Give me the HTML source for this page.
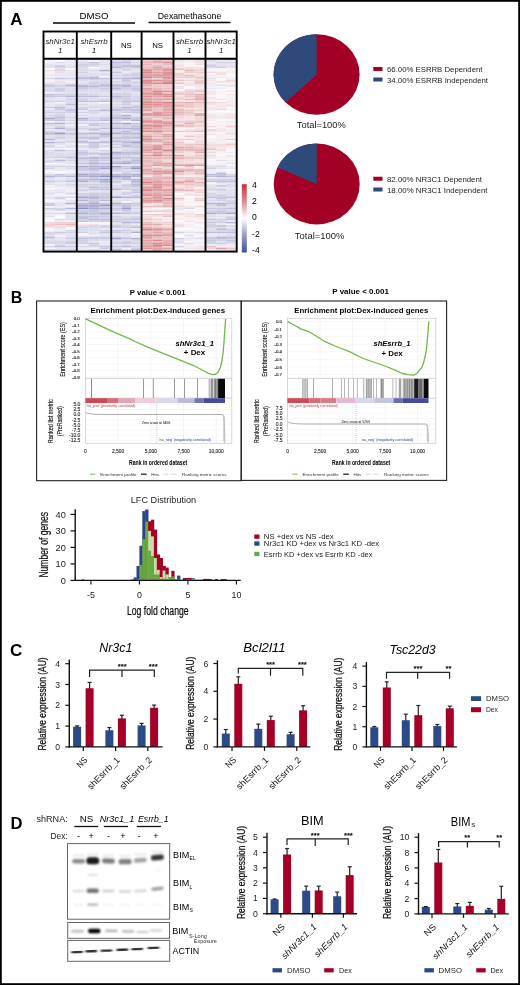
<!DOCTYPE html><html><head><meta charset="utf-8"><style>html,body{margin:0;padding:0;background:#fff;}svg{display:block;will-change:transform;}text{font-family:"Liberation Sans", sans-serif;}</style></head><body><svg width="520" height="985" viewBox="0 0 520 985"><rect x="0" y="0" width="520" height="985" fill="#fff"/><text x="10.3" y="24.8" font-size="17" font-weight="bold" fill="#000" >A</text>
<text x="94.0" y="18.7" font-size="9.4" text-anchor="middle" textLength="28.9" lengthAdjust="spacingAndGlyphs" >DMSO</text>
<line x1="53.00" y1="23.00" x2="135.00" y2="23.00" stroke="#000" stroke-width="1.4" />
<text x="189.5" y="18.6" font-size="8.9" text-anchor="middle" textLength="63.5" lengthAdjust="spacingAndGlyphs" >Dexamethasone</text>
<line x1="148.50" y1="22.50" x2="230.50" y2="22.50" stroke="#000" stroke-width="1.4" />
<defs><filter id="hb" x="0" y="0" width="1" height="1"><feGaussianBlur stdDeviation="0.45"/></filter></defs>
<g filter="url(#hb)">
<rect x="44.30" y="58.80" width="10.62" height="1.65" fill="#eae9f2" />
<rect x="44.30" y="60.40" width="10.62" height="1.65" fill="#f8f6fa" />
<rect x="44.30" y="62.00" width="10.62" height="1.65" fill="#edebf4" />
<rect x="44.30" y="63.60" width="10.62" height="1.65" fill="#e6e5f0" />
<rect x="44.30" y="65.20" width="10.62" height="1.65" fill="#ddddec" />
<rect x="44.30" y="66.80" width="10.62" height="1.65" fill="#e5e4f0" />
<rect x="44.30" y="68.40" width="10.62" height="1.65" fill="#f8f6fa" />
<rect x="44.30" y="70.00" width="10.62" height="1.65" fill="#f4e1e3" />
<rect x="44.30" y="71.60" width="10.62" height="1.65" fill="#f3f2f7" />
<rect x="44.30" y="73.20" width="10.62" height="1.65" fill="#eeedf5" />
<rect x="44.30" y="74.80" width="10.62" height="1.65" fill="#e9e8f2" />
<rect x="44.30" y="76.40" width="10.62" height="1.65" fill="#efeef5" />
<rect x="44.30" y="78.00" width="10.62" height="1.65" fill="#d8d8e9" />
<rect x="44.30" y="79.60" width="10.62" height="1.65" fill="#faf3f5" />
<rect x="44.30" y="81.20" width="10.62" height="1.65" fill="#f8ecee" />
<rect x="44.30" y="82.80" width="10.62" height="1.65" fill="#e0dfed" />
<rect x="44.30" y="84.40" width="10.62" height="1.65" fill="#c5c6df" />
<rect x="44.30" y="86.00" width="10.62" height="1.65" fill="#c8c8e1" />
<rect x="44.30" y="87.60" width="10.62" height="1.65" fill="#dddcec" />
<rect x="44.30" y="89.20" width="10.62" height="1.65" fill="#d1d1e5" />
<rect x="44.30" y="90.80" width="10.62" height="1.65" fill="#e1e1ee" />
<rect x="44.30" y="92.40" width="10.62" height="1.65" fill="#eeedf5" />
<rect x="44.30" y="94.00" width="10.62" height="1.65" fill="#bebfdb" />
<rect x="44.30" y="95.60" width="10.62" height="1.65" fill="#c2c3de" />
<rect x="44.30" y="97.20" width="10.62" height="1.65" fill="#dfdfed" />
<rect x="44.30" y="98.80" width="10.62" height="1.65" fill="#e2e1ee" />
<rect x="44.30" y="100.40" width="10.62" height="1.65" fill="#d5d5e7" />
<rect x="44.30" y="102.00" width="10.62" height="1.65" fill="#e6e6f1" />
<rect x="44.30" y="103.60" width="10.62" height="1.65" fill="#e6e5f1" />
<rect x="44.30" y="105.20" width="10.62" height="1.65" fill="#e9e8f2" />
<rect x="44.30" y="106.80" width="10.62" height="1.65" fill="#cacbe2" />
<rect x="44.30" y="108.40" width="10.62" height="1.65" fill="#ecebf4" />
<rect x="44.30" y="110.00" width="10.62" height="1.65" fill="#d9d9ea" />
<rect x="44.30" y="111.60" width="10.62" height="1.65" fill="#d0d0e5" />
<rect x="44.30" y="113.20" width="10.62" height="1.65" fill="#dedeec" />
<rect x="44.30" y="114.80" width="10.62" height="1.65" fill="#d8d8e9" />
<rect x="44.30" y="116.40" width="10.62" height="1.65" fill="#d2d2e6" />
<rect x="44.30" y="118.00" width="10.62" height="1.65" fill="#a6a8cf" />
<rect x="44.30" y="119.60" width="10.62" height="1.65" fill="#cbcbe2" />
<rect x="44.30" y="121.20" width="10.62" height="1.65" fill="#f0eff6" />
<rect x="44.30" y="122.80" width="10.62" height="1.65" fill="#bebfdb" />
<rect x="44.30" y="124.40" width="10.62" height="1.65" fill="#d9d9ea" />
<rect x="44.30" y="126.00" width="10.62" height="1.65" fill="#e7e6f1" />
<rect x="44.30" y="127.60" width="10.62" height="1.65" fill="#d0d1e5" />
<rect x="44.30" y="129.20" width="10.62" height="1.65" fill="#e9e8f2" />
<rect x="44.30" y="130.80" width="10.62" height="1.65" fill="#d1d1e5" />
<rect x="44.30" y="132.40" width="10.62" height="1.65" fill="#b9bad9" />
<rect x="44.30" y="134.00" width="10.62" height="1.65" fill="#cecfe4" />
<rect x="44.30" y="135.60" width="10.62" height="1.65" fill="#ddddec" />
<rect x="44.30" y="137.20" width="10.62" height="1.65" fill="#dbdaea" />
<rect x="44.30" y="138.80" width="10.62" height="1.65" fill="#b8bad8" />
<rect x="44.30" y="140.40" width="10.62" height="1.65" fill="#e2e2ef" />
<rect x="44.30" y="142.00" width="10.62" height="1.65" fill="#b0b1d4" />
<rect x="44.30" y="143.60" width="10.62" height="1.65" fill="#e7e6f1" />
<rect x="44.30" y="145.20" width="10.62" height="1.65" fill="#cacbe2" />
<rect x="44.30" y="146.80" width="10.62" height="1.65" fill="#e2e2ee" />
<rect x="44.30" y="148.40" width="10.62" height="1.65" fill="#f3f2f7" />
<rect x="44.30" y="150.00" width="10.62" height="1.65" fill="#d8d8e9" />
<rect x="44.30" y="151.60" width="10.62" height="1.65" fill="#dbdaea" />
<rect x="44.30" y="153.20" width="10.62" height="1.65" fill="#d3d3e7" />
<rect x="44.30" y="154.80" width="10.62" height="1.65" fill="#e2e1ee" />
<rect x="44.30" y="156.40" width="10.62" height="1.65" fill="#d3d3e6" />
<rect x="44.30" y="158.00" width="10.62" height="1.65" fill="#e9e8f2" />
<rect x="44.30" y="159.60" width="10.62" height="1.65" fill="#dcdbeb" />
<rect x="44.30" y="161.20" width="10.62" height="1.65" fill="#d0d0e5" />
<rect x="44.30" y="162.80" width="10.62" height="1.65" fill="#f9f8fb" />
<rect x="44.30" y="164.40" width="10.62" height="1.65" fill="#e2e1ee" />
<rect x="44.30" y="166.00" width="10.62" height="1.65" fill="#d7d7e9" />
<rect x="44.30" y="167.60" width="10.62" height="1.65" fill="#d0d0e5" />
<rect x="44.30" y="169.20" width="10.62" height="1.65" fill="#e9e8f2" />
<rect x="44.30" y="170.80" width="10.62" height="1.65" fill="#fcf9fb" />
<rect x="44.30" y="172.40" width="10.62" height="1.65" fill="#eeecf4" />
<rect x="44.30" y="174.00" width="10.62" height="1.65" fill="#d8d8e9" />
<rect x="44.30" y="175.60" width="10.62" height="1.65" fill="#b2b4d5" />
<rect x="44.30" y="177.20" width="10.62" height="1.65" fill="#d7d7e8" />
<rect x="44.30" y="178.80" width="10.62" height="1.65" fill="#e3e3ef" />
<rect x="44.30" y="180.40" width="10.62" height="1.65" fill="#cbcce2" />
<rect x="44.30" y="182.00" width="10.62" height="1.65" fill="#e2e2ef" />
<rect x="44.30" y="183.60" width="10.62" height="1.65" fill="#dedeec" />
<rect x="44.30" y="185.20" width="10.62" height="1.65" fill="#f3f2f7" />
<rect x="44.30" y="186.80" width="10.62" height="1.65" fill="#eeedf5" />
<rect x="44.30" y="188.40" width="10.62" height="1.65" fill="#f8f6fa" />
<rect x="44.30" y="190.00" width="10.62" height="1.65" fill="#e9e8f2" />
<rect x="44.30" y="191.60" width="10.62" height="1.65" fill="#e9e8f2" />
<rect x="44.30" y="193.20" width="10.62" height="1.65" fill="#dbdbeb" />
<rect x="44.30" y="194.80" width="10.62" height="1.65" fill="#f1eff6" />
<rect x="44.30" y="196.40" width="10.62" height="1.65" fill="#e3e3ef" />
<rect x="44.30" y="198.00" width="10.62" height="1.65" fill="#e5e4f0" />
<rect x="44.30" y="199.60" width="10.62" height="1.65" fill="#fbf8fa" />
<rect x="44.30" y="201.20" width="10.62" height="1.65" fill="#f3f1f7" />
<rect x="44.30" y="202.80" width="10.62" height="1.65" fill="#c9c9e1" />
<rect x="44.30" y="204.40" width="10.62" height="1.65" fill="#c2c3dd" />
<rect x="44.30" y="206.00" width="10.62" height="1.65" fill="#fcfafc" />
<rect x="44.30" y="207.60" width="10.62" height="1.65" fill="#cdcee4" />
<rect x="44.30" y="209.20" width="10.62" height="1.65" fill="#dbdbeb" />
<rect x="44.30" y="210.80" width="10.62" height="1.65" fill="#f4f2f8" />
<rect x="44.30" y="212.40" width="10.62" height="1.65" fill="#dbdbeb" />
<rect x="44.30" y="214.00" width="10.62" height="1.65" fill="#f8edef" />
<rect x="44.30" y="215.60" width="10.62" height="1.65" fill="#e0dfed" />
<rect x="44.30" y="217.20" width="10.62" height="1.65" fill="#f2f1f7" />
<rect x="44.30" y="218.80" width="10.62" height="1.65" fill="#fcfafc" />
<rect x="44.30" y="220.40" width="10.62" height="1.65" fill="#faf5f7" />
<rect x="44.30" y="222.00" width="10.62" height="1.65" fill="#f1d7d9" />
<rect x="44.30" y="223.60" width="10.62" height="1.65" fill="#efd0d2" />
<rect x="44.30" y="225.20" width="10.62" height="1.65" fill="#eeced0" />
<rect x="44.30" y="226.80" width="10.62" height="1.65" fill="#e8e7f2" />
<rect x="44.30" y="228.40" width="10.62" height="1.65" fill="#f5f4f8" />
<rect x="44.30" y="230.00" width="10.62" height="1.65" fill="#f7f5f9" />
<rect x="44.30" y="231.60" width="10.62" height="1.65" fill="#d7d7e9" />
<rect x="44.30" y="233.20" width="10.62" height="1.65" fill="#cfd0e5" />
<rect x="44.30" y="234.80" width="10.62" height="1.65" fill="#e9e8f2" />
<rect x="44.30" y="236.40" width="10.62" height="1.65" fill="#c0c0dc" />
<rect x="44.30" y="238.00" width="10.62" height="1.65" fill="#d8d7e9" />
<rect x="44.30" y="239.60" width="10.62" height="1.65" fill="#dfdeed" />
<rect x="44.30" y="241.20" width="10.62" height="1.65" fill="#d3d3e7" />
<rect x="44.30" y="242.80" width="10.62" height="1.65" fill="#d9d8e9" />
<rect x="44.30" y="244.40" width="10.62" height="1.65" fill="#f4f2f8" />
<rect x="44.30" y="246.00" width="10.62" height="1.65" fill="#d0d0e5" />
<rect x="44.30" y="247.60" width="10.62" height="1.65" fill="#f7f6fa" />
<rect x="44.30" y="249.20" width="10.62" height="1.65" fill="#cacbe2" />
<rect x="44.30" y="250.80" width="10.62" height="0.85" fill="#deddec" />
<rect x="54.87" y="58.80" width="10.62" height="1.65" fill="#f3f2f8" />
<rect x="54.87" y="60.40" width="10.62" height="1.65" fill="#fcf9fb" />
<rect x="54.87" y="62.00" width="10.62" height="1.65" fill="#dbdbeb" />
<rect x="54.87" y="63.60" width="10.62" height="1.65" fill="#ecebf4" />
<rect x="54.87" y="65.20" width="10.62" height="1.65" fill="#c3c3de" />
<rect x="54.87" y="66.80" width="10.62" height="1.65" fill="#d7d7e8" />
<rect x="54.87" y="68.40" width="10.62" height="1.65" fill="#dbdaea" />
<rect x="54.87" y="70.00" width="10.62" height="1.65" fill="#efd1d3" />
<rect x="54.87" y="71.60" width="10.62" height="1.65" fill="#e2e2ee" />
<rect x="54.87" y="73.20" width="10.62" height="1.65" fill="#e8e7f1" />
<rect x="54.87" y="74.80" width="10.62" height="1.65" fill="#e7e6f1" />
<rect x="54.87" y="76.40" width="10.62" height="1.65" fill="#e6e5f0" />
<rect x="54.87" y="78.00" width="10.62" height="1.65" fill="#c8c9e1" />
<rect x="54.87" y="79.60" width="10.62" height="1.65" fill="#edecf4" />
<rect x="54.87" y="81.20" width="10.62" height="1.65" fill="#f1d9db" />
<rect x="54.87" y="82.80" width="10.62" height="1.65" fill="#e5e4f0" />
<rect x="54.87" y="84.40" width="10.62" height="1.65" fill="#d1d1e6" />
<rect x="54.87" y="86.00" width="10.62" height="1.65" fill="#d6d6e8" />
<rect x="54.87" y="87.60" width="10.62" height="1.65" fill="#cfcfe4" />
<rect x="54.87" y="89.20" width="10.62" height="1.65" fill="#c4c5df" />
<rect x="54.87" y="90.80" width="10.62" height="1.65" fill="#d7d7e8" />
<rect x="54.87" y="92.40" width="10.62" height="1.65" fill="#e5e5f0" />
<rect x="54.87" y="94.00" width="10.62" height="1.65" fill="#cacbe2" />
<rect x="54.87" y="95.60" width="10.62" height="1.65" fill="#cacae2" />
<rect x="54.87" y="97.20" width="10.62" height="1.65" fill="#e8e7f2" />
<rect x="54.87" y="98.80" width="10.62" height="1.65" fill="#e6e6f1" />
<rect x="54.87" y="100.40" width="10.62" height="1.65" fill="#d1d2e6" />
<rect x="54.87" y="102.00" width="10.62" height="1.65" fill="#f4f3f8" />
<rect x="54.87" y="103.60" width="10.62" height="1.65" fill="#e1e0ee" />
<rect x="54.87" y="105.20" width="10.62" height="1.65" fill="#d8d8e9" />
<rect x="54.87" y="106.80" width="10.62" height="1.65" fill="#bcbdda" />
<rect x="54.87" y="108.40" width="10.62" height="1.65" fill="#c7c8e0" />
<rect x="54.87" y="110.00" width="10.62" height="1.65" fill="#dfdfed" />
<rect x="54.87" y="111.60" width="10.62" height="1.65" fill="#d0d0e5" />
<rect x="54.87" y="113.20" width="10.62" height="1.65" fill="#d5d5e7" />
<rect x="54.87" y="114.80" width="10.62" height="1.65" fill="#d1d1e6" />
<rect x="54.87" y="116.40" width="10.62" height="1.65" fill="#bebfdb" />
<rect x="54.87" y="118.00" width="10.62" height="1.65" fill="#cbcbe2" />
<rect x="54.87" y="119.60" width="10.62" height="1.65" fill="#c1c2dd" />
<rect x="54.87" y="121.20" width="10.62" height="1.65" fill="#e9e8f2" />
<rect x="54.87" y="122.80" width="10.62" height="1.65" fill="#adafd3" />
<rect x="54.87" y="124.40" width="10.62" height="1.65" fill="#dedeec" />
<rect x="54.87" y="126.00" width="10.62" height="1.65" fill="#d4d5e7" />
<rect x="54.87" y="127.60" width="10.62" height="1.65" fill="#aaacd1" />
<rect x="54.87" y="129.20" width="10.62" height="1.65" fill="#e0e0ed" />
<rect x="54.87" y="130.80" width="10.62" height="1.65" fill="#e2e1ee" />
<rect x="54.87" y="132.40" width="10.62" height="1.65" fill="#9ea1ca" />
<rect x="54.87" y="134.00" width="10.62" height="1.65" fill="#c7c8e0" />
<rect x="54.87" y="135.60" width="10.62" height="1.65" fill="#d9d9ea" />
<rect x="54.87" y="137.20" width="10.62" height="1.65" fill="#c6c7e0" />
<rect x="54.87" y="138.80" width="10.62" height="1.65" fill="#e5e4f0" />
<rect x="54.87" y="140.40" width="10.62" height="1.65" fill="#dedeec" />
<rect x="54.87" y="142.00" width="10.62" height="1.65" fill="#cdcde3" />
<rect x="54.87" y="143.60" width="10.62" height="1.65" fill="#e3e2ef" />
<rect x="54.87" y="145.20" width="10.62" height="1.65" fill="#edebf4" />
<rect x="54.87" y="146.80" width="10.62" height="1.65" fill="#e8e7f1" />
<rect x="54.87" y="148.40" width="10.62" height="1.65" fill="#ebe9f3" />
<rect x="54.87" y="150.00" width="10.62" height="1.65" fill="#bebfdb" />
<rect x="54.87" y="151.60" width="10.62" height="1.65" fill="#e3e2ef" />
<rect x="54.87" y="153.20" width="10.62" height="1.65" fill="#dad9ea" />
<rect x="54.87" y="154.80" width="10.62" height="1.65" fill="#dddcec" />
<rect x="54.87" y="156.40" width="10.62" height="1.65" fill="#cecee4" />
<rect x="54.87" y="158.00" width="10.62" height="1.65" fill="#edecf4" />
<rect x="54.87" y="159.60" width="10.62" height="1.65" fill="#b6b8d7" />
<rect x="54.87" y="161.20" width="10.62" height="1.65" fill="#dad9ea" />
<rect x="54.87" y="162.80" width="10.62" height="1.65" fill="#f6f4f9" />
<rect x="54.87" y="164.40" width="10.62" height="1.65" fill="#e4e3ef" />
<rect x="54.87" y="166.00" width="10.62" height="1.65" fill="#d4d4e7" />
<rect x="54.87" y="167.60" width="10.62" height="1.65" fill="#e9e8f2" />
<rect x="54.87" y="169.20" width="10.62" height="1.65" fill="#e6e5f0" />
<rect x="54.87" y="170.80" width="10.62" height="1.65" fill="#fbf9fb" />
<rect x="54.87" y="172.40" width="10.62" height="1.65" fill="#f5f4f8" />
<rect x="54.87" y="174.00" width="10.62" height="1.65" fill="#c3c4de" />
<rect x="54.87" y="175.60" width="10.62" height="1.65" fill="#c6c7e0" />
<rect x="54.87" y="177.20" width="10.62" height="1.65" fill="#ebeaf3" />
<rect x="54.87" y="178.80" width="10.62" height="1.65" fill="#e6e5f0" />
<rect x="54.87" y="180.40" width="10.62" height="1.65" fill="#d8d7e9" />
<rect x="54.87" y="182.00" width="10.62" height="1.65" fill="#ecebf4" />
<rect x="54.87" y="183.60" width="10.62" height="1.65" fill="#e4e3ef" />
<rect x="54.87" y="185.20" width="10.62" height="1.65" fill="#e1e0ee" />
<rect x="54.87" y="186.80" width="10.62" height="1.65" fill="#f0eef6" />
<rect x="54.87" y="188.40" width="10.62" height="1.65" fill="#e9e8f2" />
<rect x="54.87" y="190.00" width="10.62" height="1.65" fill="#eae9f2" />
<rect x="54.87" y="191.60" width="10.62" height="1.65" fill="#dfdfed" />
<rect x="54.87" y="193.20" width="10.62" height="1.65" fill="#f8eef0" />
<rect x="54.87" y="194.80" width="10.62" height="1.65" fill="#f5f3f8" />
<rect x="54.87" y="196.40" width="10.62" height="1.65" fill="#d8d8e9" />
<rect x="54.87" y="198.00" width="10.62" height="1.65" fill="#d1d1e5" />
<rect x="54.87" y="199.60" width="10.62" height="1.65" fill="#f3f1f7" />
<rect x="54.87" y="201.20" width="10.62" height="1.65" fill="#edecf4" />
<rect x="54.87" y="202.80" width="10.62" height="1.65" fill="#e0e0ed" />
<rect x="54.87" y="204.40" width="10.62" height="1.65" fill="#e1e0ee" />
<rect x="54.87" y="206.00" width="10.62" height="1.65" fill="#ebeaf3" />
<rect x="54.87" y="207.60" width="10.62" height="1.65" fill="#d6d6e8" />
<rect x="54.87" y="209.20" width="10.62" height="1.65" fill="#c9cae1" />
<rect x="54.87" y="210.80" width="10.62" height="1.65" fill="#fbf9fb" />
<rect x="54.87" y="212.40" width="10.62" height="1.65" fill="#dadaea" />
<rect x="54.87" y="214.00" width="10.62" height="1.65" fill="#eeedf5" />
<rect x="54.87" y="215.60" width="10.62" height="1.65" fill="#fbf9fb" />
<rect x="54.87" y="217.20" width="10.62" height="1.65" fill="#faf8fb" />
<rect x="54.87" y="218.80" width="10.62" height="1.65" fill="#dbdbeb" />
<rect x="54.87" y="220.40" width="10.62" height="1.65" fill="#e8e7f2" />
<rect x="54.87" y="222.00" width="10.62" height="1.65" fill="#efd0d2" />
<rect x="54.87" y="223.60" width="10.62" height="1.65" fill="#eac1c3" />
<rect x="54.87" y="225.20" width="10.62" height="1.65" fill="#f4e0e2" />
<rect x="54.87" y="226.80" width="10.62" height="1.65" fill="#dcdceb" />
<rect x="54.87" y="228.40" width="10.62" height="1.65" fill="#f6e7e9" />
<rect x="54.87" y="230.00" width="10.62" height="1.65" fill="#f2f1f7" />
<rect x="54.87" y="231.60" width="10.62" height="1.65" fill="#cacbe2" />
<rect x="54.87" y="233.20" width="10.62" height="1.65" fill="#dbdbeb" />
<rect x="54.87" y="234.80" width="10.62" height="1.65" fill="#faf4f6" />
<rect x="54.87" y="236.40" width="10.62" height="1.65" fill="#e4e3ef" />
<rect x="54.87" y="238.00" width="10.62" height="1.65" fill="#e3e2ef" />
<rect x="54.87" y="239.60" width="10.62" height="1.65" fill="#e4e4f0" />
<rect x="54.87" y="241.20" width="10.62" height="1.65" fill="#d0d0e5" />
<rect x="54.87" y="242.80" width="10.62" height="1.65" fill="#dcdbeb" />
<rect x="54.87" y="244.40" width="10.62" height="1.65" fill="#d1d1e5" />
<rect x="54.87" y="246.00" width="10.62" height="1.65" fill="#c5c5df" />
<rect x="54.87" y="247.60" width="10.62" height="1.65" fill="#e8e7f1" />
<rect x="54.87" y="249.20" width="10.62" height="1.65" fill="#d2d2e6" />
<rect x="54.87" y="250.80" width="10.62" height="0.85" fill="#c7c7e0" />
<rect x="65.43" y="58.80" width="10.62" height="1.65" fill="#e1e0ee" />
<rect x="65.43" y="60.40" width="10.62" height="1.65" fill="#f0eff6" />
<rect x="65.43" y="62.00" width="10.62" height="1.65" fill="#e7e6f1" />
<rect x="65.43" y="63.60" width="10.62" height="1.65" fill="#e9e8f2" />
<rect x="65.43" y="65.20" width="10.62" height="1.65" fill="#deddec" />
<rect x="65.43" y="66.80" width="10.62" height="1.65" fill="#dfdfed" />
<rect x="65.43" y="68.40" width="10.62" height="1.65" fill="#faf8fb" />
<rect x="65.43" y="70.00" width="10.62" height="1.65" fill="#f3dee0" />
<rect x="65.43" y="71.60" width="10.62" height="1.65" fill="#e7e6f1" />
<rect x="65.43" y="73.20" width="10.62" height="1.65" fill="#e1e0ee" />
<rect x="65.43" y="74.80" width="10.62" height="1.65" fill="#e9e8f2" />
<rect x="65.43" y="76.40" width="10.62" height="1.65" fill="#e5e4f0" />
<rect x="65.43" y="78.00" width="10.62" height="1.65" fill="#d2d3e6" />
<rect x="65.43" y="79.60" width="10.62" height="1.65" fill="#ebeaf3" />
<rect x="65.43" y="81.20" width="10.62" height="1.65" fill="#f8eef0" />
<rect x="65.43" y="82.80" width="10.62" height="1.65" fill="#e3e2ef" />
<rect x="65.43" y="84.40" width="10.62" height="1.65" fill="#b9bad9" />
<rect x="65.43" y="86.00" width="10.62" height="1.65" fill="#cecee4" />
<rect x="65.43" y="87.60" width="10.62" height="1.65" fill="#dedeec" />
<rect x="65.43" y="89.20" width="10.62" height="1.65" fill="#dadaea" />
<rect x="65.43" y="90.80" width="10.62" height="1.65" fill="#dbdbeb" />
<rect x="65.43" y="92.40" width="10.62" height="1.65" fill="#dedeec" />
<rect x="65.43" y="94.00" width="10.62" height="1.65" fill="#d4d4e7" />
<rect x="65.43" y="95.60" width="10.62" height="1.65" fill="#b8b9d8" />
<rect x="65.43" y="97.20" width="10.62" height="1.65" fill="#ddddec" />
<rect x="65.43" y="98.80" width="10.62" height="1.65" fill="#d2d2e6" />
<rect x="65.43" y="100.40" width="10.62" height="1.65" fill="#dbdaea" />
<rect x="65.43" y="102.00" width="10.62" height="1.65" fill="#dfdeed" />
<rect x="65.43" y="103.60" width="10.62" height="1.65" fill="#bcbedb" />
<rect x="65.43" y="105.20" width="10.62" height="1.65" fill="#dadaea" />
<rect x="65.43" y="106.80" width="10.62" height="1.65" fill="#e4e3ef" />
<rect x="65.43" y="108.40" width="10.62" height="1.65" fill="#cacbe2" />
<rect x="65.43" y="110.00" width="10.62" height="1.65" fill="#c2c3dd" />
<rect x="65.43" y="111.60" width="10.62" height="1.65" fill="#cdcde3" />
<rect x="65.43" y="113.20" width="10.62" height="1.65" fill="#e5e4f0" />
<rect x="65.43" y="114.80" width="10.62" height="1.65" fill="#e1e0ee" />
<rect x="65.43" y="116.40" width="10.62" height="1.65" fill="#d5d5e8" />
<rect x="65.43" y="118.00" width="10.62" height="1.65" fill="#dfdeed" />
<rect x="65.43" y="119.60" width="10.62" height="1.65" fill="#dadaea" />
<rect x="65.43" y="121.20" width="10.62" height="1.65" fill="#e5e4f0" />
<rect x="65.43" y="122.80" width="10.62" height="1.65" fill="#d6d6e8" />
<rect x="65.43" y="124.40" width="10.62" height="1.65" fill="#edecf4" />
<rect x="65.43" y="126.00" width="10.62" height="1.65" fill="#e7e6f1" />
<rect x="65.43" y="127.60" width="10.62" height="1.65" fill="#d3d3e6" />
<rect x="65.43" y="129.20" width="10.62" height="1.65" fill="#c9cae1" />
<rect x="65.43" y="130.80" width="10.62" height="1.65" fill="#e3e3ef" />
<rect x="65.43" y="132.40" width="10.62" height="1.65" fill="#c7c8e0" />
<rect x="65.43" y="134.00" width="10.62" height="1.65" fill="#cfcfe4" />
<rect x="65.43" y="135.60" width="10.62" height="1.65" fill="#e2e1ee" />
<rect x="65.43" y="137.20" width="10.62" height="1.65" fill="#d5d5e7" />
<rect x="65.43" y="138.80" width="10.62" height="1.65" fill="#e6e5f1" />
<rect x="65.43" y="140.40" width="10.62" height="1.65" fill="#d3d3e6" />
<rect x="65.43" y="142.00" width="10.62" height="1.65" fill="#e4e3ef" />
<rect x="65.43" y="143.60" width="10.62" height="1.65" fill="#edecf4" />
<rect x="65.43" y="145.20" width="10.62" height="1.65" fill="#dbdbeb" />
<rect x="65.43" y="146.80" width="10.62" height="1.65" fill="#e1e1ee" />
<rect x="65.43" y="148.40" width="10.62" height="1.65" fill="#f9f2f4" />
<rect x="65.43" y="150.00" width="10.62" height="1.65" fill="#d6d6e8" />
<rect x="65.43" y="151.60" width="10.62" height="1.65" fill="#e2e2ef" />
<rect x="65.43" y="153.20" width="10.62" height="1.65" fill="#d6d6e8" />
<rect x="65.43" y="154.80" width="10.62" height="1.65" fill="#e0e0ed" />
<rect x="65.43" y="156.40" width="10.62" height="1.65" fill="#c4c5df" />
<rect x="65.43" y="158.00" width="10.62" height="1.65" fill="#d9d9ea" />
<rect x="65.43" y="159.60" width="10.62" height="1.65" fill="#d4d4e7" />
<rect x="65.43" y="161.20" width="10.62" height="1.65" fill="#e1e1ee" />
<rect x="65.43" y="162.80" width="10.62" height="1.65" fill="#e3e2ef" />
<rect x="65.43" y="164.40" width="10.62" height="1.65" fill="#efeef5" />
<rect x="65.43" y="166.00" width="10.62" height="1.65" fill="#d6d6e8" />
<rect x="65.43" y="167.60" width="10.62" height="1.65" fill="#dadaea" />
<rect x="65.43" y="169.20" width="10.62" height="1.65" fill="#e9e8f2" />
<rect x="65.43" y="170.80" width="10.62" height="1.65" fill="#f5f3f8" />
<rect x="65.43" y="172.40" width="10.62" height="1.65" fill="#e8e7f2" />
<rect x="65.43" y="174.00" width="10.62" height="1.65" fill="#d8d8e9" />
<rect x="65.43" y="175.60" width="10.62" height="1.65" fill="#b9bad9" />
<rect x="65.43" y="177.20" width="10.62" height="1.65" fill="#e1e0ee" />
<rect x="65.43" y="178.80" width="10.62" height="1.65" fill="#dcdceb" />
<rect x="65.43" y="180.40" width="10.62" height="1.65" fill="#c4c5df" />
<rect x="65.43" y="182.00" width="10.62" height="1.65" fill="#e9e8f2" />
<rect x="65.43" y="183.60" width="10.62" height="1.65" fill="#d8d8e9" />
<rect x="65.43" y="185.20" width="10.62" height="1.65" fill="#ddddec" />
<rect x="65.43" y="186.80" width="10.62" height="1.65" fill="#ecebf4" />
<rect x="65.43" y="188.40" width="10.62" height="1.65" fill="#eeedf5" />
<rect x="65.43" y="190.00" width="10.62" height="1.65" fill="#f3f1f7" />
<rect x="65.43" y="191.60" width="10.62" height="1.65" fill="#e6e6f1" />
<rect x="65.43" y="193.20" width="10.62" height="1.65" fill="#d8d8e9" />
<rect x="65.43" y="194.80" width="10.62" height="1.65" fill="#fcf9fb" />
<rect x="65.43" y="196.40" width="10.62" height="1.65" fill="#d7d7e9" />
<rect x="65.43" y="198.00" width="10.62" height="1.65" fill="#fcfafc" />
<rect x="65.43" y="199.60" width="10.62" height="1.65" fill="#e2e1ee" />
<rect x="65.43" y="201.20" width="10.62" height="1.65" fill="#e5e4f0" />
<rect x="65.43" y="202.80" width="10.62" height="1.65" fill="#b2b4d5" />
<rect x="65.43" y="204.40" width="10.62" height="1.65" fill="#e5e4f0" />
<rect x="65.43" y="206.00" width="10.62" height="1.65" fill="#f7f5f9" />
<rect x="65.43" y="207.60" width="10.62" height="1.65" fill="#b5b6d7" />
<rect x="65.43" y="209.20" width="10.62" height="1.65" fill="#e1e1ee" />
<rect x="65.43" y="210.80" width="10.62" height="1.65" fill="#f6f4f9" />
<rect x="65.43" y="212.40" width="10.62" height="1.65" fill="#bebfdc" />
<rect x="65.43" y="214.00" width="10.62" height="1.65" fill="#e1e1ee" />
<rect x="65.43" y="215.60" width="10.62" height="1.65" fill="#dfdfed" />
<rect x="65.43" y="217.20" width="10.62" height="1.65" fill="#dedeec" />
<rect x="65.43" y="218.80" width="10.62" height="1.65" fill="#dbdbeb" />
<rect x="65.43" y="220.40" width="10.62" height="1.65" fill="#f0eff6" />
<rect x="65.43" y="222.00" width="10.62" height="1.65" fill="#efd1d3" />
<rect x="65.43" y="223.60" width="10.62" height="1.65" fill="#e7b9bb" />
<rect x="65.43" y="225.20" width="10.62" height="1.65" fill="#efd2d4" />
<rect x="65.43" y="226.80" width="10.62" height="1.65" fill="#f8f6fa" />
<rect x="65.43" y="228.40" width="10.62" height="1.65" fill="#faf4f6" />
<rect x="65.43" y="230.00" width="10.62" height="1.65" fill="#d7d7e9" />
<rect x="65.43" y="231.60" width="10.62" height="1.65" fill="#d4d4e7" />
<rect x="65.43" y="233.20" width="10.62" height="1.65" fill="#dfdeed" />
<rect x="65.43" y="234.80" width="10.62" height="1.65" fill="#e1e1ee" />
<rect x="65.43" y="236.40" width="10.62" height="1.65" fill="#d8d8e9" />
<rect x="65.43" y="238.00" width="10.62" height="1.65" fill="#cdcde3" />
<rect x="65.43" y="239.60" width="10.62" height="1.65" fill="#e1e0ee" />
<rect x="65.43" y="241.20" width="10.62" height="1.65" fill="#c6c6df" />
<rect x="65.43" y="242.80" width="10.62" height="1.65" fill="#c8c9e1" />
<rect x="65.43" y="244.40" width="10.62" height="1.65" fill="#eae9f3" />
<rect x="65.43" y="246.00" width="10.62" height="1.65" fill="#cccde3" />
<rect x="65.43" y="247.60" width="10.62" height="1.65" fill="#e5e4f0" />
<rect x="65.43" y="249.20" width="10.62" height="1.65" fill="#cacbe2" />
<rect x="65.43" y="250.80" width="10.62" height="0.85" fill="#c6c7e0" />
<rect x="77.60" y="58.80" width="10.98" height="1.65" fill="#e3e2ef" />
<rect x="77.60" y="60.40" width="10.98" height="1.65" fill="#e6e5f0" />
<rect x="77.60" y="62.00" width="10.98" height="1.65" fill="#d8d8e9" />
<rect x="77.60" y="63.60" width="10.98" height="1.65" fill="#cfcfe4" />
<rect x="77.60" y="65.20" width="10.98" height="1.65" fill="#cdcde3" />
<rect x="77.60" y="66.80" width="10.98" height="1.65" fill="#dbdaea" />
<rect x="77.60" y="68.40" width="10.98" height="1.65" fill="#dad9ea" />
<rect x="77.60" y="70.00" width="10.98" height="1.65" fill="#ddddec" />
<rect x="77.60" y="71.60" width="10.98" height="1.65" fill="#d0d1e5" />
<rect x="77.60" y="73.20" width="10.98" height="1.65" fill="#dcdbeb" />
<rect x="77.60" y="74.80" width="10.98" height="1.65" fill="#dcdceb" />
<rect x="77.60" y="76.40" width="10.98" height="1.65" fill="#c5c6df" />
<rect x="77.60" y="78.00" width="10.98" height="1.65" fill="#bdbedb" />
<rect x="77.60" y="79.60" width="10.98" height="1.65" fill="#dcdbeb" />
<rect x="77.60" y="81.20" width="10.98" height="1.65" fill="#e1e0ee" />
<rect x="77.60" y="82.80" width="10.98" height="1.65" fill="#e2e2ee" />
<rect x="77.60" y="84.40" width="10.98" height="1.65" fill="#c0c1dc" />
<rect x="77.60" y="86.00" width="10.98" height="1.65" fill="#b4b5d6" />
<rect x="77.60" y="87.60" width="10.98" height="1.65" fill="#c9c9e1" />
<rect x="77.60" y="89.20" width="10.98" height="1.65" fill="#cfcfe4" />
<rect x="77.60" y="90.80" width="10.98" height="1.65" fill="#e2e1ee" />
<rect x="77.60" y="92.40" width="10.98" height="1.65" fill="#d9d9ea" />
<rect x="77.60" y="94.00" width="10.98" height="1.65" fill="#d3d3e6" />
<rect x="77.60" y="95.60" width="10.98" height="1.65" fill="#bbbcda" />
<rect x="77.60" y="97.20" width="10.98" height="1.65" fill="#d5d5e7" />
<rect x="77.60" y="98.80" width="10.98" height="1.65" fill="#d1d1e5" />
<rect x="77.60" y="100.40" width="10.98" height="1.65" fill="#bebfdc" />
<rect x="77.60" y="102.00" width="10.98" height="1.65" fill="#e7e6f1" />
<rect x="77.60" y="103.60" width="10.98" height="1.65" fill="#d6d6e8" />
<rect x="77.60" y="105.20" width="10.98" height="1.65" fill="#e4e3ef" />
<rect x="77.60" y="106.80" width="10.98" height="1.65" fill="#d5d5e8" />
<rect x="77.60" y="108.40" width="10.98" height="1.65" fill="#c7c7e0" />
<rect x="77.60" y="110.00" width="10.98" height="1.65" fill="#edecf4" />
<rect x="77.60" y="111.60" width="10.98" height="1.65" fill="#d0d0e5" />
<rect x="77.60" y="113.20" width="10.98" height="1.65" fill="#e9e8f2" />
<rect x="77.60" y="114.80" width="10.98" height="1.65" fill="#dadaea" />
<rect x="77.60" y="116.40" width="10.98" height="1.65" fill="#dedeec" />
<rect x="77.60" y="118.00" width="10.98" height="1.65" fill="#a9abd0" />
<rect x="77.60" y="119.60" width="10.98" height="1.65" fill="#c5c6df" />
<rect x="77.60" y="121.20" width="10.98" height="1.65" fill="#e6e5f0" />
<rect x="77.60" y="122.80" width="10.98" height="1.65" fill="#d3d3e6" />
<rect x="77.60" y="124.40" width="10.98" height="1.65" fill="#f2f1f7" />
<rect x="77.60" y="126.00" width="10.98" height="1.65" fill="#dddcec" />
<rect x="77.60" y="127.60" width="10.98" height="1.65" fill="#d2d2e6" />
<rect x="77.60" y="129.20" width="10.98" height="1.65" fill="#ddddec" />
<rect x="77.60" y="130.80" width="10.98" height="1.65" fill="#ecebf4" />
<rect x="77.60" y="132.40" width="10.98" height="1.65" fill="#bfc0dc" />
<rect x="77.60" y="134.00" width="10.98" height="1.65" fill="#cbcce2" />
<rect x="77.60" y="135.60" width="10.98" height="1.65" fill="#d7d7e8" />
<rect x="77.60" y="137.20" width="10.98" height="1.65" fill="#b7b9d8" />
<rect x="77.60" y="138.80" width="10.98" height="1.65" fill="#e4e3ef" />
<rect x="77.60" y="140.40" width="10.98" height="1.65" fill="#c1c2dd" />
<rect x="77.60" y="142.00" width="10.98" height="1.65" fill="#c0c1dc" />
<rect x="77.60" y="143.60" width="10.98" height="1.65" fill="#f1f0f6" />
<rect x="77.60" y="145.20" width="10.98" height="1.65" fill="#d4d4e7" />
<rect x="77.60" y="146.80" width="10.98" height="1.65" fill="#d9d9ea" />
<rect x="77.60" y="148.40" width="10.98" height="1.65" fill="#ebeaf3" />
<rect x="77.60" y="150.00" width="10.98" height="1.65" fill="#d2d2e6" />
<rect x="77.60" y="151.60" width="10.98" height="1.65" fill="#c3c4de" />
<rect x="77.60" y="153.20" width="10.98" height="1.65" fill="#bfc0dc" />
<rect x="77.60" y="154.80" width="10.98" height="1.65" fill="#dbdaea" />
<rect x="77.60" y="156.40" width="10.98" height="1.65" fill="#cdcee3" />
<rect x="77.60" y="158.00" width="10.98" height="1.65" fill="#babcda" />
<rect x="77.60" y="159.60" width="10.98" height="1.65" fill="#d2d3e6" />
<rect x="77.60" y="161.20" width="10.98" height="1.65" fill="#d5d5e7" />
<rect x="77.60" y="162.80" width="10.98" height="1.65" fill="#c3c4de" />
<rect x="77.60" y="164.40" width="10.98" height="1.65" fill="#dcdceb" />
<rect x="77.60" y="166.00" width="10.98" height="1.65" fill="#a9abd1" />
<rect x="77.60" y="167.60" width="10.98" height="1.65" fill="#c9cae1" />
<rect x="77.60" y="169.20" width="10.98" height="1.65" fill="#c2c3dd" />
<rect x="77.60" y="170.80" width="10.98" height="1.65" fill="#e1e1ee" />
<rect x="77.60" y="172.40" width="10.98" height="1.65" fill="#c8c9e1" />
<rect x="77.60" y="174.00" width="10.98" height="1.65" fill="#a5a7ce" />
<rect x="77.60" y="175.60" width="10.98" height="1.65" fill="#b0b2d4" />
<rect x="77.60" y="177.20" width="10.98" height="1.65" fill="#dcdbeb" />
<rect x="77.60" y="178.80" width="10.98" height="1.65" fill="#bcbdda" />
<rect x="77.60" y="180.40" width="10.98" height="1.65" fill="#adafd3" />
<rect x="77.60" y="182.00" width="10.98" height="1.65" fill="#dbdbeb" />
<rect x="77.60" y="183.60" width="10.98" height="1.65" fill="#d2d2e6" />
<rect x="77.60" y="185.20" width="10.98" height="1.65" fill="#cacae2" />
<rect x="77.60" y="186.80" width="10.98" height="1.65" fill="#dadaea" />
<rect x="77.60" y="188.40" width="10.98" height="1.65" fill="#d7d7e9" />
<rect x="77.60" y="190.00" width="10.98" height="1.65" fill="#cfd0e5" />
<rect x="77.60" y="191.60" width="10.98" height="1.65" fill="#e6e5f0" />
<rect x="77.60" y="193.20" width="10.98" height="1.65" fill="#c8c8e1" />
<rect x="77.60" y="194.80" width="10.98" height="1.65" fill="#d2d3e6" />
<rect x="77.60" y="196.40" width="10.98" height="1.65" fill="#a3a5cd" />
<rect x="77.60" y="198.00" width="10.98" height="1.65" fill="#d0d0e5" />
<rect x="77.60" y="199.60" width="10.98" height="1.65" fill="#b3b5d6" />
<rect x="77.60" y="201.20" width="10.98" height="1.65" fill="#ddddec" />
<rect x="77.60" y="202.80" width="10.98" height="1.65" fill="#b8bad9" />
<rect x="77.60" y="204.40" width="10.98" height="1.65" fill="#a6a8cf" />
<rect x="77.60" y="206.00" width="10.98" height="1.65" fill="#b5b7d7" />
<rect x="77.60" y="207.60" width="10.98" height="1.65" fill="#8f93c2" />
<rect x="77.60" y="209.20" width="10.98" height="1.65" fill="#cdcde3" />
<rect x="77.60" y="210.80" width="10.98" height="1.65" fill="#c6c6e0" />
<rect x="77.60" y="212.40" width="10.98" height="1.65" fill="#adafd3" />
<rect x="77.60" y="214.00" width="10.98" height="1.65" fill="#cfd0e5" />
<rect x="77.60" y="215.60" width="10.98" height="1.65" fill="#c6c7e0" />
<rect x="77.60" y="217.20" width="10.98" height="1.65" fill="#b4b6d6" />
<rect x="77.60" y="218.80" width="10.98" height="1.65" fill="#cecee4" />
<rect x="77.60" y="220.40" width="10.98" height="1.65" fill="#c2c3de" />
<rect x="77.60" y="222.00" width="10.98" height="1.65" fill="#f9f8fb" />
<rect x="77.60" y="223.60" width="10.98" height="1.65" fill="#f6e7e9" />
<rect x="77.60" y="225.20" width="10.98" height="1.65" fill="#d8d8e9" />
<rect x="77.60" y="226.80" width="10.98" height="1.65" fill="#d2d2e6" />
<rect x="77.60" y="228.40" width="10.98" height="1.65" fill="#dbdaea" />
<rect x="77.60" y="230.00" width="10.98" height="1.65" fill="#dcdceb" />
<rect x="77.60" y="231.60" width="10.98" height="1.65" fill="#c9c9e1" />
<rect x="77.60" y="233.20" width="10.98" height="1.65" fill="#f6f4f9" />
<rect x="77.60" y="234.80" width="10.98" height="1.65" fill="#f2f1f7" />
<rect x="77.60" y="236.40" width="10.98" height="1.65" fill="#d3d3e7" />
<rect x="77.60" y="238.00" width="10.98" height="1.65" fill="#c2c3de" />
<rect x="77.60" y="239.60" width="10.98" height="1.65" fill="#cfcfe4" />
<rect x="77.60" y="241.20" width="10.98" height="1.65" fill="#cccce3" />
<rect x="77.60" y="242.80" width="10.98" height="1.65" fill="#d2d2e6" />
<rect x="77.60" y="244.40" width="10.98" height="1.65" fill="#ecebf4" />
<rect x="77.60" y="246.00" width="10.98" height="1.65" fill="#d4d5e7" />
<rect x="77.60" y="247.60" width="10.98" height="1.65" fill="#eeecf4" />
<rect x="77.60" y="249.20" width="10.98" height="1.65" fill="#e4e3ef" />
<rect x="77.60" y="250.80" width="10.98" height="0.85" fill="#c7c7e0" />
<rect x="88.53" y="58.80" width="10.98" height="1.65" fill="#dbdaea" />
<rect x="88.53" y="60.40" width="10.98" height="1.65" fill="#faf3f5" />
<rect x="88.53" y="62.00" width="10.98" height="1.65" fill="#c0c1dd" />
<rect x="88.53" y="63.60" width="10.98" height="1.65" fill="#d1d1e5" />
<rect x="88.53" y="65.20" width="10.98" height="1.65" fill="#d2d2e6" />
<rect x="88.53" y="66.80" width="10.98" height="1.65" fill="#fbf9fc" />
<rect x="88.53" y="68.40" width="10.98" height="1.65" fill="#e9e8f2" />
<rect x="88.53" y="70.00" width="10.98" height="1.65" fill="#dadaea" />
<rect x="88.53" y="71.60" width="10.98" height="1.65" fill="#e7e6f1" />
<rect x="88.53" y="73.20" width="10.98" height="1.65" fill="#dadaea" />
<rect x="88.53" y="74.80" width="10.98" height="1.65" fill="#e3e2ef" />
<rect x="88.53" y="76.40" width="10.98" height="1.65" fill="#bebfdc" />
<rect x="88.53" y="78.00" width="10.98" height="1.65" fill="#b4b6d6" />
<rect x="88.53" y="79.60" width="10.98" height="1.65" fill="#dfdfed" />
<rect x="88.53" y="81.20" width="10.98" height="1.65" fill="#cecfe4" />
<rect x="88.53" y="82.80" width="10.98" height="1.65" fill="#cecee4" />
<rect x="88.53" y="84.40" width="10.98" height="1.65" fill="#c9c9e1" />
<rect x="88.53" y="86.00" width="10.98" height="1.65" fill="#b7b8d8" />
<rect x="88.53" y="87.60" width="10.98" height="1.65" fill="#d3d3e7" />
<rect x="88.53" y="89.20" width="10.98" height="1.65" fill="#dad9ea" />
<rect x="88.53" y="90.80" width="10.98" height="1.65" fill="#dddcec" />
<rect x="88.53" y="92.40" width="10.98" height="1.65" fill="#dbdbeb" />
<rect x="88.53" y="94.00" width="10.98" height="1.65" fill="#dadaea" />
<rect x="88.53" y="95.60" width="10.98" height="1.65" fill="#babbda" />
<rect x="88.53" y="97.20" width="10.98" height="1.65" fill="#d9d9ea" />
<rect x="88.53" y="98.80" width="10.98" height="1.65" fill="#dfdfed" />
<rect x="88.53" y="100.40" width="10.98" height="1.65" fill="#c6c7e0" />
<rect x="88.53" y="102.00" width="10.98" height="1.65" fill="#e7e6f1" />
<rect x="88.53" y="103.60" width="10.98" height="1.65" fill="#e4e4f0" />
<rect x="88.53" y="105.20" width="10.98" height="1.65" fill="#d9d9e9" />
<rect x="88.53" y="106.80" width="10.98" height="1.65" fill="#d7d7e8" />
<rect x="88.53" y="108.40" width="10.98" height="1.65" fill="#e3e3ef" />
<rect x="88.53" y="110.00" width="10.98" height="1.65" fill="#cacae2" />
<rect x="88.53" y="111.60" width="10.98" height="1.65" fill="#d7d7e8" />
<rect x="88.53" y="113.20" width="10.98" height="1.65" fill="#dbdbeb" />
<rect x="88.53" y="114.80" width="10.98" height="1.65" fill="#eae9f3" />
<rect x="88.53" y="116.40" width="10.98" height="1.65" fill="#d5d5e7" />
<rect x="88.53" y="118.00" width="10.98" height="1.65" fill="#d6d6e8" />
<rect x="88.53" y="119.60" width="10.98" height="1.65" fill="#c6c6e0" />
<rect x="88.53" y="121.20" width="10.98" height="1.65" fill="#e3e2ef" />
<rect x="88.53" y="122.80" width="10.98" height="1.65" fill="#cbcbe2" />
<rect x="88.53" y="124.40" width="10.98" height="1.65" fill="#bfc0dc" />
<rect x="88.53" y="126.00" width="10.98" height="1.65" fill="#e9e8f2" />
<rect x="88.53" y="127.60" width="10.98" height="1.65" fill="#cdcde3" />
<rect x="88.53" y="129.20" width="10.98" height="1.65" fill="#bcbdda" />
<rect x="88.53" y="130.80" width="10.98" height="1.65" fill="#eae9f2" />
<rect x="88.53" y="132.40" width="10.98" height="1.65" fill="#b6b8d8" />
<rect x="88.53" y="134.00" width="10.98" height="1.65" fill="#d4d4e7" />
<rect x="88.53" y="135.60" width="10.98" height="1.65" fill="#d5d5e7" />
<rect x="88.53" y="137.20" width="10.98" height="1.65" fill="#b2b3d5" />
<rect x="88.53" y="138.80" width="10.98" height="1.65" fill="#d4d4e7" />
<rect x="88.53" y="140.40" width="10.98" height="1.65" fill="#e1e1ee" />
<rect x="88.53" y="142.00" width="10.98" height="1.65" fill="#b4b6d6" />
<rect x="88.53" y="143.60" width="10.98" height="1.65" fill="#cbcce2" />
<rect x="88.53" y="145.20" width="10.98" height="1.65" fill="#c4c5df" />
<rect x="88.53" y="146.80" width="10.98" height="1.65" fill="#c9cae1" />
<rect x="88.53" y="148.40" width="10.98" height="1.65" fill="#e2e1ee" />
<rect x="88.53" y="150.00" width="10.98" height="1.65" fill="#e6e5f0" />
<rect x="88.53" y="151.60" width="10.98" height="1.65" fill="#d4d4e7" />
<rect x="88.53" y="153.20" width="10.98" height="1.65" fill="#bfc0dc" />
<rect x="88.53" y="154.80" width="10.98" height="1.65" fill="#edecf4" />
<rect x="88.53" y="156.40" width="10.98" height="1.65" fill="#bcbddb" />
<rect x="88.53" y="158.00" width="10.98" height="1.65" fill="#bcbdda" />
<rect x="88.53" y="159.60" width="10.98" height="1.65" fill="#c2c2dd" />
<rect x="88.53" y="161.20" width="10.98" height="1.65" fill="#c5c6df" />
<rect x="88.53" y="162.80" width="10.98" height="1.65" fill="#b5b6d7" />
<rect x="88.53" y="164.40" width="10.98" height="1.65" fill="#cacae2" />
<rect x="88.53" y="166.00" width="10.98" height="1.65" fill="#b3b4d6" />
<rect x="88.53" y="167.60" width="10.98" height="1.65" fill="#b9bbd9" />
<rect x="88.53" y="169.20" width="10.98" height="1.65" fill="#b9bbd9" />
<rect x="88.53" y="170.80" width="10.98" height="1.65" fill="#d7d7e9" />
<rect x="88.53" y="172.40" width="10.98" height="1.65" fill="#c7c8e0" />
<rect x="88.53" y="174.00" width="10.98" height="1.65" fill="#b5b6d7" />
<rect x="88.53" y="175.60" width="10.98" height="1.65" fill="#a4a6ce" />
<rect x="88.53" y="177.20" width="10.98" height="1.65" fill="#c9cae1" />
<rect x="88.53" y="178.80" width="10.98" height="1.65" fill="#b7b8d8" />
<rect x="88.53" y="180.40" width="10.98" height="1.65" fill="#c5c6df" />
<rect x="88.53" y="182.00" width="10.98" height="1.65" fill="#e2e1ee" />
<rect x="88.53" y="183.60" width="10.98" height="1.65" fill="#cdcee3" />
<rect x="88.53" y="185.20" width="10.98" height="1.65" fill="#d1d1e6" />
<rect x="88.53" y="186.80" width="10.98" height="1.65" fill="#bcbdda" />
<rect x="88.53" y="188.40" width="10.98" height="1.65" fill="#c9cae1" />
<rect x="88.53" y="190.00" width="10.98" height="1.65" fill="#dfdfed" />
<rect x="88.53" y="191.60" width="10.98" height="1.65" fill="#ddddec" />
<rect x="88.53" y="193.20" width="10.98" height="1.65" fill="#c2c3de" />
<rect x="88.53" y="194.80" width="10.98" height="1.65" fill="#c7c7e0" />
<rect x="88.53" y="196.40" width="10.98" height="1.65" fill="#afb0d3" />
<rect x="88.53" y="198.00" width="10.98" height="1.65" fill="#bbbdda" />
<rect x="88.53" y="199.60" width="10.98" height="1.65" fill="#cccce3" />
<rect x="88.53" y="201.20" width="10.98" height="1.65" fill="#bcbedb" />
<rect x="88.53" y="202.80" width="10.98" height="1.65" fill="#abadd1" />
<rect x="88.53" y="204.40" width="10.98" height="1.65" fill="#a7a9d0" />
<rect x="88.53" y="206.00" width="10.98" height="1.65" fill="#afb0d3" />
<rect x="88.53" y="207.60" width="10.98" height="1.65" fill="#a8aad0" />
<rect x="88.53" y="209.20" width="10.98" height="1.65" fill="#c0c1dd" />
<rect x="88.53" y="210.80" width="10.98" height="1.65" fill="#c5c5df" />
<rect x="88.53" y="212.40" width="10.98" height="1.65" fill="#babcda" />
<rect x="88.53" y="214.00" width="10.98" height="1.65" fill="#d0d0e5" />
<rect x="88.53" y="215.60" width="10.98" height="1.65" fill="#bfc0dc" />
<rect x="88.53" y="217.20" width="10.98" height="1.65" fill="#cacae2" />
<rect x="88.53" y="218.80" width="10.98" height="1.65" fill="#b8b9d8" />
<rect x="88.53" y="220.40" width="10.98" height="1.65" fill="#cdcde3" />
<rect x="88.53" y="222.00" width="10.98" height="1.65" fill="#faf8fb" />
<rect x="88.53" y="223.60" width="10.98" height="1.65" fill="#f4e0e2" />
<rect x="88.53" y="225.20" width="10.98" height="1.65" fill="#d0d0e5" />
<rect x="88.53" y="226.80" width="10.98" height="1.65" fill="#d9d9ea" />
<rect x="88.53" y="228.40" width="10.98" height="1.65" fill="#ddddec" />
<rect x="88.53" y="230.00" width="10.98" height="1.65" fill="#deddec" />
<rect x="88.53" y="231.60" width="10.98" height="1.65" fill="#e3e3ef" />
<rect x="88.53" y="233.20" width="10.98" height="1.65" fill="#dcdceb" />
<rect x="88.53" y="234.80" width="10.98" height="1.65" fill="#f9f0f2" />
<rect x="88.53" y="236.40" width="10.98" height="1.65" fill="#cccce3" />
<rect x="88.53" y="238.00" width="10.98" height="1.65" fill="#c9cae1" />
<rect x="88.53" y="239.60" width="10.98" height="1.65" fill="#dadaea" />
<rect x="88.53" y="241.20" width="10.98" height="1.65" fill="#e4e3ef" />
<rect x="88.53" y="242.80" width="10.98" height="1.65" fill="#c6c6df" />
<rect x="88.53" y="244.40" width="10.98" height="1.65" fill="#d0d0e5" />
<rect x="88.53" y="246.00" width="10.98" height="1.65" fill="#d6d6e8" />
<rect x="88.53" y="247.60" width="10.98" height="1.65" fill="#f0eff6" />
<rect x="88.53" y="249.20" width="10.98" height="1.65" fill="#d3d3e6" />
<rect x="88.53" y="250.80" width="10.98" height="0.85" fill="#efeef5" />
<rect x="99.47" y="58.80" width="10.98" height="1.65" fill="#dddcec" />
<rect x="99.47" y="60.40" width="10.98" height="1.65" fill="#e5e4f0" />
<rect x="99.47" y="62.00" width="10.98" height="1.65" fill="#e4e3ef" />
<rect x="99.47" y="63.60" width="10.98" height="1.65" fill="#dcdceb" />
<rect x="99.47" y="65.20" width="10.98" height="1.65" fill="#e3e3ef" />
<rect x="99.47" y="66.80" width="10.98" height="1.65" fill="#ebeaf3" />
<rect x="99.47" y="68.40" width="10.98" height="1.65" fill="#e1e0ee" />
<rect x="99.47" y="70.00" width="10.98" height="1.65" fill="#afb0d3" />
<rect x="99.47" y="71.60" width="10.98" height="1.65" fill="#ecebf3" />
<rect x="99.47" y="73.20" width="10.98" height="1.65" fill="#d5d5e7" />
<rect x="99.47" y="74.80" width="10.98" height="1.65" fill="#e5e4f0" />
<rect x="99.47" y="76.40" width="10.98" height="1.65" fill="#f1eff6" />
<rect x="99.47" y="78.00" width="10.98" height="1.65" fill="#c0c1dd" />
<rect x="99.47" y="79.60" width="10.98" height="1.65" fill="#dcdceb" />
<rect x="99.47" y="81.20" width="10.98" height="1.65" fill="#d6d6e8" />
<rect x="99.47" y="82.80" width="10.98" height="1.65" fill="#d1d1e5" />
<rect x="99.47" y="84.40" width="10.98" height="1.65" fill="#b8b9d8" />
<rect x="99.47" y="86.00" width="10.98" height="1.65" fill="#c8c9e1" />
<rect x="99.47" y="87.60" width="10.98" height="1.65" fill="#cbcce2" />
<rect x="99.47" y="89.20" width="10.98" height="1.65" fill="#d1d1e5" />
<rect x="99.47" y="90.80" width="10.98" height="1.65" fill="#d7d7e9" />
<rect x="99.47" y="92.40" width="10.98" height="1.65" fill="#e0dfed" />
<rect x="99.47" y="94.00" width="10.98" height="1.65" fill="#e1e1ee" />
<rect x="99.47" y="95.60" width="10.98" height="1.65" fill="#cccce3" />
<rect x="99.47" y="97.20" width="10.98" height="1.65" fill="#e1e0ee" />
<rect x="99.47" y="98.80" width="10.98" height="1.65" fill="#d8d8e9" />
<rect x="99.47" y="100.40" width="10.98" height="1.65" fill="#bebfdb" />
<rect x="99.47" y="102.00" width="10.98" height="1.65" fill="#f9f7fa" />
<rect x="99.47" y="103.60" width="10.98" height="1.65" fill="#e1e1ee" />
<rect x="99.47" y="105.20" width="10.98" height="1.65" fill="#d8d8e9" />
<rect x="99.47" y="106.80" width="10.98" height="1.65" fill="#dcdbeb" />
<rect x="99.47" y="108.40" width="10.98" height="1.65" fill="#d1d1e6" />
<rect x="99.47" y="110.00" width="10.98" height="1.65" fill="#bcbdda" />
<rect x="99.47" y="111.60" width="10.98" height="1.65" fill="#e7e6f1" />
<rect x="99.47" y="113.20" width="10.98" height="1.65" fill="#e1e0ee" />
<rect x="99.47" y="114.80" width="10.98" height="1.65" fill="#e3e2ef" />
<rect x="99.47" y="116.40" width="10.98" height="1.65" fill="#d3d3e6" />
<rect x="99.47" y="118.00" width="10.98" height="1.65" fill="#c8c8e0" />
<rect x="99.47" y="119.60" width="10.98" height="1.65" fill="#babbd9" />
<rect x="99.47" y="121.20" width="10.98" height="1.65" fill="#eeedf5" />
<rect x="99.47" y="122.80" width="10.98" height="1.65" fill="#cbcce2" />
<rect x="99.47" y="124.40" width="10.98" height="1.65" fill="#d4d4e7" />
<rect x="99.47" y="126.00" width="10.98" height="1.65" fill="#ddddec" />
<rect x="99.47" y="127.60" width="10.98" height="1.65" fill="#c2c2dd" />
<rect x="99.47" y="129.20" width="10.98" height="1.65" fill="#dcdceb" />
<rect x="99.47" y="130.80" width="10.98" height="1.65" fill="#ddddec" />
<rect x="99.47" y="132.40" width="10.98" height="1.65" fill="#b8b9d8" />
<rect x="99.47" y="134.00" width="10.98" height="1.65" fill="#b0b2d4" />
<rect x="99.47" y="135.60" width="10.98" height="1.65" fill="#cacbe2" />
<rect x="99.47" y="137.20" width="10.98" height="1.65" fill="#d0d0e5" />
<rect x="99.47" y="138.80" width="10.98" height="1.65" fill="#e6e5f0" />
<rect x="99.47" y="140.40" width="10.98" height="1.65" fill="#cacae2" />
<rect x="99.47" y="142.00" width="10.98" height="1.65" fill="#bbbcda" />
<rect x="99.47" y="143.60" width="10.98" height="1.65" fill="#ebeaf3" />
<rect x="99.47" y="145.20" width="10.98" height="1.65" fill="#d2d3e6" />
<rect x="99.47" y="146.80" width="10.98" height="1.65" fill="#e2e1ee" />
<rect x="99.47" y="148.40" width="10.98" height="1.65" fill="#f1f0f6" />
<rect x="99.47" y="150.00" width="10.98" height="1.65" fill="#d2d2e6" />
<rect x="99.47" y="151.60" width="10.98" height="1.65" fill="#ddddec" />
<rect x="99.47" y="153.20" width="10.98" height="1.65" fill="#b2b3d5" />
<rect x="99.47" y="154.80" width="10.98" height="1.65" fill="#d6d6e8" />
<rect x="99.47" y="156.40" width="10.98" height="1.65" fill="#c2c3de" />
<rect x="99.47" y="158.00" width="10.98" height="1.65" fill="#c7c7e0" />
<rect x="99.47" y="159.60" width="10.98" height="1.65" fill="#cacae2" />
<rect x="99.47" y="161.20" width="10.98" height="1.65" fill="#ddddec" />
<rect x="99.47" y="162.80" width="10.98" height="1.65" fill="#babbd9" />
<rect x="99.47" y="164.40" width="10.98" height="1.65" fill="#d2d2e6" />
<rect x="99.47" y="166.00" width="10.98" height="1.65" fill="#b6b7d7" />
<rect x="99.47" y="167.60" width="10.98" height="1.65" fill="#a7a9d0" />
<rect x="99.47" y="169.20" width="10.98" height="1.65" fill="#d2d2e6" />
<rect x="99.47" y="170.80" width="10.98" height="1.65" fill="#e0e0ed" />
<rect x="99.47" y="172.40" width="10.98" height="1.65" fill="#cbcce2" />
<rect x="99.47" y="174.00" width="10.98" height="1.65" fill="#b6b7d7" />
<rect x="99.47" y="175.60" width="10.98" height="1.65" fill="#8f93c2" />
<rect x="99.47" y="177.20" width="10.98" height="1.65" fill="#d5d5e8" />
<rect x="99.47" y="178.80" width="10.98" height="1.65" fill="#a7a9cf" />
<rect x="99.47" y="180.40" width="10.98" height="1.65" fill="#adafd3" />
<rect x="99.47" y="182.00" width="10.98" height="1.65" fill="#c9cae1" />
<rect x="99.47" y="183.60" width="10.98" height="1.65" fill="#cdcde3" />
<rect x="99.47" y="185.20" width="10.98" height="1.65" fill="#d1d2e6" />
<rect x="99.47" y="186.80" width="10.98" height="1.65" fill="#c7c8e0" />
<rect x="99.47" y="188.40" width="10.98" height="1.65" fill="#c3c4de" />
<rect x="99.47" y="190.00" width="10.98" height="1.65" fill="#dddcec" />
<rect x="99.47" y="191.60" width="10.98" height="1.65" fill="#deddec" />
<rect x="99.47" y="193.20" width="10.98" height="1.65" fill="#c8c8e1" />
<rect x="99.47" y="194.80" width="10.98" height="1.65" fill="#cdcde3" />
<rect x="99.47" y="196.40" width="10.98" height="1.65" fill="#bdbedb" />
<rect x="99.47" y="198.00" width="10.98" height="1.65" fill="#d4d4e7" />
<rect x="99.47" y="199.60" width="10.98" height="1.65" fill="#babbd9" />
<rect x="99.47" y="201.20" width="10.98" height="1.65" fill="#e5e4f0" />
<rect x="99.47" y="202.80" width="10.98" height="1.65" fill="#c4c5df" />
<rect x="99.47" y="204.40" width="10.98" height="1.65" fill="#9a9dc8" />
<rect x="99.47" y="206.00" width="10.98" height="1.65" fill="#c9cae1" />
<rect x="99.47" y="207.60" width="10.98" height="1.65" fill="#adafd3" />
<rect x="99.47" y="209.20" width="10.98" height="1.65" fill="#cacae2" />
<rect x="99.47" y="210.80" width="10.98" height="1.65" fill="#d5d5e8" />
<rect x="99.47" y="212.40" width="10.98" height="1.65" fill="#aaacd1" />
<rect x="99.47" y="214.00" width="10.98" height="1.65" fill="#c5c6df" />
<rect x="99.47" y="215.60" width="10.98" height="1.65" fill="#c9cae1" />
<rect x="99.47" y="217.20" width="10.98" height="1.65" fill="#d1d2e6" />
<rect x="99.47" y="218.80" width="10.98" height="1.65" fill="#bfc0dc" />
<rect x="99.47" y="220.40" width="10.98" height="1.65" fill="#c8c9e1" />
<rect x="99.47" y="222.00" width="10.98" height="1.65" fill="#faf8fb" />
<rect x="99.47" y="223.60" width="10.98" height="1.65" fill="#f3f1f7" />
<rect x="99.47" y="225.20" width="10.98" height="1.65" fill="#cecfe4" />
<rect x="99.47" y="226.80" width="10.98" height="1.65" fill="#cfd0e4" />
<rect x="99.47" y="228.40" width="10.98" height="1.65" fill="#eae9f3" />
<rect x="99.47" y="230.00" width="10.98" height="1.65" fill="#d1d1e6" />
<rect x="99.47" y="231.60" width="10.98" height="1.65" fill="#c3c4de" />
<rect x="99.47" y="233.20" width="10.98" height="1.65" fill="#dfdfed" />
<rect x="99.47" y="234.80" width="10.98" height="1.65" fill="#e9e8f2" />
<rect x="99.47" y="236.40" width="10.98" height="1.65" fill="#cccce3" />
<rect x="99.47" y="238.00" width="10.98" height="1.65" fill="#c9cae1" />
<rect x="99.47" y="239.60" width="10.98" height="1.65" fill="#e1e0ee" />
<rect x="99.47" y="241.20" width="10.98" height="1.65" fill="#e6e5f0" />
<rect x="99.47" y="242.80" width="10.98" height="1.65" fill="#eae9f3" />
<rect x="99.47" y="244.40" width="10.98" height="1.65" fill="#e0dfed" />
<rect x="99.47" y="246.00" width="10.98" height="1.65" fill="#c8c8e0" />
<rect x="99.47" y="247.60" width="10.98" height="1.65" fill="#c9c9e1" />
<rect x="99.47" y="249.20" width="10.98" height="1.65" fill="#e2e1ee" />
<rect x="99.47" y="250.80" width="10.98" height="0.85" fill="#c6c7e0" />
<rect x="112.00" y="58.80" width="9.65" height="1.65" fill="#cecee4" />
<rect x="112.00" y="60.40" width="9.65" height="1.65" fill="#ddddec" />
<rect x="112.00" y="62.00" width="9.65" height="1.65" fill="#bbbcda" />
<rect x="112.00" y="63.60" width="9.65" height="1.65" fill="#d3d3e7" />
<rect x="112.00" y="65.20" width="9.65" height="1.65" fill="#c4c5df" />
<rect x="112.00" y="66.80" width="9.65" height="1.65" fill="#b4b6d7" />
<rect x="112.00" y="68.40" width="9.65" height="1.65" fill="#e0e0ed" />
<rect x="112.00" y="70.00" width="9.65" height="1.65" fill="#e3e3ef" />
<rect x="112.00" y="71.60" width="9.65" height="1.65" fill="#c3c4de" />
<rect x="112.00" y="73.20" width="9.65" height="1.65" fill="#dddcec" />
<rect x="112.00" y="74.80" width="9.65" height="1.65" fill="#d7d7e9" />
<rect x="112.00" y="76.40" width="9.65" height="1.65" fill="#d8d8e9" />
<rect x="112.00" y="78.00" width="9.65" height="1.65" fill="#c0c1dc" />
<rect x="112.00" y="79.60" width="9.65" height="1.65" fill="#e8e7f2" />
<rect x="112.00" y="81.20" width="9.65" height="1.65" fill="#d2d2e6" />
<rect x="112.00" y="82.80" width="9.65" height="1.65" fill="#dfdfed" />
<rect x="112.00" y="84.40" width="9.65" height="1.65" fill="#b3b5d6" />
<rect x="112.00" y="86.00" width="9.65" height="1.65" fill="#c2c3de" />
<rect x="112.00" y="87.60" width="9.65" height="1.65" fill="#b7b9d8" />
<rect x="112.00" y="89.20" width="9.65" height="1.65" fill="#c6c7e0" />
<rect x="112.00" y="90.80" width="9.65" height="1.65" fill="#e6e5f1" />
<rect x="112.00" y="92.40" width="9.65" height="1.65" fill="#d3d3e7" />
<rect x="112.00" y="94.00" width="9.65" height="1.65" fill="#d2d2e6" />
<rect x="112.00" y="95.60" width="9.65" height="1.65" fill="#b5b7d7" />
<rect x="112.00" y="97.20" width="9.65" height="1.65" fill="#c6c7e0" />
<rect x="112.00" y="98.80" width="9.65" height="1.65" fill="#d5d5e7" />
<rect x="112.00" y="100.40" width="9.65" height="1.65" fill="#d1d1e6" />
<rect x="112.00" y="102.00" width="9.65" height="1.65" fill="#e5e5f0" />
<rect x="112.00" y="103.60" width="9.65" height="1.65" fill="#dadaea" />
<rect x="112.00" y="105.20" width="9.65" height="1.65" fill="#dadaea" />
<rect x="112.00" y="106.80" width="9.65" height="1.65" fill="#d7d7e8" />
<rect x="112.00" y="108.40" width="9.65" height="1.65" fill="#bdbedb" />
<rect x="112.00" y="110.00" width="9.65" height="1.65" fill="#c0c1dc" />
<rect x="112.00" y="111.60" width="9.65" height="1.65" fill="#d7d6e8" />
<rect x="112.00" y="113.20" width="9.65" height="1.65" fill="#d5d5e7" />
<rect x="112.00" y="114.80" width="9.65" height="1.65" fill="#cbcbe2" />
<rect x="112.00" y="116.40" width="9.65" height="1.65" fill="#bebfdb" />
<rect x="112.00" y="118.00" width="9.65" height="1.65" fill="#bbbcda" />
<rect x="112.00" y="119.60" width="9.65" height="1.65" fill="#cdcde3" />
<rect x="112.00" y="121.20" width="9.65" height="1.65" fill="#deddec" />
<rect x="112.00" y="122.80" width="9.65" height="1.65" fill="#b0b1d4" />
<rect x="112.00" y="124.40" width="9.65" height="1.65" fill="#d4d4e7" />
<rect x="112.00" y="126.00" width="9.65" height="1.65" fill="#d2d3e6" />
<rect x="112.00" y="127.60" width="9.65" height="1.65" fill="#a9abd1" />
<rect x="112.00" y="129.20" width="9.65" height="1.65" fill="#d5d5e8" />
<rect x="112.00" y="130.80" width="9.65" height="1.65" fill="#d7d7e8" />
<rect x="112.00" y="132.40" width="9.65" height="1.65" fill="#abadd2" />
<rect x="112.00" y="134.00" width="9.65" height="1.65" fill="#d1d1e5" />
<rect x="112.00" y="135.60" width="9.65" height="1.65" fill="#dad9ea" />
<rect x="112.00" y="137.20" width="9.65" height="1.65" fill="#b5b7d7" />
<rect x="112.00" y="138.80" width="9.65" height="1.65" fill="#d6d6e8" />
<rect x="112.00" y="140.40" width="9.65" height="1.65" fill="#bcbddb" />
<rect x="112.00" y="142.00" width="9.65" height="1.65" fill="#d6d6e8" />
<rect x="112.00" y="143.60" width="9.65" height="1.65" fill="#cdcde3" />
<rect x="112.00" y="145.20" width="9.65" height="1.65" fill="#e0dfed" />
<rect x="112.00" y="146.80" width="9.65" height="1.65" fill="#cccce3" />
<rect x="112.00" y="148.40" width="9.65" height="1.65" fill="#e3e3ef" />
<rect x="112.00" y="150.00" width="9.65" height="1.65" fill="#e8e7f1" />
<rect x="112.00" y="151.60" width="9.65" height="1.65" fill="#a7a9cf" />
<rect x="112.00" y="153.20" width="9.65" height="1.65" fill="#b2b4d5" />
<rect x="112.00" y="154.80" width="9.65" height="1.65" fill="#d8d8e9" />
<rect x="112.00" y="156.40" width="9.65" height="1.65" fill="#c0c1dd" />
<rect x="112.00" y="158.00" width="9.65" height="1.65" fill="#bbbcda" />
<rect x="112.00" y="159.60" width="9.65" height="1.65" fill="#d7d7e9" />
<rect x="112.00" y="161.20" width="9.65" height="1.65" fill="#bfc0dc" />
<rect x="112.00" y="162.80" width="9.65" height="1.65" fill="#adafd3" />
<rect x="112.00" y="164.40" width="9.65" height="1.65" fill="#e4e3ef" />
<rect x="112.00" y="166.00" width="9.65" height="1.65" fill="#989bc7" />
<rect x="112.00" y="167.60" width="9.65" height="1.65" fill="#c9c9e1" />
<rect x="112.00" y="169.20" width="9.65" height="1.65" fill="#c7c8e0" />
<rect x="112.00" y="170.80" width="9.65" height="1.65" fill="#dfdeed" />
<rect x="112.00" y="172.40" width="9.65" height="1.65" fill="#e3e2ef" />
<rect x="112.00" y="174.00" width="9.65" height="1.65" fill="#b6b7d7" />
<rect x="112.00" y="175.60" width="9.65" height="1.65" fill="#989bc7" />
<rect x="112.00" y="177.20" width="9.65" height="1.65" fill="#babcda" />
<rect x="112.00" y="178.80" width="9.65" height="1.65" fill="#d4d4e7" />
<rect x="112.00" y="180.40" width="9.65" height="1.65" fill="#cacae2" />
<rect x="112.00" y="182.00" width="9.65" height="1.65" fill="#cfd0e5" />
<rect x="112.00" y="183.60" width="9.65" height="1.65" fill="#e5e4f0" />
<rect x="112.00" y="185.20" width="9.65" height="1.65" fill="#d7d7e9" />
<rect x="112.00" y="186.80" width="9.65" height="1.65" fill="#dadaea" />
<rect x="112.00" y="188.40" width="9.65" height="1.65" fill="#b6b7d7" />
<rect x="112.00" y="190.00" width="9.65" height="1.65" fill="#dedeec" />
<rect x="112.00" y="191.60" width="9.65" height="1.65" fill="#e2e1ee" />
<rect x="112.00" y="193.20" width="9.65" height="1.65" fill="#dfdfed" />
<rect x="112.00" y="194.80" width="9.65" height="1.65" fill="#e1e1ee" />
<rect x="112.00" y="196.40" width="9.65" height="1.65" fill="#999dc8" />
<rect x="112.00" y="198.00" width="9.65" height="1.65" fill="#e1e1ee" />
<rect x="112.00" y="199.60" width="9.65" height="1.65" fill="#e2e1ee" />
<rect x="112.00" y="201.20" width="9.65" height="1.65" fill="#f1d6d8" />
<rect x="112.00" y="202.80" width="9.65" height="1.65" fill="#abadd1" />
<rect x="112.00" y="204.40" width="9.65" height="1.65" fill="#c5c5df" />
<rect x="112.00" y="206.00" width="9.65" height="1.65" fill="#dcdbeb" />
<rect x="112.00" y="207.60" width="9.65" height="1.65" fill="#c6c7e0" />
<rect x="112.00" y="209.20" width="9.65" height="1.65" fill="#c9c9e1" />
<rect x="112.00" y="210.80" width="9.65" height="1.65" fill="#eae9f3" />
<rect x="112.00" y="212.40" width="9.65" height="1.65" fill="#b6b7d7" />
<rect x="112.00" y="214.00" width="9.65" height="1.65" fill="#e6e6f1" />
<rect x="112.00" y="215.60" width="9.65" height="1.65" fill="#d1d1e6" />
<rect x="112.00" y="217.20" width="9.65" height="1.65" fill="#d2d2e6" />
<rect x="112.00" y="218.80" width="9.65" height="1.65" fill="#cccce3" />
<rect x="112.00" y="220.40" width="9.65" height="1.65" fill="#c4c5de" />
<rect x="112.00" y="222.00" width="9.65" height="1.65" fill="#e0dfed" />
<rect x="112.00" y="223.60" width="9.65" height="1.65" fill="#e2e1ee" />
<rect x="112.00" y="225.20" width="9.65" height="1.65" fill="#c1c2dd" />
<rect x="112.00" y="226.80" width="9.65" height="1.65" fill="#cfcfe4" />
<rect x="112.00" y="228.40" width="9.65" height="1.65" fill="#e9e8f2" />
<rect x="112.00" y="230.00" width="9.65" height="1.65" fill="#c4c5df" />
<rect x="112.00" y="231.60" width="9.65" height="1.65" fill="#c5c5df" />
<rect x="112.00" y="233.20" width="9.65" height="1.65" fill="#e2e2ef" />
<rect x="112.00" y="234.80" width="9.65" height="1.65" fill="#e8e7f1" />
<rect x="112.00" y="236.40" width="9.65" height="1.65" fill="#c7c8e0" />
<rect x="112.00" y="238.00" width="9.65" height="1.65" fill="#a2a5cd" />
<rect x="112.00" y="239.60" width="9.65" height="1.65" fill="#dfdeed" />
<rect x="112.00" y="241.20" width="9.65" height="1.65" fill="#d4d4e7" />
<rect x="112.00" y="242.80" width="9.65" height="1.65" fill="#cecee4" />
<rect x="112.00" y="244.40" width="9.65" height="1.65" fill="#dedeec" />
<rect x="112.00" y="246.00" width="9.65" height="1.65" fill="#c8c8e1" />
<rect x="112.00" y="247.60" width="9.65" height="1.65" fill="#dbdbeb" />
<rect x="112.00" y="249.20" width="9.65" height="1.65" fill="#b3b4d6" />
<rect x="112.00" y="250.80" width="9.65" height="0.85" fill="#bdbedb" />
<rect x="121.60" y="58.80" width="9.65" height="1.65" fill="#c6c6e0" />
<rect x="121.60" y="60.40" width="9.65" height="1.65" fill="#cfd0e4" />
<rect x="121.60" y="62.00" width="9.65" height="1.65" fill="#bebfdc" />
<rect x="121.60" y="63.60" width="9.65" height="1.65" fill="#d6d6e8" />
<rect x="121.60" y="65.20" width="9.65" height="1.65" fill="#b3b4d6" />
<rect x="121.60" y="66.80" width="9.65" height="1.65" fill="#d7d7e8" />
<rect x="121.60" y="68.40" width="9.65" height="1.65" fill="#d1d1e5" />
<rect x="121.60" y="70.00" width="9.65" height="1.65" fill="#dad9ea" />
<rect x="121.60" y="71.60" width="9.65" height="1.65" fill="#ecebf3" />
<rect x="121.60" y="73.20" width="9.65" height="1.65" fill="#d6d6e8" />
<rect x="121.60" y="74.80" width="9.65" height="1.65" fill="#cbcbe2" />
<rect x="121.60" y="76.40" width="9.65" height="1.65" fill="#d2d3e6" />
<rect x="121.60" y="78.00" width="9.65" height="1.65" fill="#bcbdda" />
<rect x="121.60" y="79.60" width="9.65" height="1.65" fill="#c2c3de" />
<rect x="121.60" y="81.20" width="9.65" height="1.65" fill="#cdcde3" />
<rect x="121.60" y="82.80" width="9.65" height="1.65" fill="#d7d7e9" />
<rect x="121.60" y="84.40" width="9.65" height="1.65" fill="#b2b4d5" />
<rect x="121.60" y="86.00" width="9.65" height="1.65" fill="#b9bad9" />
<rect x="121.60" y="87.60" width="9.65" height="1.65" fill="#cdcde3" />
<rect x="121.60" y="89.20" width="9.65" height="1.65" fill="#d3d3e6" />
<rect x="121.60" y="90.80" width="9.65" height="1.65" fill="#dddcec" />
<rect x="121.60" y="92.40" width="9.65" height="1.65" fill="#d5d5e8" />
<rect x="121.60" y="94.00" width="9.65" height="1.65" fill="#d0d0e5" />
<rect x="121.60" y="95.60" width="9.65" height="1.65" fill="#c5c6df" />
<rect x="121.60" y="97.20" width="9.65" height="1.65" fill="#cdcee3" />
<rect x="121.60" y="98.80" width="9.65" height="1.65" fill="#cecee4" />
<rect x="121.60" y="100.40" width="9.65" height="1.65" fill="#c2c3dd" />
<rect x="121.60" y="102.00" width="9.65" height="1.65" fill="#cbcbe2" />
<rect x="121.60" y="103.60" width="9.65" height="1.65" fill="#cfcfe4" />
<rect x="121.60" y="105.20" width="9.65" height="1.65" fill="#dadaea" />
<rect x="121.60" y="106.80" width="9.65" height="1.65" fill="#b7b8d8" />
<rect x="121.60" y="108.40" width="9.65" height="1.65" fill="#c2c3de" />
<rect x="121.60" y="110.00" width="9.65" height="1.65" fill="#cfcfe4" />
<rect x="121.60" y="111.60" width="9.65" height="1.65" fill="#c8c9e1" />
<rect x="121.60" y="113.20" width="9.65" height="1.65" fill="#ecebf3" />
<rect x="121.60" y="114.80" width="9.65" height="1.65" fill="#abadd1" />
<rect x="121.60" y="116.40" width="9.65" height="1.65" fill="#c3c4de" />
<rect x="121.60" y="118.00" width="9.65" height="1.65" fill="#a5a8cf" />
<rect x="121.60" y="119.60" width="9.65" height="1.65" fill="#d2d2e6" />
<rect x="121.60" y="121.20" width="9.65" height="1.65" fill="#f8f6fa" />
<rect x="121.60" y="122.80" width="9.65" height="1.65" fill="#9da0ca" />
<rect x="121.60" y="124.40" width="9.65" height="1.65" fill="#cfd0e5" />
<rect x="121.60" y="126.00" width="9.65" height="1.65" fill="#d7d7e8" />
<rect x="121.60" y="127.60" width="9.65" height="1.65" fill="#b3b4d6" />
<rect x="121.60" y="129.20" width="9.65" height="1.65" fill="#d2d3e6" />
<rect x="121.60" y="130.80" width="9.65" height="1.65" fill="#bcbdda" />
<rect x="121.60" y="132.40" width="9.65" height="1.65" fill="#bcbdda" />
<rect x="121.60" y="134.00" width="9.65" height="1.65" fill="#cbcbe2" />
<rect x="121.60" y="135.60" width="9.65" height="1.65" fill="#c8c9e1" />
<rect x="121.60" y="137.20" width="9.65" height="1.65" fill="#b7b8d8" />
<rect x="121.60" y="138.80" width="9.65" height="1.65" fill="#d8d8e9" />
<rect x="121.60" y="140.40" width="9.65" height="1.65" fill="#c2c2dd" />
<rect x="121.60" y="142.00" width="9.65" height="1.65" fill="#b9bad9" />
<rect x="121.60" y="143.60" width="9.65" height="1.65" fill="#cccde3" />
<rect x="121.60" y="145.20" width="9.65" height="1.65" fill="#b2b4d5" />
<rect x="121.60" y="146.80" width="9.65" height="1.65" fill="#d4d4e7" />
<rect x="121.60" y="148.40" width="9.65" height="1.65" fill="#dcdceb" />
<rect x="121.60" y="150.00" width="9.65" height="1.65" fill="#d7d7e9" />
<rect x="121.60" y="151.60" width="9.65" height="1.65" fill="#bebfdb" />
<rect x="121.60" y="153.20" width="9.65" height="1.65" fill="#b8b9d8" />
<rect x="121.60" y="154.80" width="9.65" height="1.65" fill="#d9d9ea" />
<rect x="121.60" y="156.40" width="9.65" height="1.65" fill="#c4c4de" />
<rect x="121.60" y="158.00" width="9.65" height="1.65" fill="#d5d5e7" />
<rect x="121.60" y="159.60" width="9.65" height="1.65" fill="#d5d5e8" />
<rect x="121.60" y="161.20" width="9.65" height="1.65" fill="#b1b3d5" />
<rect x="121.60" y="162.80" width="9.65" height="1.65" fill="#a9abd1" />
<rect x="121.60" y="164.40" width="9.65" height="1.65" fill="#e4e4f0" />
<rect x="121.60" y="166.00" width="9.65" height="1.65" fill="#c6c7e0" />
<rect x="121.60" y="167.60" width="9.65" height="1.65" fill="#c5c6df" />
<rect x="121.60" y="169.20" width="9.65" height="1.65" fill="#d9d9ea" />
<rect x="121.60" y="170.80" width="9.65" height="1.65" fill="#d6d6e8" />
<rect x="121.60" y="172.40" width="9.65" height="1.65" fill="#cacae2" />
<rect x="121.60" y="174.00" width="9.65" height="1.65" fill="#c0c1dd" />
<rect x="121.60" y="175.60" width="9.65" height="1.65" fill="#9fa2cb" />
<rect x="121.60" y="177.20" width="9.65" height="1.65" fill="#b9bad9" />
<rect x="121.60" y="178.80" width="9.65" height="1.65" fill="#b6b8d7" />
<rect x="121.60" y="180.40" width="9.65" height="1.65" fill="#e0dfed" />
<rect x="121.60" y="182.00" width="9.65" height="1.65" fill="#f0eef6" />
<rect x="121.60" y="183.60" width="9.65" height="1.65" fill="#d3d3e6" />
<rect x="121.60" y="185.20" width="9.65" height="1.65" fill="#c7c7e0" />
<rect x="121.60" y="186.80" width="9.65" height="1.65" fill="#d5d5e8" />
<rect x="121.60" y="188.40" width="9.65" height="1.65" fill="#cbcbe2" />
<rect x="121.60" y="190.00" width="9.65" height="1.65" fill="#f1eff6" />
<rect x="121.60" y="191.60" width="9.65" height="1.65" fill="#d7d7e8" />
<rect x="121.60" y="193.20" width="9.65" height="1.65" fill="#c8c8e1" />
<rect x="121.60" y="194.80" width="9.65" height="1.65" fill="#e6e5f1" />
<rect x="121.60" y="196.40" width="9.65" height="1.65" fill="#b4b6d7" />
<rect x="121.60" y="198.00" width="9.65" height="1.65" fill="#e2e1ee" />
<rect x="121.60" y="199.60" width="9.65" height="1.65" fill="#dcdceb" />
<rect x="121.60" y="201.20" width="9.65" height="1.65" fill="#faf8fb" />
<rect x="121.60" y="202.80" width="9.65" height="1.65" fill="#bcbedb" />
<rect x="121.60" y="204.40" width="9.65" height="1.65" fill="#c0c1dc" />
<rect x="121.60" y="206.00" width="9.65" height="1.65" fill="#c3c4de" />
<rect x="121.60" y="207.60" width="9.65" height="1.65" fill="#9b9ec8" />
<rect x="121.60" y="209.20" width="9.65" height="1.65" fill="#bebfdb" />
<rect x="121.60" y="210.80" width="9.65" height="1.65" fill="#d4d4e7" />
<rect x="121.60" y="212.40" width="9.65" height="1.65" fill="#c0c1dd" />
<rect x="121.60" y="214.00" width="9.65" height="1.65" fill="#e4e3ef" />
<rect x="121.60" y="215.60" width="9.65" height="1.65" fill="#dedeec" />
<rect x="121.60" y="217.20" width="9.65" height="1.65" fill="#d1d1e5" />
<rect x="121.60" y="218.80" width="9.65" height="1.65" fill="#cbcbe2" />
<rect x="121.60" y="220.40" width="9.65" height="1.65" fill="#d0d0e5" />
<rect x="121.60" y="222.00" width="9.65" height="1.65" fill="#b6b7d7" />
<rect x="121.60" y="223.60" width="9.65" height="1.65" fill="#dcdceb" />
<rect x="121.60" y="225.20" width="9.65" height="1.65" fill="#d0d0e5" />
<rect x="121.60" y="226.80" width="9.65" height="1.65" fill="#d3d3e7" />
<rect x="121.60" y="228.40" width="9.65" height="1.65" fill="#dcdceb" />
<rect x="121.60" y="230.00" width="9.65" height="1.65" fill="#cfd0e5" />
<rect x="121.60" y="231.60" width="9.65" height="1.65" fill="#d3d3e6" />
<rect x="121.60" y="233.20" width="9.65" height="1.65" fill="#dcdceb" />
<rect x="121.60" y="234.80" width="9.65" height="1.65" fill="#eae9f3" />
<rect x="121.60" y="236.40" width="9.65" height="1.65" fill="#d4d4e7" />
<rect x="121.60" y="238.00" width="9.65" height="1.65" fill="#c3c3de" />
<rect x="121.60" y="239.60" width="9.65" height="1.65" fill="#e0dfed" />
<rect x="121.60" y="241.20" width="9.65" height="1.65" fill="#c8c8e0" />
<rect x="121.60" y="242.80" width="9.65" height="1.65" fill="#c9c9e1" />
<rect x="121.60" y="244.40" width="9.65" height="1.65" fill="#d8d8e9" />
<rect x="121.60" y="246.00" width="9.65" height="1.65" fill="#b9bad9" />
<rect x="121.60" y="247.60" width="9.65" height="1.65" fill="#f1f0f6" />
<rect x="121.60" y="249.20" width="9.65" height="1.65" fill="#d9d9e9" />
<rect x="121.60" y="250.80" width="9.65" height="0.85" fill="#c8c8e0" />
<rect x="131.20" y="58.80" width="9.65" height="1.65" fill="#d6d6e8" />
<rect x="131.20" y="60.40" width="9.65" height="1.65" fill="#e5e4f0" />
<rect x="131.20" y="62.00" width="9.65" height="1.65" fill="#d9d8e9" />
<rect x="131.20" y="63.60" width="9.65" height="1.65" fill="#dcdceb" />
<rect x="131.20" y="65.20" width="9.65" height="1.65" fill="#b3b5d6" />
<rect x="131.20" y="66.80" width="9.65" height="1.65" fill="#c5c6df" />
<rect x="131.20" y="68.40" width="9.65" height="1.65" fill="#e2e2ee" />
<rect x="131.20" y="70.00" width="9.65" height="1.65" fill="#e6e5f0" />
<rect x="131.20" y="71.60" width="9.65" height="1.65" fill="#ddddec" />
<rect x="131.20" y="73.20" width="9.65" height="1.65" fill="#c7c8e0" />
<rect x="131.20" y="74.80" width="9.65" height="1.65" fill="#d0d0e5" />
<rect x="131.20" y="76.40" width="9.65" height="1.65" fill="#c9c9e1" />
<rect x="131.20" y="78.00" width="9.65" height="1.65" fill="#aeb0d3" />
<rect x="131.20" y="79.60" width="9.65" height="1.65" fill="#eae9f3" />
<rect x="131.20" y="81.20" width="9.65" height="1.65" fill="#cdcde3" />
<rect x="131.20" y="82.80" width="9.65" height="1.65" fill="#d5d5e8" />
<rect x="131.20" y="84.40" width="9.65" height="1.65" fill="#d6d6e8" />
<rect x="131.20" y="86.00" width="9.65" height="1.65" fill="#c8c9e1" />
<rect x="131.20" y="87.60" width="9.65" height="1.65" fill="#c7c8e0" />
<rect x="131.20" y="89.20" width="9.65" height="1.65" fill="#c0c0dc" />
<rect x="131.20" y="90.80" width="9.65" height="1.65" fill="#d7d7e9" />
<rect x="131.20" y="92.40" width="9.65" height="1.65" fill="#e1e1ee" />
<rect x="131.20" y="94.00" width="9.65" height="1.65" fill="#dcdbeb" />
<rect x="131.20" y="95.60" width="9.65" height="1.65" fill="#d6d6e8" />
<rect x="131.20" y="97.20" width="9.65" height="1.65" fill="#d2d3e6" />
<rect x="131.20" y="98.80" width="9.65" height="1.65" fill="#d9d8e9" />
<rect x="131.20" y="100.40" width="9.65" height="1.65" fill="#c1c2dd" />
<rect x="131.20" y="102.00" width="9.65" height="1.65" fill="#e5e5f0" />
<rect x="131.20" y="103.60" width="9.65" height="1.65" fill="#e3e2ef" />
<rect x="131.20" y="105.20" width="9.65" height="1.65" fill="#c8c9e1" />
<rect x="131.20" y="106.80" width="9.65" height="1.65" fill="#c3c4de" />
<rect x="131.20" y="108.40" width="9.65" height="1.65" fill="#c6c7e0" />
<rect x="131.20" y="110.00" width="9.65" height="1.65" fill="#c0c1dc" />
<rect x="131.20" y="111.60" width="9.65" height="1.65" fill="#c6c7e0" />
<rect x="131.20" y="113.20" width="9.65" height="1.65" fill="#ddddec" />
<rect x="131.20" y="114.80" width="9.65" height="1.65" fill="#e7e6f1" />
<rect x="131.20" y="116.40" width="9.65" height="1.65" fill="#cecfe4" />
<rect x="131.20" y="118.00" width="9.65" height="1.65" fill="#c3c4de" />
<rect x="131.20" y="119.60" width="9.65" height="1.65" fill="#afb1d4" />
<rect x="131.20" y="121.20" width="9.65" height="1.65" fill="#f0eef6" />
<rect x="131.20" y="122.80" width="9.65" height="1.65" fill="#c1c2dd" />
<rect x="131.20" y="124.40" width="9.65" height="1.65" fill="#cdcee3" />
<rect x="131.20" y="126.00" width="9.65" height="1.65" fill="#c0c1dd" />
<rect x="131.20" y="127.60" width="9.65" height="1.65" fill="#b6b8d7" />
<rect x="131.20" y="129.20" width="9.65" height="1.65" fill="#bcbdda" />
<rect x="131.20" y="130.80" width="9.65" height="1.65" fill="#dbdbeb" />
<rect x="131.20" y="132.40" width="9.65" height="1.65" fill="#b6b8d7" />
<rect x="131.20" y="134.00" width="9.65" height="1.65" fill="#c6c7e0" />
<rect x="131.20" y="135.60" width="9.65" height="1.65" fill="#cccce3" />
<rect x="131.20" y="137.20" width="9.65" height="1.65" fill="#b3b5d6" />
<rect x="131.20" y="138.80" width="9.65" height="1.65" fill="#e1e0ee" />
<rect x="131.20" y="140.40" width="9.65" height="1.65" fill="#bfc0dc" />
<rect x="131.20" y="142.00" width="9.65" height="1.65" fill="#9c9fc9" />
<rect x="131.20" y="143.60" width="9.65" height="1.65" fill="#d1d1e5" />
<rect x="131.20" y="145.20" width="9.65" height="1.65" fill="#c7c7e0" />
<rect x="131.20" y="146.80" width="9.65" height="1.65" fill="#c7c7e0" />
<rect x="131.20" y="148.40" width="9.65" height="1.65" fill="#d6d6e8" />
<rect x="131.20" y="150.00" width="9.65" height="1.65" fill="#d1d1e5" />
<rect x="131.20" y="151.60" width="9.65" height="1.65" fill="#babbd9" />
<rect x="131.20" y="153.20" width="9.65" height="1.65" fill="#b6b8d7" />
<rect x="131.20" y="154.80" width="9.65" height="1.65" fill="#e2e2ee" />
<rect x="131.20" y="156.40" width="9.65" height="1.65" fill="#cbcbe2" />
<rect x="131.20" y="158.00" width="9.65" height="1.65" fill="#c2c3dd" />
<rect x="131.20" y="159.60" width="9.65" height="1.65" fill="#bbbdda" />
<rect x="131.20" y="161.20" width="9.65" height="1.65" fill="#bcbddb" />
<rect x="131.20" y="162.80" width="9.65" height="1.65" fill="#c3c4de" />
<rect x="131.20" y="164.40" width="9.65" height="1.65" fill="#e3e2ef" />
<rect x="131.20" y="166.00" width="9.65" height="1.65" fill="#b0b1d4" />
<rect x="131.20" y="167.60" width="9.65" height="1.65" fill="#9699c6" />
<rect x="131.20" y="169.20" width="9.65" height="1.65" fill="#cfcfe4" />
<rect x="131.20" y="170.80" width="9.65" height="1.65" fill="#d2d3e6" />
<rect x="131.20" y="172.40" width="9.65" height="1.65" fill="#dcdbeb" />
<rect x="131.20" y="174.00" width="9.65" height="1.65" fill="#acaed2" />
<rect x="131.20" y="175.60" width="9.65" height="1.65" fill="#afb0d3" />
<rect x="131.20" y="177.20" width="9.65" height="1.65" fill="#ebeaf3" />
<rect x="131.20" y="178.80" width="9.65" height="1.65" fill="#b6b7d7" />
<rect x="131.20" y="180.40" width="9.65" height="1.65" fill="#b0b2d4" />
<rect x="131.20" y="182.00" width="9.65" height="1.65" fill="#c7c8e0" />
<rect x="131.20" y="183.60" width="9.65" height="1.65" fill="#bcbdda" />
<rect x="131.20" y="185.20" width="9.65" height="1.65" fill="#b7b8d8" />
<rect x="131.20" y="186.80" width="9.65" height="1.65" fill="#d7d7e9" />
<rect x="131.20" y="188.40" width="9.65" height="1.65" fill="#cccce3" />
<rect x="131.20" y="190.00" width="9.65" height="1.65" fill="#cacbe2" />
<rect x="131.20" y="191.60" width="9.65" height="1.65" fill="#c3c4de" />
<rect x="131.20" y="193.20" width="9.65" height="1.65" fill="#deddec" />
<rect x="131.20" y="194.80" width="9.65" height="1.65" fill="#cdcde3" />
<rect x="131.20" y="196.40" width="9.65" height="1.65" fill="#b7b9d8" />
<rect x="131.20" y="198.00" width="9.65" height="1.65" fill="#e3e3ef" />
<rect x="131.20" y="199.60" width="9.65" height="1.65" fill="#ecebf3" />
<rect x="131.20" y="201.20" width="9.65" height="1.65" fill="#f3dee0" />
<rect x="131.20" y="202.80" width="9.65" height="1.65" fill="#c6c7e0" />
<rect x="131.20" y="204.40" width="9.65" height="1.65" fill="#cbcce2" />
<rect x="131.20" y="206.00" width="9.65" height="1.65" fill="#ddddec" />
<rect x="131.20" y="207.60" width="9.65" height="1.65" fill="#d3d3e6" />
<rect x="131.20" y="209.20" width="9.65" height="1.65" fill="#e1e0ee" />
<rect x="131.20" y="210.80" width="9.65" height="1.65" fill="#dad9ea" />
<rect x="131.20" y="212.40" width="9.65" height="1.65" fill="#c7c7e0" />
<rect x="131.20" y="214.00" width="9.65" height="1.65" fill="#e7e6f1" />
<rect x="131.20" y="215.60" width="9.65" height="1.65" fill="#d9d9e9" />
<rect x="131.20" y="217.20" width="9.65" height="1.65" fill="#c9c9e1" />
<rect x="131.20" y="218.80" width="9.65" height="1.65" fill="#c3c4de" />
<rect x="131.20" y="220.40" width="9.65" height="1.65" fill="#d2d3e6" />
<rect x="131.20" y="222.00" width="9.65" height="1.65" fill="#bebfdb" />
<rect x="131.20" y="223.60" width="9.65" height="1.65" fill="#ecebf4" />
<rect x="131.20" y="225.20" width="9.65" height="1.65" fill="#d0d1e5" />
<rect x="131.20" y="226.80" width="9.65" height="1.65" fill="#bbbdda" />
<rect x="131.20" y="228.40" width="9.65" height="1.65" fill="#edecf4" />
<rect x="131.20" y="230.00" width="9.65" height="1.65" fill="#dddcec" />
<rect x="131.20" y="231.60" width="9.65" height="1.65" fill="#acaed2" />
<rect x="131.20" y="233.20" width="9.65" height="1.65" fill="#f1f0f6" />
<rect x="131.20" y="234.80" width="9.65" height="1.65" fill="#ebeaf3" />
<rect x="131.20" y="236.40" width="9.65" height="1.65" fill="#e5e4f0" />
<rect x="131.20" y="238.00" width="9.65" height="1.65" fill="#afb0d3" />
<rect x="131.20" y="239.60" width="9.65" height="1.65" fill="#d7d7e8" />
<rect x="131.20" y="241.20" width="9.65" height="1.65" fill="#d5d5e8" />
<rect x="131.20" y="242.80" width="9.65" height="1.65" fill="#d0d1e5" />
<rect x="131.20" y="244.40" width="9.65" height="1.65" fill="#e3e2ef" />
<rect x="131.20" y="246.00" width="9.65" height="1.65" fill="#d3d3e6" />
<rect x="131.20" y="247.60" width="9.65" height="1.65" fill="#cdcde3" />
<rect x="131.20" y="249.20" width="9.65" height="1.65" fill="#b0b2d4" />
<rect x="131.20" y="250.80" width="9.65" height="0.85" fill="#b4b6d6" />
<rect x="142.40" y="58.80" width="10.15" height="1.65" fill="#eeced0" />
<rect x="142.40" y="60.40" width="10.15" height="1.65" fill="#e9c0c2" />
<rect x="142.40" y="62.00" width="10.15" height="1.65" fill="#e7b8ba" />
<rect x="142.40" y="63.60" width="10.15" height="1.65" fill="#e7b8ba" />
<rect x="142.40" y="65.20" width="10.15" height="1.65" fill="#eac2c4" />
<rect x="142.40" y="66.80" width="10.15" height="1.65" fill="#e9bfc1" />
<rect x="142.40" y="68.40" width="10.15" height="1.65" fill="#e0a2a4" />
<rect x="142.40" y="70.00" width="10.15" height="1.65" fill="#db9295" />
<rect x="142.40" y="71.60" width="10.15" height="1.65" fill="#d88a8d" />
<rect x="142.40" y="73.20" width="10.15" height="1.65" fill="#dd9a9c" />
<rect x="142.40" y="74.80" width="10.15" height="1.65" fill="#de9b9d" />
<rect x="142.40" y="76.40" width="10.15" height="1.65" fill="#d68387" />
<rect x="142.40" y="78.00" width="10.15" height="1.65" fill="#eac0c2" />
<rect x="142.40" y="79.60" width="10.15" height="1.65" fill="#d8878b" />
<rect x="142.40" y="81.20" width="10.15" height="1.65" fill="#d78588" />
<rect x="142.40" y="82.80" width="10.15" height="1.65" fill="#dd999b" />
<rect x="142.40" y="84.40" width="10.15" height="1.65" fill="#e2aaac" />
<rect x="142.40" y="86.00" width="10.15" height="1.65" fill="#edcbcd" />
<rect x="142.40" y="87.60" width="10.15" height="1.65" fill="#dd9b9d" />
<rect x="142.40" y="89.20" width="10.15" height="1.65" fill="#e0a2a4" />
<rect x="142.40" y="90.80" width="10.15" height="1.65" fill="#e6b4b6" />
<rect x="142.40" y="92.40" width="10.15" height="1.65" fill="#db9496" />
<rect x="142.40" y="94.00" width="10.15" height="1.65" fill="#e1a5a7" />
<rect x="142.40" y="95.60" width="10.15" height="1.65" fill="#db9496" />
<rect x="142.40" y="97.20" width="10.15" height="1.65" fill="#e1a6a8" />
<rect x="142.40" y="98.80" width="10.15" height="1.65" fill="#de9c9e" />
<rect x="142.40" y="100.40" width="10.15" height="1.65" fill="#e1a5a7" />
<rect x="142.40" y="102.00" width="10.15" height="1.65" fill="#d98d8f" />
<rect x="142.40" y="103.60" width="10.15" height="1.65" fill="#db9496" />
<rect x="142.40" y="105.20" width="10.15" height="1.65" fill="#dc9799" />
<rect x="142.40" y="106.80" width="10.15" height="1.65" fill="#df9fa1" />
<rect x="142.40" y="108.40" width="10.15" height="1.65" fill="#e3acae" />
<rect x="142.40" y="110.00" width="10.15" height="1.65" fill="#e0a3a5" />
<rect x="142.40" y="111.60" width="10.15" height="1.65" fill="#efd1d3" />
<rect x="142.40" y="113.20" width="10.15" height="1.65" fill="#d8888b" />
<rect x="142.40" y="114.80" width="10.15" height="1.65" fill="#df9fa1" />
<rect x="142.40" y="116.40" width="10.15" height="1.65" fill="#ecc9cb" />
<rect x="142.40" y="118.00" width="10.15" height="1.65" fill="#e5b2b4" />
<rect x="142.40" y="119.60" width="10.15" height="1.65" fill="#e1a5a7" />
<rect x="142.40" y="121.20" width="10.15" height="1.65" fill="#d78488" />
<rect x="142.40" y="122.80" width="10.15" height="1.65" fill="#ebc5c7" />
<rect x="142.40" y="124.40" width="10.15" height="1.65" fill="#d98b8e" />
<rect x="142.40" y="126.00" width="10.15" height="1.65" fill="#e0a3a5" />
<rect x="142.40" y="127.60" width="10.15" height="1.65" fill="#dc9799" />
<rect x="142.40" y="129.20" width="10.15" height="1.65" fill="#e2aaac" />
<rect x="142.40" y="130.80" width="10.15" height="1.65" fill="#d98b8e" />
<rect x="142.40" y="132.40" width="10.15" height="1.65" fill="#eecfd1" />
<rect x="142.40" y="134.00" width="10.15" height="1.65" fill="#eac2c4" />
<rect x="142.40" y="135.60" width="10.15" height="1.65" fill="#dd9a9c" />
<rect x="142.40" y="137.20" width="10.15" height="1.65" fill="#e2a9ab" />
<rect x="142.40" y="138.80" width="10.15" height="1.65" fill="#d98c8f" />
<rect x="142.40" y="140.40" width="10.15" height="1.65" fill="#df9fa1" />
<rect x="142.40" y="142.00" width="10.15" height="1.65" fill="#eeced0" />
<rect x="142.40" y="143.60" width="10.15" height="1.65" fill="#e8bcbe" />
<rect x="142.40" y="145.20" width="10.15" height="1.65" fill="#e4aeb0" />
<rect x="142.40" y="146.80" width="10.15" height="1.65" fill="#e3abad" />
<rect x="142.40" y="148.40" width="10.15" height="1.65" fill="#e1a6a8" />
<rect x="142.40" y="150.00" width="10.15" height="1.65" fill="#dfa0a2" />
<rect x="142.40" y="151.60" width="10.15" height="1.65" fill="#e2a8aa" />
<rect x="142.40" y="153.20" width="10.15" height="1.65" fill="#ecc9cb" />
<rect x="142.40" y="154.80" width="10.15" height="1.65" fill="#e0a4a6" />
<rect x="142.40" y="156.40" width="10.15" height="1.65" fill="#e9bdbf" />
<rect x="142.40" y="158.00" width="10.15" height="1.65" fill="#e6b5b7" />
<rect x="142.40" y="159.60" width="10.15" height="1.65" fill="#e7b9bb" />
<rect x="142.40" y="161.20" width="10.15" height="1.65" fill="#e5b1b3" />
<rect x="142.40" y="162.80" width="10.15" height="1.65" fill="#ebc5c7" />
<rect x="142.40" y="164.40" width="10.15" height="1.65" fill="#e6b5b7" />
<rect x="142.40" y="166.00" width="10.15" height="1.65" fill="#e7b8ba" />
<rect x="142.40" y="167.60" width="10.15" height="1.65" fill="#ebc4c6" />
<rect x="142.40" y="169.20" width="10.15" height="1.65" fill="#dd989a" />
<rect x="142.40" y="170.80" width="10.15" height="1.65" fill="#e5b3b5" />
<rect x="142.40" y="172.40" width="10.15" height="1.65" fill="#e2aaac" />
<rect x="142.40" y="174.00" width="10.15" height="1.65" fill="#edcacc" />
<rect x="142.40" y="175.60" width="10.15" height="1.65" fill="#f5e5e7" />
<rect x="142.40" y="177.20" width="10.15" height="1.65" fill="#e4afb1" />
<rect x="142.40" y="178.80" width="10.15" height="1.65" fill="#e3aaac" />
<rect x="142.40" y="180.40" width="10.15" height="1.65" fill="#e2aaac" />
<rect x="142.40" y="182.00" width="10.15" height="1.65" fill="#d68487" />
<rect x="142.40" y="183.60" width="10.15" height="1.65" fill="#e1a6a8" />
<rect x="142.40" y="185.20" width="10.15" height="1.65" fill="#e9bec0" />
<rect x="142.40" y="186.80" width="10.15" height="1.65" fill="#de9b9d" />
<rect x="142.40" y="188.40" width="10.15" height="1.65" fill="#db9294" />
<rect x="142.40" y="190.00" width="10.15" height="1.65" fill="#d98d8f" />
<rect x="142.40" y="191.60" width="10.15" height="1.65" fill="#e6b4b6" />
<rect x="142.40" y="193.20" width="10.15" height="1.65" fill="#db9396" />
<rect x="142.40" y="194.80" width="10.15" height="1.65" fill="#db9496" />
<rect x="142.40" y="196.40" width="10.15" height="1.65" fill="#e7b9bb" />
<rect x="142.40" y="198.00" width="10.15" height="1.65" fill="#df9ea0" />
<rect x="142.40" y="199.60" width="10.15" height="1.65" fill="#dc9799" />
<rect x="142.40" y="201.20" width="10.15" height="1.65" fill="#dc9698" />
<rect x="142.40" y="202.80" width="10.15" height="1.65" fill="#f0d3d5" />
<rect x="142.40" y="204.40" width="10.15" height="1.65" fill="#f4e0e2" />
<rect x="142.40" y="206.00" width="10.15" height="1.65" fill="#e8bbbd" />
<rect x="142.40" y="207.60" width="10.15" height="1.65" fill="#f8ecee" />
<rect x="142.40" y="209.20" width="10.15" height="1.65" fill="#f4e2e4" />
<rect x="142.40" y="210.80" width="10.15" height="1.65" fill="#ebc5c7" />
<rect x="142.40" y="212.40" width="10.15" height="1.65" fill="#fbf7f9" />
<rect x="142.40" y="214.00" width="10.15" height="1.65" fill="#eecdcf" />
<rect x="142.40" y="215.60" width="10.15" height="1.65" fill="#f3dddf" />
<rect x="142.40" y="217.20" width="10.15" height="1.65" fill="#f2dadc" />
<rect x="142.40" y="218.80" width="10.15" height="1.65" fill="#ebc4c6" />
<rect x="142.40" y="220.40" width="10.15" height="1.65" fill="#f2dbdd" />
<rect x="142.40" y="222.00" width="10.15" height="1.65" fill="#e9c0c2" />
<rect x="142.40" y="223.60" width="10.15" height="1.65" fill="#e2aaac" />
<rect x="142.40" y="225.20" width="10.15" height="1.65" fill="#ebc4c6" />
<rect x="142.40" y="226.80" width="10.15" height="1.65" fill="#e6b4b6" />
<rect x="142.40" y="228.40" width="10.15" height="1.65" fill="#d68286" />
<rect x="142.40" y="230.00" width="10.15" height="1.65" fill="#e4aeb0" />
<rect x="142.40" y="231.60" width="10.15" height="1.65" fill="#e8babc" />
<rect x="142.40" y="233.20" width="10.15" height="1.65" fill="#e3adaf" />
<rect x="142.40" y="234.80" width="10.15" height="1.65" fill="#d98c8f" />
<rect x="142.40" y="236.40" width="10.15" height="1.65" fill="#dd999b" />
<rect x="142.40" y="238.00" width="10.15" height="1.65" fill="#e6b4b6" />
<rect x="142.40" y="239.60" width="10.15" height="1.65" fill="#e0a2a4" />
<rect x="142.40" y="241.20" width="10.15" height="1.65" fill="#e3acae" />
<rect x="142.40" y="242.80" width="10.15" height="1.65" fill="#e2a7a9" />
<rect x="142.40" y="244.40" width="10.15" height="1.65" fill="#e1a7a9" />
<rect x="142.40" y="246.00" width="10.15" height="1.65" fill="#e0a2a4" />
<rect x="142.40" y="247.60" width="10.15" height="1.65" fill="#dc9698" />
<rect x="142.40" y="249.20" width="10.15" height="1.65" fill="#ecc9cb" />
<rect x="142.40" y="250.80" width="10.15" height="0.85" fill="#e8bbbd" />
<rect x="152.50" y="58.80" width="10.15" height="1.65" fill="#efd2d4" />
<rect x="152.50" y="60.40" width="10.15" height="1.65" fill="#e2a7a9" />
<rect x="152.50" y="62.00" width="10.15" height="1.65" fill="#e3acae" />
<rect x="152.50" y="63.60" width="10.15" height="1.65" fill="#efd2d4" />
<rect x="152.50" y="65.20" width="10.15" height="1.65" fill="#e5b3b5" />
<rect x="152.50" y="66.80" width="10.15" height="1.65" fill="#e1a4a6" />
<rect x="152.50" y="68.40" width="10.15" height="1.65" fill="#e1a4a6" />
<rect x="152.50" y="70.00" width="10.15" height="1.65" fill="#e8babc" />
<rect x="152.50" y="71.60" width="10.15" height="1.65" fill="#dfa0a2" />
<rect x="152.50" y="73.20" width="10.15" height="1.65" fill="#e1a7a9" />
<rect x="152.50" y="74.80" width="10.15" height="1.65" fill="#db9194" />
<rect x="152.50" y="76.40" width="10.15" height="1.65" fill="#df9fa1" />
<rect x="152.50" y="78.00" width="10.15" height="1.65" fill="#f1d6d8" />
<rect x="152.50" y="79.60" width="10.15" height="1.65" fill="#d98d90" />
<rect x="152.50" y="81.20" width="10.15" height="1.65" fill="#e4aeb0" />
<rect x="152.50" y="82.80" width="10.15" height="1.65" fill="#d8898c" />
<rect x="152.50" y="84.40" width="10.15" height="1.65" fill="#edccce" />
<rect x="152.50" y="86.00" width="10.15" height="1.65" fill="#ebc4c6" />
<rect x="152.50" y="87.60" width="10.15" height="1.65" fill="#e8babc" />
<rect x="152.50" y="89.20" width="10.15" height="1.65" fill="#e4aeb0" />
<rect x="152.50" y="90.80" width="10.15" height="1.65" fill="#d7878a" />
<rect x="152.50" y="92.40" width="10.15" height="1.65" fill="#db9294" />
<rect x="152.50" y="94.00" width="10.15" height="1.65" fill="#da8e91" />
<rect x="152.50" y="95.60" width="10.15" height="1.65" fill="#e0a4a6" />
<rect x="152.50" y="97.20" width="10.15" height="1.65" fill="#e6b4b6" />
<rect x="152.50" y="98.80" width="10.15" height="1.65" fill="#e0a2a4" />
<rect x="152.50" y="100.40" width="10.15" height="1.65" fill="#e5b3b5" />
<rect x="152.50" y="102.00" width="10.15" height="1.65" fill="#dc9698" />
<rect x="152.50" y="103.60" width="10.15" height="1.65" fill="#da9093" />
<rect x="152.50" y="105.20" width="10.15" height="1.65" fill="#dd9a9c" />
<rect x="152.50" y="106.80" width="10.15" height="1.65" fill="#e6b6b8" />
<rect x="152.50" y="108.40" width="10.15" height="1.65" fill="#e9bec0" />
<rect x="152.50" y="110.00" width="10.15" height="1.65" fill="#ecc9cb" />
<rect x="152.50" y="111.60" width="10.15" height="1.65" fill="#dd999b" />
<rect x="152.50" y="113.20" width="10.15" height="1.65" fill="#d78689" />
<rect x="152.50" y="114.80" width="10.15" height="1.65" fill="#de9c9e" />
<rect x="152.50" y="116.40" width="10.15" height="1.65" fill="#e8bbbd" />
<rect x="152.50" y="118.00" width="10.15" height="1.65" fill="#f3dddf" />
<rect x="152.50" y="119.60" width="10.15" height="1.65" fill="#e2aaac" />
<rect x="152.50" y="121.20" width="10.15" height="1.65" fill="#d68286" />
<rect x="152.50" y="122.80" width="10.15" height="1.65" fill="#e4aeb0" />
<rect x="152.50" y="124.40" width="10.15" height="1.65" fill="#db9496" />
<rect x="152.50" y="126.00" width="10.15" height="1.65" fill="#d88a8d" />
<rect x="152.50" y="127.60" width="10.15" height="1.65" fill="#e3acae" />
<rect x="152.50" y="129.20" width="10.15" height="1.65" fill="#e4afb1" />
<rect x="152.50" y="130.80" width="10.15" height="1.65" fill="#d7868a" />
<rect x="152.50" y="132.40" width="10.15" height="1.65" fill="#e8bcbe" />
<rect x="152.50" y="134.00" width="10.15" height="1.65" fill="#ecc9cb" />
<rect x="152.50" y="135.60" width="10.15" height="1.65" fill="#e5b3b5" />
<rect x="152.50" y="137.20" width="10.15" height="1.65" fill="#efd0d2" />
<rect x="152.50" y="138.80" width="10.15" height="1.65" fill="#e1a6a8" />
<rect x="152.50" y="140.40" width="10.15" height="1.65" fill="#e0a4a6" />
<rect x="152.50" y="142.00" width="10.15" height="1.65" fill="#f0d4d6" />
<rect x="152.50" y="143.60" width="10.15" height="1.65" fill="#eac3c5" />
<rect x="152.50" y="145.20" width="10.15" height="1.65" fill="#da8f92" />
<rect x="152.50" y="146.80" width="10.15" height="1.65" fill="#dd999b" />
<rect x="152.50" y="148.40" width="10.15" height="1.65" fill="#d68387" />
<rect x="152.50" y="150.00" width="10.15" height="1.65" fill="#e9c0c2" />
<rect x="152.50" y="151.60" width="10.15" height="1.65" fill="#de9c9e" />
<rect x="152.50" y="153.20" width="10.15" height="1.65" fill="#e0a2a4" />
<rect x="152.50" y="154.80" width="10.15" height="1.65" fill="#d8888b" />
<rect x="152.50" y="156.40" width="10.15" height="1.65" fill="#e9bec0" />
<rect x="152.50" y="158.00" width="10.15" height="1.65" fill="#e6b4b6" />
<rect x="152.50" y="159.60" width="10.15" height="1.65" fill="#ecc8ca" />
<rect x="152.50" y="161.20" width="10.15" height="1.65" fill="#e4b0b2" />
<rect x="152.50" y="162.80" width="10.15" height="1.65" fill="#e2a8aa" />
<rect x="152.50" y="164.40" width="10.15" height="1.65" fill="#de9b9d" />
<rect x="152.50" y="166.00" width="10.15" height="1.65" fill="#f4e1e3" />
<rect x="152.50" y="167.60" width="10.15" height="1.65" fill="#e7babc" />
<rect x="152.50" y="169.20" width="10.15" height="1.65" fill="#e5b3b5" />
<rect x="152.50" y="170.80" width="10.15" height="1.65" fill="#da8e91" />
<rect x="152.50" y="172.40" width="10.15" height="1.65" fill="#dfa0a2" />
<rect x="152.50" y="174.00" width="10.15" height="1.65" fill="#e4afb1" />
<rect x="152.50" y="175.60" width="10.15" height="1.65" fill="#eac1c3" />
<rect x="152.50" y="177.20" width="10.15" height="1.65" fill="#e4aeb0" />
<rect x="152.50" y="178.80" width="10.15" height="1.65" fill="#e5b1b3" />
<rect x="152.50" y="180.40" width="10.15" height="1.65" fill="#df9ea0" />
<rect x="152.50" y="182.00" width="10.15" height="1.65" fill="#e0a3a5" />
<rect x="152.50" y="183.60" width="10.15" height="1.65" fill="#db9294" />
<rect x="152.50" y="185.20" width="10.15" height="1.65" fill="#db9395" />
<rect x="152.50" y="186.80" width="10.15" height="1.65" fill="#da9093" />
<rect x="152.50" y="188.40" width="10.15" height="1.65" fill="#dd989a" />
<rect x="152.50" y="190.00" width="10.15" height="1.65" fill="#e0a4a6" />
<rect x="152.50" y="191.60" width="10.15" height="1.65" fill="#e5b3b5" />
<rect x="152.50" y="193.20" width="10.15" height="1.65" fill="#de9c9e" />
<rect x="152.50" y="194.80" width="10.15" height="1.65" fill="#dd9a9c" />
<rect x="152.50" y="196.40" width="10.15" height="1.65" fill="#dc9799" />
<rect x="152.50" y="198.00" width="10.15" height="1.65" fill="#e1a5a7" />
<rect x="152.50" y="199.60" width="10.15" height="1.65" fill="#d98b8e" />
<rect x="152.50" y="201.20" width="10.15" height="1.65" fill="#dc9698" />
<rect x="152.50" y="202.80" width="10.15" height="1.65" fill="#f4e2e4" />
<rect x="152.50" y="204.40" width="10.15" height="1.65" fill="#efd3d5" />
<rect x="152.50" y="206.00" width="10.15" height="1.65" fill="#e9bec0" />
<rect x="152.50" y="207.60" width="10.15" height="1.65" fill="#fcf9fb" />
<rect x="152.50" y="209.20" width="10.15" height="1.65" fill="#f5e4e6" />
<rect x="152.50" y="210.80" width="10.15" height="1.65" fill="#eecdcf" />
<rect x="152.50" y="212.40" width="10.15" height="1.65" fill="#fcfafc" />
<rect x="152.50" y="214.00" width="10.15" height="1.65" fill="#ebc3c5" />
<rect x="152.50" y="215.60" width="10.15" height="1.65" fill="#f4e1e3" />
<rect x="152.50" y="217.20" width="10.15" height="1.65" fill="#f6e9eb" />
<rect x="152.50" y="218.80" width="10.15" height="1.65" fill="#f0d5d7" />
<rect x="152.50" y="220.40" width="10.15" height="1.65" fill="#f3dfe1" />
<rect x="152.50" y="222.00" width="10.15" height="1.65" fill="#f2dadc" />
<rect x="152.50" y="223.60" width="10.15" height="1.65" fill="#e2a9ab" />
<rect x="152.50" y="225.20" width="10.15" height="1.65" fill="#efd0d2" />
<rect x="152.50" y="226.80" width="10.15" height="1.65" fill="#eac1c3" />
<rect x="152.50" y="228.40" width="10.15" height="1.65" fill="#da9193" />
<rect x="152.50" y="230.00" width="10.15" height="1.65" fill="#e5b1b3" />
<rect x="152.50" y="231.60" width="10.15" height="1.65" fill="#e1a6a8" />
<rect x="152.50" y="233.20" width="10.15" height="1.65" fill="#e5b1b3" />
<rect x="152.50" y="234.80" width="10.15" height="1.65" fill="#d88a8d" />
<rect x="152.50" y="236.40" width="10.15" height="1.65" fill="#e7b8ba" />
<rect x="152.50" y="238.00" width="10.15" height="1.65" fill="#edcbcd" />
<rect x="152.50" y="239.60" width="10.15" height="1.65" fill="#d98d90" />
<rect x="152.50" y="241.20" width="10.15" height="1.65" fill="#e7b7b9" />
<rect x="152.50" y="242.80" width="10.15" height="1.65" fill="#da8e91" />
<rect x="152.50" y="244.40" width="10.15" height="1.65" fill="#d7878a" />
<rect x="152.50" y="246.00" width="10.15" height="1.65" fill="#de9c9e" />
<rect x="152.50" y="247.60" width="10.15" height="1.65" fill="#dfa0a2" />
<rect x="152.50" y="249.20" width="10.15" height="1.65" fill="#e0a2a4" />
<rect x="152.50" y="250.80" width="10.15" height="0.85" fill="#dc9698" />
<rect x="162.60" y="58.80" width="10.15" height="1.65" fill="#ecc7c9" />
<rect x="162.60" y="60.40" width="10.15" height="1.65" fill="#e7b8ba" />
<rect x="162.60" y="62.00" width="10.15" height="1.65" fill="#dc9597" />
<rect x="162.60" y="63.60" width="10.15" height="1.65" fill="#e7b9bb" />
<rect x="162.60" y="65.20" width="10.15" height="1.65" fill="#edc9cb" />
<rect x="162.60" y="66.80" width="10.15" height="1.65" fill="#e9bec0" />
<rect x="162.60" y="68.40" width="10.15" height="1.65" fill="#db9496" />
<rect x="162.60" y="70.00" width="10.15" height="1.65" fill="#de9c9e" />
<rect x="162.60" y="71.60" width="10.15" height="1.65" fill="#db9294" />
<rect x="162.60" y="73.20" width="10.15" height="1.65" fill="#d68387" />
<rect x="162.60" y="74.80" width="10.15" height="1.65" fill="#de9b9d" />
<rect x="162.60" y="76.40" width="10.15" height="1.65" fill="#db9294" />
<rect x="162.60" y="78.00" width="10.15" height="1.65" fill="#de9ea0" />
<rect x="162.60" y="79.60" width="10.15" height="1.65" fill="#dfa0a2" />
<rect x="162.60" y="81.20" width="10.15" height="1.65" fill="#d7878a" />
<rect x="162.60" y="82.80" width="10.15" height="1.65" fill="#d47c80" />
<rect x="162.60" y="84.40" width="10.15" height="1.65" fill="#eeced0" />
<rect x="162.60" y="86.00" width="10.15" height="1.65" fill="#edcbcd" />
<rect x="162.60" y="87.60" width="10.15" height="1.65" fill="#e9bdbf" />
<rect x="162.60" y="89.20" width="10.15" height="1.65" fill="#ebc4c6" />
<rect x="162.60" y="90.80" width="10.15" height="1.65" fill="#db9295" />
<rect x="162.60" y="92.40" width="10.15" height="1.65" fill="#e9bec0" />
<rect x="162.60" y="94.00" width="10.15" height="1.65" fill="#da9092" />
<rect x="162.60" y="95.60" width="10.15" height="1.65" fill="#db9294" />
<rect x="162.60" y="97.20" width="10.15" height="1.65" fill="#e6b5b7" />
<rect x="162.60" y="98.80" width="10.15" height="1.65" fill="#df9fa1" />
<rect x="162.60" y="100.40" width="10.15" height="1.65" fill="#edcacc" />
<rect x="162.60" y="102.00" width="10.15" height="1.65" fill="#d47d81" />
<rect x="162.60" y="103.60" width="10.15" height="1.65" fill="#e0a4a6" />
<rect x="162.60" y="105.20" width="10.15" height="1.65" fill="#db9395" />
<rect x="162.60" y="106.80" width="10.15" height="1.65" fill="#e2aaac" />
<rect x="162.60" y="108.40" width="10.15" height="1.65" fill="#e0a3a5" />
<rect x="162.60" y="110.00" width="10.15" height="1.65" fill="#e3acae" />
<rect x="162.60" y="111.60" width="10.15" height="1.65" fill="#e0a3a5" />
<rect x="162.60" y="113.20" width="10.15" height="1.65" fill="#e0a2a4" />
<rect x="162.60" y="114.80" width="10.15" height="1.65" fill="#de9d9f" />
<rect x="162.60" y="116.40" width="10.15" height="1.65" fill="#e9bec0" />
<rect x="162.60" y="118.00" width="10.15" height="1.65" fill="#e5b2b4" />
<rect x="162.60" y="119.60" width="10.15" height="1.65" fill="#eecdcf" />
<rect x="162.60" y="121.20" width="10.15" height="1.65" fill="#dd9a9c" />
<rect x="162.60" y="122.80" width="10.15" height="1.65" fill="#db9395" />
<rect x="162.60" y="124.40" width="10.15" height="1.65" fill="#e0a1a3" />
<rect x="162.60" y="126.00" width="10.15" height="1.65" fill="#e6b6b8" />
<rect x="162.60" y="127.60" width="10.15" height="1.65" fill="#e8bbbd" />
<rect x="162.60" y="129.20" width="10.15" height="1.65" fill="#e7b8ba" />
<rect x="162.60" y="130.80" width="10.15" height="1.65" fill="#e4b0b2" />
<rect x="162.60" y="132.40" width="10.15" height="1.65" fill="#f0d4d6" />
<rect x="162.60" y="134.00" width="10.15" height="1.65" fill="#e0a3a5" />
<rect x="162.60" y="135.60" width="10.15" height="1.65" fill="#e1a6a8" />
<rect x="162.60" y="137.20" width="10.15" height="1.65" fill="#e8babc" />
<rect x="162.60" y="138.80" width="10.15" height="1.65" fill="#e6b4b6" />
<rect x="162.60" y="140.40" width="10.15" height="1.65" fill="#e9c0c2" />
<rect x="162.60" y="142.00" width="10.15" height="1.65" fill="#e3adaf" />
<rect x="162.60" y="143.60" width="10.15" height="1.65" fill="#de9c9e" />
<rect x="162.60" y="145.20" width="10.15" height="1.65" fill="#e5b3b5" />
<rect x="162.60" y="146.80" width="10.15" height="1.65" fill="#eac3c5" />
<rect x="162.60" y="148.40" width="10.15" height="1.65" fill="#e4afb1" />
<rect x="162.60" y="150.00" width="10.15" height="1.65" fill="#d68487" />
<rect x="162.60" y="151.60" width="10.15" height="1.65" fill="#eac1c3" />
<rect x="162.60" y="153.20" width="10.15" height="1.65" fill="#ebc6c8" />
<rect x="162.60" y="154.80" width="10.15" height="1.65" fill="#e0a3a5" />
<rect x="162.60" y="156.40" width="10.15" height="1.65" fill="#e9bdbf" />
<rect x="162.60" y="158.00" width="10.15" height="1.65" fill="#e9bdbf" />
<rect x="162.60" y="159.60" width="10.15" height="1.65" fill="#f2dadc" />
<rect x="162.60" y="161.20" width="10.15" height="1.65" fill="#efd1d3" />
<rect x="162.60" y="162.80" width="10.15" height="1.65" fill="#de9d9f" />
<rect x="162.60" y="164.40" width="10.15" height="1.65" fill="#e2a9ab" />
<rect x="162.60" y="166.00" width="10.15" height="1.65" fill="#eac1c3" />
<rect x="162.60" y="167.60" width="10.15" height="1.65" fill="#f3dee0" />
<rect x="162.60" y="169.20" width="10.15" height="1.65" fill="#e4afb1" />
<rect x="162.60" y="170.80" width="10.15" height="1.65" fill="#db9396" />
<rect x="162.60" y="172.40" width="10.15" height="1.65" fill="#db9396" />
<rect x="162.60" y="174.00" width="10.15" height="1.65" fill="#f2dadc" />
<rect x="162.60" y="175.60" width="10.15" height="1.65" fill="#edcacc" />
<rect x="162.60" y="177.20" width="10.15" height="1.65" fill="#df9fa1" />
<rect x="162.60" y="178.80" width="10.15" height="1.65" fill="#eac3c5" />
<rect x="162.60" y="180.40" width="10.15" height="1.65" fill="#e6b4b6" />
<rect x="162.60" y="182.00" width="10.15" height="1.65" fill="#e2aaac" />
<rect x="162.60" y="183.60" width="10.15" height="1.65" fill="#e1a5a7" />
<rect x="162.60" y="185.20" width="10.15" height="1.65" fill="#e1a6a8" />
<rect x="162.60" y="186.80" width="10.15" height="1.65" fill="#efd1d3" />
<rect x="162.60" y="188.40" width="10.15" height="1.65" fill="#e0a2a4" />
<rect x="162.60" y="190.00" width="10.15" height="1.65" fill="#df9fa1" />
<rect x="162.60" y="191.60" width="10.15" height="1.65" fill="#e6b6b8" />
<rect x="162.60" y="193.20" width="10.15" height="1.65" fill="#e2a7a9" />
<rect x="162.60" y="194.80" width="10.15" height="1.65" fill="#db9496" />
<rect x="162.60" y="196.40" width="10.15" height="1.65" fill="#ecc9cb" />
<rect x="162.60" y="198.00" width="10.15" height="1.65" fill="#d78588" />
<rect x="162.60" y="199.60" width="10.15" height="1.65" fill="#e4afb1" />
<rect x="162.60" y="201.20" width="10.15" height="1.65" fill="#e7b9bb" />
<rect x="162.60" y="202.80" width="10.15" height="1.65" fill="#e5b1b3" />
<rect x="162.60" y="204.40" width="10.15" height="1.65" fill="#e9bfc1" />
<rect x="162.60" y="206.00" width="10.15" height="1.65" fill="#e5b1b3" />
<rect x="162.60" y="207.60" width="10.15" height="1.65" fill="#f9f7fa" />
<rect x="162.60" y="209.20" width="10.15" height="1.65" fill="#f1d7d9" />
<rect x="162.60" y="210.80" width="10.15" height="1.65" fill="#efd0d2" />
<rect x="162.60" y="212.40" width="10.15" height="1.65" fill="#f6e7e9" />
<rect x="162.60" y="214.00" width="10.15" height="1.65" fill="#edcbcd" />
<rect x="162.60" y="215.60" width="10.15" height="1.65" fill="#ecc7c9" />
<rect x="162.60" y="217.20" width="10.15" height="1.65" fill="#f7eaec" />
<rect x="162.60" y="218.80" width="10.15" height="1.65" fill="#f6e8ea" />
<rect x="162.60" y="220.40" width="10.15" height="1.65" fill="#f7ebed" />
<rect x="162.60" y="222.00" width="10.15" height="1.65" fill="#eecfd1" />
<rect x="162.60" y="223.60" width="10.15" height="1.65" fill="#eecfd1" />
<rect x="162.60" y="225.20" width="10.15" height="1.65" fill="#f3dee0" />
<rect x="162.60" y="226.80" width="10.15" height="1.65" fill="#eeced0" />
<rect x="162.60" y="228.40" width="10.15" height="1.65" fill="#e0a3a5" />
<rect x="162.60" y="230.00" width="10.15" height="1.65" fill="#eac0c2" />
<rect x="162.60" y="231.60" width="10.15" height="1.65" fill="#e9bdbf" />
<rect x="162.60" y="233.20" width="10.15" height="1.65" fill="#e1a6a8" />
<rect x="162.60" y="234.80" width="10.15" height="1.65" fill="#de9c9e" />
<rect x="162.60" y="236.40" width="10.15" height="1.65" fill="#e9c0c2" />
<rect x="162.60" y="238.00" width="10.15" height="1.65" fill="#e8bdbf" />
<rect x="162.60" y="239.60" width="10.15" height="1.65" fill="#e5b1b3" />
<rect x="162.60" y="241.20" width="10.15" height="1.65" fill="#e1a7a9" />
<rect x="162.60" y="242.80" width="10.15" height="1.65" fill="#e1a6a8" />
<rect x="162.60" y="244.40" width="10.15" height="1.65" fill="#d98b8e" />
<rect x="162.60" y="246.00" width="10.15" height="1.65" fill="#f1d7d9" />
<rect x="162.60" y="247.60" width="10.15" height="1.65" fill="#dd989a" />
<rect x="162.60" y="249.20" width="10.15" height="1.65" fill="#ebc4c6" />
<rect x="162.60" y="250.80" width="10.15" height="0.85" fill="#e0a1a3" />
<rect x="174.30" y="58.80" width="10.18" height="1.65" fill="#d4d5e7" />
<rect x="174.30" y="60.40" width="10.18" height="1.65" fill="#e8e7f1" />
<rect x="174.30" y="62.00" width="10.18" height="1.65" fill="#f6e8ea" />
<rect x="174.30" y="63.60" width="10.18" height="1.65" fill="#f7e9eb" />
<rect x="174.30" y="65.20" width="10.18" height="1.65" fill="#f3dee0" />
<rect x="174.30" y="66.80" width="10.18" height="1.65" fill="#f6e7e9" />
<rect x="174.30" y="68.40" width="10.18" height="1.65" fill="#eac0c2" />
<rect x="174.30" y="70.00" width="10.18" height="1.65" fill="#f7ebed" />
<rect x="174.30" y="71.60" width="10.18" height="1.65" fill="#f6e7e9" />
<rect x="174.30" y="73.20" width="10.18" height="1.65" fill="#ebc6c8" />
<rect x="174.30" y="74.80" width="10.18" height="1.65" fill="#eecfd1" />
<rect x="174.30" y="76.40" width="10.18" height="1.65" fill="#efd0d2" />
<rect x="174.30" y="78.00" width="10.18" height="1.65" fill="#f7ebed" />
<rect x="174.30" y="79.60" width="10.18" height="1.65" fill="#ebc4c6" />
<rect x="174.30" y="81.20" width="10.18" height="1.65" fill="#f4e0e2" />
<rect x="174.30" y="82.80" width="10.18" height="1.65" fill="#eac1c3" />
<rect x="174.30" y="84.40" width="10.18" height="1.65" fill="#f9f2f4" />
<rect x="174.30" y="86.00" width="10.18" height="1.65" fill="#f3dee0" />
<rect x="174.30" y="87.60" width="10.18" height="1.65" fill="#f3dfe1" />
<rect x="174.30" y="89.20" width="10.18" height="1.65" fill="#faf5f7" />
<rect x="174.30" y="90.80" width="10.18" height="1.65" fill="#f4e2e4" />
<rect x="174.30" y="92.40" width="10.18" height="1.65" fill="#ebc4c6" />
<rect x="174.30" y="94.00" width="10.18" height="1.65" fill="#eecfd1" />
<rect x="174.30" y="95.60" width="10.18" height="1.65" fill="#f4e1e3" />
<rect x="174.30" y="97.20" width="10.18" height="1.65" fill="#edcbcd" />
<rect x="174.30" y="98.80" width="10.18" height="1.65" fill="#f0d3d5" />
<rect x="174.30" y="100.40" width="10.18" height="1.65" fill="#f4e2e4" />
<rect x="174.30" y="102.00" width="10.18" height="1.65" fill="#e7b7b9" />
<rect x="174.30" y="103.60" width="10.18" height="1.65" fill="#ecc8ca" />
<rect x="174.30" y="105.20" width="10.18" height="1.65" fill="#e2a7a9" />
<rect x="174.30" y="106.80" width="10.18" height="1.65" fill="#f2d9db" />
<rect x="174.30" y="108.40" width="10.18" height="1.65" fill="#e9c0c2" />
<rect x="174.30" y="110.00" width="10.18" height="1.65" fill="#e8bbbd" />
<rect x="174.30" y="111.60" width="10.18" height="1.65" fill="#e7b8ba" />
<rect x="174.30" y="113.20" width="10.18" height="1.65" fill="#e7b8ba" />
<rect x="174.30" y="114.80" width="10.18" height="1.65" fill="#eeced0" />
<rect x="174.30" y="116.40" width="10.18" height="1.65" fill="#f1d6d8" />
<rect x="174.30" y="118.00" width="10.18" height="1.65" fill="#f4e0e2" />
<rect x="174.30" y="119.60" width="10.18" height="1.65" fill="#f5e2e4" />
<rect x="174.30" y="121.20" width="10.18" height="1.65" fill="#eac2c4" />
<rect x="174.30" y="122.80" width="10.18" height="1.65" fill="#f5e5e7" />
<rect x="174.30" y="124.40" width="10.18" height="1.65" fill="#e6b4b6" />
<rect x="174.30" y="126.00" width="10.18" height="1.65" fill="#ebc5c7" />
<rect x="174.30" y="127.60" width="10.18" height="1.65" fill="#f8edef" />
<rect x="174.30" y="129.20" width="10.18" height="1.65" fill="#f8eff1" />
<rect x="174.30" y="130.80" width="10.18" height="1.65" fill="#ecc7c9" />
<rect x="174.30" y="132.40" width="10.18" height="1.65" fill="#fbf7f9" />
<rect x="174.30" y="134.00" width="10.18" height="1.65" fill="#f8edef" />
<rect x="174.30" y="135.60" width="10.18" height="1.65" fill="#f8ecee" />
<rect x="174.30" y="137.20" width="10.18" height="1.65" fill="#f3f1f7" />
<rect x="174.30" y="138.80" width="10.18" height="1.65" fill="#efd1d3" />
<rect x="174.30" y="140.40" width="10.18" height="1.65" fill="#f4e0e2" />
<rect x="174.30" y="142.00" width="10.18" height="1.65" fill="#edcacc" />
<rect x="174.30" y="143.60" width="10.18" height="1.65" fill="#eeced0" />
<rect x="174.30" y="145.20" width="10.18" height="1.65" fill="#eeced0" />
<rect x="174.30" y="146.80" width="10.18" height="1.65" fill="#e3aaac" />
<rect x="174.30" y="148.40" width="10.18" height="1.65" fill="#e6b4b6" />
<rect x="174.30" y="150.00" width="10.18" height="1.65" fill="#e9c0c2" />
<rect x="174.30" y="151.60" width="10.18" height="1.65" fill="#edccce" />
<rect x="174.30" y="153.20" width="10.18" height="1.65" fill="#f4e1e3" />
<rect x="174.30" y="154.80" width="10.18" height="1.65" fill="#e0a4a6" />
<rect x="174.30" y="156.40" width="10.18" height="1.65" fill="#e9bfc1" />
<rect x="174.30" y="158.00" width="10.18" height="1.65" fill="#e4b0b2" />
<rect x="174.30" y="159.60" width="10.18" height="1.65" fill="#f2dbdd" />
<rect x="174.30" y="161.20" width="10.18" height="1.65" fill="#efd2d4" />
<rect x="174.30" y="162.80" width="10.18" height="1.65" fill="#f1d8da" />
<rect x="174.30" y="164.40" width="10.18" height="1.65" fill="#df9fa1" />
<rect x="174.30" y="166.00" width="10.18" height="1.65" fill="#f9f0f2" />
<rect x="174.30" y="167.60" width="10.18" height="1.65" fill="#eecfd1" />
<rect x="174.30" y="169.20" width="10.18" height="1.65" fill="#e3abad" />
<rect x="174.30" y="170.80" width="10.18" height="1.65" fill="#db9395" />
<rect x="174.30" y="172.40" width="10.18" height="1.65" fill="#ecc7c9" />
<rect x="174.30" y="174.00" width="10.18" height="1.65" fill="#edcbcd" />
<rect x="174.30" y="175.60" width="10.18" height="1.65" fill="#f7ebed" />
<rect x="174.30" y="177.20" width="10.18" height="1.65" fill="#ebc5c7" />
<rect x="174.30" y="178.80" width="10.18" height="1.65" fill="#f2dcde" />
<rect x="174.30" y="180.40" width="10.18" height="1.65" fill="#e9bec0" />
<rect x="174.30" y="182.00" width="10.18" height="1.65" fill="#de9d9f" />
<rect x="174.30" y="183.60" width="10.18" height="1.65" fill="#edcacc" />
<rect x="174.30" y="185.20" width="10.18" height="1.65" fill="#f4e0e2" />
<rect x="174.30" y="186.80" width="10.18" height="1.65" fill="#f4e0e2" />
<rect x="174.30" y="188.40" width="10.18" height="1.65" fill="#e7b9bb" />
<rect x="174.30" y="190.00" width="10.18" height="1.65" fill="#eac2c4" />
<rect x="174.30" y="191.60" width="10.18" height="1.65" fill="#f6e6e8" />
<rect x="174.30" y="193.20" width="10.18" height="1.65" fill="#fcf9fb" />
<rect x="174.30" y="194.80" width="10.18" height="1.65" fill="#f7ebed" />
<rect x="174.30" y="196.40" width="10.18" height="1.65" fill="#f8eef0" />
<rect x="174.30" y="198.00" width="10.18" height="1.65" fill="#e9c0c2" />
<rect x="174.30" y="199.60" width="10.18" height="1.65" fill="#f5e4e6" />
<rect x="174.30" y="201.20" width="10.18" height="1.65" fill="#f9f0f2" />
<rect x="174.30" y="202.80" width="10.18" height="1.65" fill="#ecebf4" />
<rect x="174.30" y="204.40" width="10.18" height="1.65" fill="#eae9f3" />
<rect x="174.30" y="206.00" width="10.18" height="1.65" fill="#f1d8da" />
<rect x="174.30" y="207.60" width="10.18" height="1.65" fill="#e6e5f1" />
<rect x="174.30" y="209.20" width="10.18" height="1.65" fill="#f5e3e5" />
<rect x="174.30" y="210.80" width="10.18" height="1.65" fill="#fcf9fb" />
<rect x="174.30" y="212.40" width="10.18" height="1.65" fill="#e9e8f2" />
<rect x="174.30" y="214.00" width="10.18" height="1.65" fill="#f1d8da" />
<rect x="174.30" y="215.60" width="10.18" height="1.65" fill="#faf4f6" />
<rect x="174.30" y="217.20" width="10.18" height="1.65" fill="#f6e8ea" />
<rect x="174.30" y="218.80" width="10.18" height="1.65" fill="#f8edef" />
<rect x="174.30" y="220.40" width="10.18" height="1.65" fill="#fcfafc" />
<rect x="174.30" y="222.00" width="10.18" height="1.65" fill="#f8edef" />
<rect x="174.30" y="223.60" width="10.18" height="1.65" fill="#f4e2e4" />
<rect x="174.30" y="225.20" width="10.18" height="1.65" fill="#dadaea" />
<rect x="174.30" y="226.80" width="10.18" height="1.65" fill="#f9f1f3" />
<rect x="174.30" y="228.40" width="10.18" height="1.65" fill="#faf4f6" />
<rect x="174.30" y="230.00" width="10.18" height="1.65" fill="#faf8fb" />
<rect x="174.30" y="231.60" width="10.18" height="1.65" fill="#d1d1e5" />
<rect x="174.30" y="233.20" width="10.18" height="1.65" fill="#f2f1f7" />
<rect x="174.30" y="234.80" width="10.18" height="1.65" fill="#fcfafc" />
<rect x="174.30" y="236.40" width="10.18" height="1.65" fill="#f8f6fa" />
<rect x="174.30" y="238.00" width="10.18" height="1.65" fill="#d0d1e5" />
<rect x="174.30" y="239.60" width="10.18" height="1.65" fill="#e5e4f0" />
<rect x="174.30" y="241.20" width="10.18" height="1.65" fill="#d8d8e9" />
<rect x="174.30" y="242.80" width="10.18" height="1.65" fill="#ebeaf3" />
<rect x="174.30" y="244.40" width="10.18" height="1.65" fill="#f9f1f3" />
<rect x="174.30" y="246.00" width="10.18" height="1.65" fill="#d2d2e6" />
<rect x="174.30" y="247.60" width="10.18" height="1.65" fill="#f7f6fa" />
<rect x="174.30" y="249.20" width="10.18" height="1.65" fill="#e9e8f2" />
<rect x="174.30" y="250.80" width="10.18" height="0.85" fill="#faf8fb" />
<rect x="184.43" y="58.80" width="10.18" height="1.65" fill="#eeedf5" />
<rect x="184.43" y="60.40" width="10.18" height="1.65" fill="#ecebf4" />
<rect x="184.43" y="62.00" width="10.18" height="1.65" fill="#faf4f6" />
<rect x="184.43" y="63.60" width="10.18" height="1.65" fill="#f9f1f3" />
<rect x="184.43" y="65.20" width="10.18" height="1.65" fill="#faf4f6" />
<rect x="184.43" y="66.80" width="10.18" height="1.65" fill="#f4dfe1" />
<rect x="184.43" y="68.40" width="10.18" height="1.65" fill="#efd1d3" />
<rect x="184.43" y="70.00" width="10.18" height="1.65" fill="#e9bec0" />
<rect x="184.43" y="71.60" width="10.18" height="1.65" fill="#edcbcd" />
<rect x="184.43" y="73.20" width="10.18" height="1.65" fill="#f6e6e8" />
<rect x="184.43" y="74.80" width="10.18" height="1.65" fill="#e9bdbf" />
<rect x="184.43" y="76.40" width="10.18" height="1.65" fill="#ecc9cb" />
<rect x="184.43" y="78.00" width="10.18" height="1.65" fill="#f7ebed" />
<rect x="184.43" y="79.60" width="10.18" height="1.65" fill="#f1d6d8" />
<rect x="184.43" y="81.20" width="10.18" height="1.65" fill="#f7e9eb" />
<rect x="184.43" y="82.80" width="10.18" height="1.65" fill="#f3dee0" />
<rect x="184.43" y="84.40" width="10.18" height="1.65" fill="#f3dfe1" />
<rect x="184.43" y="86.00" width="10.18" height="1.65" fill="#fbf6f8" />
<rect x="184.43" y="87.60" width="10.18" height="1.65" fill="#f9f2f4" />
<rect x="184.43" y="89.20" width="10.18" height="1.65" fill="#f1d8da" />
<rect x="184.43" y="90.80" width="10.18" height="1.65" fill="#eecdcf" />
<rect x="184.43" y="92.40" width="10.18" height="1.65" fill="#edccce" />
<rect x="184.43" y="94.00" width="10.18" height="1.65" fill="#eac2c4" />
<rect x="184.43" y="95.60" width="10.18" height="1.65" fill="#ecc7c9" />
<rect x="184.43" y="97.20" width="10.18" height="1.65" fill="#f2dadc" />
<rect x="184.43" y="98.80" width="10.18" height="1.65" fill="#e9bdbf" />
<rect x="184.43" y="100.40" width="10.18" height="1.65" fill="#f6e8ea" />
<rect x="184.43" y="102.00" width="10.18" height="1.65" fill="#e3adaf" />
<rect x="184.43" y="103.60" width="10.18" height="1.65" fill="#ecc8ca" />
<rect x="184.43" y="105.20" width="10.18" height="1.65" fill="#e8bdbf" />
<rect x="184.43" y="106.80" width="10.18" height="1.65" fill="#eecdcf" />
<rect x="184.43" y="108.40" width="10.18" height="1.65" fill="#f2dcde" />
<rect x="184.43" y="110.00" width="10.18" height="1.65" fill="#ecc6c8" />
<rect x="184.43" y="111.60" width="10.18" height="1.65" fill="#ecc7c9" />
<rect x="184.43" y="113.20" width="10.18" height="1.65" fill="#ecc7c9" />
<rect x="184.43" y="114.80" width="10.18" height="1.65" fill="#f1d7d9" />
<rect x="184.43" y="116.40" width="10.18" height="1.65" fill="#f4e2e4" />
<rect x="184.43" y="118.00" width="10.18" height="1.65" fill="#f5e5e7" />
<rect x="184.43" y="119.60" width="10.18" height="1.65" fill="#f2dbdd" />
<rect x="184.43" y="121.20" width="10.18" height="1.65" fill="#eac1c3" />
<rect x="184.43" y="122.80" width="10.18" height="1.65" fill="#e4aeb0" />
<rect x="184.43" y="124.40" width="10.18" height="1.65" fill="#ebc5c7" />
<rect x="184.43" y="126.00" width="10.18" height="1.65" fill="#eac1c3" />
<rect x="184.43" y="127.60" width="10.18" height="1.65" fill="#faf2f4" />
<rect x="184.43" y="129.20" width="10.18" height="1.65" fill="#f3dfe1" />
<rect x="184.43" y="130.80" width="10.18" height="1.65" fill="#edcbcd" />
<rect x="184.43" y="132.40" width="10.18" height="1.65" fill="#f9eff1" />
<rect x="184.43" y="134.00" width="10.18" height="1.65" fill="#f8ecee" />
<rect x="184.43" y="135.60" width="10.18" height="1.65" fill="#ebc6c8" />
<rect x="184.43" y="137.20" width="10.18" height="1.65" fill="#f8eff1" />
<rect x="184.43" y="138.80" width="10.18" height="1.65" fill="#ecc9cb" />
<rect x="184.43" y="140.40" width="10.18" height="1.65" fill="#f8f6fa" />
<rect x="184.43" y="142.00" width="10.18" height="1.65" fill="#f8edef" />
<rect x="184.43" y="143.60" width="10.18" height="1.65" fill="#ecc9cb" />
<rect x="184.43" y="145.20" width="10.18" height="1.65" fill="#ecc8ca" />
<rect x="184.43" y="146.80" width="10.18" height="1.65" fill="#e7b8ba" />
<rect x="184.43" y="148.40" width="10.18" height="1.65" fill="#e5b2b4" />
<rect x="184.43" y="150.00" width="10.18" height="1.65" fill="#e9c0c2" />
<rect x="184.43" y="151.60" width="10.18" height="1.65" fill="#f4e1e3" />
<rect x="184.43" y="153.20" width="10.18" height="1.65" fill="#f4e2e4" />
<rect x="184.43" y="154.80" width="10.18" height="1.65" fill="#f4e0e2" />
<rect x="184.43" y="156.40" width="10.18" height="1.65" fill="#ebc5c7" />
<rect x="184.43" y="158.00" width="10.18" height="1.65" fill="#ecc7c9" />
<rect x="184.43" y="159.60" width="10.18" height="1.65" fill="#f1d9db" />
<rect x="184.43" y="161.20" width="10.18" height="1.65" fill="#f3dddf" />
<rect x="184.43" y="162.80" width="10.18" height="1.65" fill="#f0d4d6" />
<rect x="184.43" y="164.40" width="10.18" height="1.65" fill="#da9193" />
<rect x="184.43" y="166.00" width="10.18" height="1.65" fill="#ebc5c7" />
<rect x="184.43" y="167.60" width="10.18" height="1.65" fill="#f1d7d9" />
<rect x="184.43" y="169.20" width="10.18" height="1.65" fill="#e2a8aa" />
<rect x="184.43" y="170.80" width="10.18" height="1.65" fill="#ebc5c7" />
<rect x="184.43" y="172.40" width="10.18" height="1.65" fill="#f0d5d7" />
<rect x="184.43" y="174.00" width="10.18" height="1.65" fill="#f4e0e2" />
<rect x="184.43" y="175.60" width="10.18" height="1.65" fill="#f8edef" />
<rect x="184.43" y="177.20" width="10.18" height="1.65" fill="#eac2c4" />
<rect x="184.43" y="178.80" width="10.18" height="1.65" fill="#ebc6c8" />
<rect x="184.43" y="180.40" width="10.18" height="1.65" fill="#df9ea0" />
<rect x="184.43" y="182.00" width="10.18" height="1.65" fill="#ebc4c6" />
<rect x="184.43" y="183.60" width="10.18" height="1.65" fill="#e9bfc1" />
<rect x="184.43" y="185.20" width="10.18" height="1.65" fill="#efd2d4" />
<rect x="184.43" y="186.80" width="10.18" height="1.65" fill="#f3dcde" />
<rect x="184.43" y="188.40" width="10.18" height="1.65" fill="#efd3d5" />
<rect x="184.43" y="190.00" width="10.18" height="1.65" fill="#e6b5b7" />
<rect x="184.43" y="191.60" width="10.18" height="1.65" fill="#f9eff1" />
<rect x="184.43" y="193.20" width="10.18" height="1.65" fill="#f4dfe1" />
<rect x="184.43" y="194.80" width="10.18" height="1.65" fill="#f6e6e8" />
<rect x="184.43" y="196.40" width="10.18" height="1.65" fill="#fcf9fb" />
<rect x="184.43" y="198.00" width="10.18" height="1.65" fill="#f9f0f2" />
<rect x="184.43" y="199.60" width="10.18" height="1.65" fill="#fbf8fa" />
<rect x="184.43" y="201.20" width="10.18" height="1.65" fill="#f2f1f7" />
<rect x="184.43" y="202.80" width="10.18" height="1.65" fill="#f8f6fa" />
<rect x="184.43" y="204.40" width="10.18" height="1.65" fill="#faf3f5" />
<rect x="184.43" y="206.00" width="10.18" height="1.65" fill="#f5e3e5" />
<rect x="184.43" y="207.60" width="10.18" height="1.65" fill="#d8d8e9" />
<rect x="184.43" y="209.20" width="10.18" height="1.65" fill="#fbf6f8" />
<rect x="184.43" y="210.80" width="10.18" height="1.65" fill="#f8edef" />
<rect x="184.43" y="212.40" width="10.18" height="1.65" fill="#e7e6f1" />
<rect x="184.43" y="214.00" width="10.18" height="1.65" fill="#f6e8ea" />
<rect x="184.43" y="215.60" width="10.18" height="1.65" fill="#f4e0e2" />
<rect x="184.43" y="217.20" width="10.18" height="1.65" fill="#f7ebed" />
<rect x="184.43" y="218.80" width="10.18" height="1.65" fill="#f8edef" />
<rect x="184.43" y="220.40" width="10.18" height="1.65" fill="#f5e4e6" />
<rect x="184.43" y="222.00" width="10.18" height="1.65" fill="#f9f7fb" />
<rect x="184.43" y="223.60" width="10.18" height="1.65" fill="#f8ecee" />
<rect x="184.43" y="225.20" width="10.18" height="1.65" fill="#f1eff6" />
<rect x="184.43" y="226.80" width="10.18" height="1.65" fill="#f5f4f9" />
<rect x="184.43" y="228.40" width="10.18" height="1.65" fill="#fbf9fb" />
<rect x="184.43" y="230.00" width="10.18" height="1.65" fill="#efeef5" />
<rect x="184.43" y="231.60" width="10.18" height="1.65" fill="#e6e5f0" />
<rect x="184.43" y="233.20" width="10.18" height="1.65" fill="#f3f2f7" />
<rect x="184.43" y="234.80" width="10.18" height="1.65" fill="#f1d8da" />
<rect x="184.43" y="236.40" width="10.18" height="1.65" fill="#f2f0f7" />
<rect x="184.43" y="238.00" width="10.18" height="1.65" fill="#e7e6f1" />
<rect x="184.43" y="239.60" width="10.18" height="1.65" fill="#f7ebed" />
<rect x="184.43" y="241.20" width="10.18" height="1.65" fill="#fbf7f9" />
<rect x="184.43" y="242.80" width="10.18" height="1.65" fill="#dcdbeb" />
<rect x="184.43" y="244.40" width="10.18" height="1.65" fill="#f8edef" />
<rect x="184.43" y="246.00" width="10.18" height="1.65" fill="#efeef5" />
<rect x="184.43" y="247.60" width="10.18" height="1.65" fill="#f3dfe1" />
<rect x="184.43" y="249.20" width="10.18" height="1.65" fill="#f2f1f7" />
<rect x="184.43" y="250.80" width="10.18" height="0.85" fill="#f1f0f6" />
<rect x="194.57" y="58.80" width="10.18" height="1.65" fill="#d9d9ea" />
<rect x="194.57" y="60.40" width="10.18" height="1.65" fill="#e6e5f0" />
<rect x="194.57" y="62.00" width="10.18" height="1.65" fill="#f4e1e3" />
<rect x="194.57" y="63.60" width="10.18" height="1.65" fill="#f3dee0" />
<rect x="194.57" y="65.20" width="10.18" height="1.65" fill="#fcf9fb" />
<rect x="194.57" y="66.80" width="10.18" height="1.65" fill="#f6e6e8" />
<rect x="194.57" y="68.40" width="10.18" height="1.65" fill="#f0d5d7" />
<rect x="194.57" y="70.00" width="10.18" height="1.65" fill="#f1d7d9" />
<rect x="194.57" y="71.60" width="10.18" height="1.65" fill="#edcacc" />
<rect x="194.57" y="73.20" width="10.18" height="1.65" fill="#f2dcde" />
<rect x="194.57" y="74.80" width="10.18" height="1.65" fill="#f5e5e7" />
<rect x="194.57" y="76.40" width="10.18" height="1.65" fill="#ebc4c6" />
<rect x="194.57" y="78.00" width="10.18" height="1.65" fill="#f1d7d9" />
<rect x="194.57" y="79.60" width="10.18" height="1.65" fill="#eeced0" />
<rect x="194.57" y="81.20" width="10.18" height="1.65" fill="#e9c0c2" />
<rect x="194.57" y="82.80" width="10.18" height="1.65" fill="#ecc9cb" />
<rect x="194.57" y="84.40" width="10.18" height="1.65" fill="#f4e2e4" />
<rect x="194.57" y="86.00" width="10.18" height="1.65" fill="#f5e5e7" />
<rect x="194.57" y="87.60" width="10.18" height="1.65" fill="#f7eaec" />
<rect x="194.57" y="89.20" width="10.18" height="1.65" fill="#f0d3d5" />
<rect x="194.57" y="90.80" width="10.18" height="1.65" fill="#eac0c2" />
<rect x="194.57" y="92.40" width="10.18" height="1.65" fill="#f4e0e2" />
<rect x="194.57" y="94.00" width="10.18" height="1.65" fill="#e3acae" />
<rect x="194.57" y="95.60" width="10.18" height="1.65" fill="#e8bcbe" />
<rect x="194.57" y="97.20" width="10.18" height="1.65" fill="#e5b1b3" />
<rect x="194.57" y="98.80" width="10.18" height="1.65" fill="#e3acae" />
<rect x="194.57" y="100.40" width="10.18" height="1.65" fill="#efd1d3" />
<rect x="194.57" y="102.00" width="10.18" height="1.65" fill="#e9bec0" />
<rect x="194.57" y="103.60" width="10.18" height="1.65" fill="#f0d3d5" />
<rect x="194.57" y="105.20" width="10.18" height="1.65" fill="#eeced0" />
<rect x="194.57" y="106.80" width="10.18" height="1.65" fill="#f1d9db" />
<rect x="194.57" y="108.40" width="10.18" height="1.65" fill="#f2dcde" />
<rect x="194.57" y="110.00" width="10.18" height="1.65" fill="#eeced0" />
<rect x="194.57" y="111.60" width="10.18" height="1.65" fill="#f8eef0" />
<rect x="194.57" y="113.20" width="10.18" height="1.65" fill="#e0a3a5" />
<rect x="194.57" y="114.80" width="10.18" height="1.65" fill="#e2a9ab" />
<rect x="194.57" y="116.40" width="10.18" height="1.65" fill="#f1d8da" />
<rect x="194.57" y="118.00" width="10.18" height="1.65" fill="#f0d5d7" />
<rect x="194.57" y="119.60" width="10.18" height="1.65" fill="#efd3d5" />
<rect x="194.57" y="121.20" width="10.18" height="1.65" fill="#e8bcbe" />
<rect x="194.57" y="122.80" width="10.18" height="1.65" fill="#f3dfe1" />
<rect x="194.57" y="124.40" width="10.18" height="1.65" fill="#efd1d3" />
<rect x="194.57" y="126.00" width="10.18" height="1.65" fill="#f1d9db" />
<rect x="194.57" y="127.60" width="10.18" height="1.65" fill="#f5e5e7" />
<rect x="194.57" y="129.20" width="10.18" height="1.65" fill="#f0d6d8" />
<rect x="194.57" y="130.80" width="10.18" height="1.65" fill="#eac0c2" />
<rect x="194.57" y="132.40" width="10.18" height="1.65" fill="#f9f8fb" />
<rect x="194.57" y="134.00" width="10.18" height="1.65" fill="#f3dee0" />
<rect x="194.57" y="135.60" width="10.18" height="1.65" fill="#f3dcde" />
<rect x="194.57" y="137.20" width="10.18" height="1.65" fill="#f3dfe1" />
<rect x="194.57" y="138.80" width="10.18" height="1.65" fill="#f6e6e8" />
<rect x="194.57" y="140.40" width="10.18" height="1.65" fill="#f2dadc" />
<rect x="194.57" y="142.00" width="10.18" height="1.65" fill="#f4e0e2" />
<rect x="194.57" y="143.60" width="10.18" height="1.65" fill="#ebc3c5" />
<rect x="194.57" y="145.20" width="10.18" height="1.65" fill="#efd1d3" />
<rect x="194.57" y="146.80" width="10.18" height="1.65" fill="#edcbcd" />
<rect x="194.57" y="148.40" width="10.18" height="1.65" fill="#e8babc" />
<rect x="194.57" y="150.00" width="10.18" height="1.65" fill="#e6b6b8" />
<rect x="194.57" y="151.60" width="10.18" height="1.65" fill="#e3acae" />
<rect x="194.57" y="153.20" width="10.18" height="1.65" fill="#f2dbdd" />
<rect x="194.57" y="154.80" width="10.18" height="1.65" fill="#ecc8ca" />
<rect x="194.57" y="156.40" width="10.18" height="1.65" fill="#ecc9cb" />
<rect x="194.57" y="158.00" width="10.18" height="1.65" fill="#ecc9cb" />
<rect x="194.57" y="159.60" width="10.18" height="1.65" fill="#f4e2e4" />
<rect x="194.57" y="161.20" width="10.18" height="1.65" fill="#f2dcde" />
<rect x="194.57" y="162.80" width="10.18" height="1.65" fill="#eeced0" />
<rect x="194.57" y="164.40" width="10.18" height="1.65" fill="#e0a4a6" />
<rect x="194.57" y="166.00" width="10.18" height="1.65" fill="#f8eef0" />
<rect x="194.57" y="167.60" width="10.18" height="1.65" fill="#f5e4e6" />
<rect x="194.57" y="169.20" width="10.18" height="1.65" fill="#e6b5b7" />
<rect x="194.57" y="170.80" width="10.18" height="1.65" fill="#e9bfc1" />
<rect x="194.57" y="172.40" width="10.18" height="1.65" fill="#e6b5b7" />
<rect x="194.57" y="174.00" width="10.18" height="1.65" fill="#f0d5d7" />
<rect x="194.57" y="175.60" width="10.18" height="1.65" fill="#f5e3e5" />
<rect x="194.57" y="177.20" width="10.18" height="1.65" fill="#edcacc" />
<rect x="194.57" y="178.80" width="10.18" height="1.65" fill="#edcacc" />
<rect x="194.57" y="180.40" width="10.18" height="1.65" fill="#f0d5d7" />
<rect x="194.57" y="182.00" width="10.18" height="1.65" fill="#e5b3b5" />
<rect x="194.57" y="183.60" width="10.18" height="1.65" fill="#eeced0" />
<rect x="194.57" y="185.20" width="10.18" height="1.65" fill="#ebc6c8" />
<rect x="194.57" y="186.80" width="10.18" height="1.65" fill="#f9f2f4" />
<rect x="194.57" y="188.40" width="10.18" height="1.65" fill="#f4e1e3" />
<rect x="194.57" y="190.00" width="10.18" height="1.65" fill="#efd2d4" />
<rect x="194.57" y="191.60" width="10.18" height="1.65" fill="#efd2d4" />
<rect x="194.57" y="193.20" width="10.18" height="1.65" fill="#f7e9eb" />
<rect x="194.57" y="194.80" width="10.18" height="1.65" fill="#f2dbdd" />
<rect x="194.57" y="196.40" width="10.18" height="1.65" fill="#f3f1f7" />
<rect x="194.57" y="198.00" width="10.18" height="1.65" fill="#efd2d4" />
<rect x="194.57" y="199.60" width="10.18" height="1.65" fill="#ecc9cb" />
<rect x="194.57" y="201.20" width="10.18" height="1.65" fill="#f7ecee" />
<rect x="194.57" y="202.80" width="10.18" height="1.65" fill="#f7f5f9" />
<rect x="194.57" y="204.40" width="10.18" height="1.65" fill="#f5f4f8" />
<rect x="194.57" y="206.00" width="10.18" height="1.65" fill="#f1d7d9" />
<rect x="194.57" y="207.60" width="10.18" height="1.65" fill="#faf5f7" />
<rect x="194.57" y="209.20" width="10.18" height="1.65" fill="#f9f1f3" />
<rect x="194.57" y="210.80" width="10.18" height="1.65" fill="#f9f2f4" />
<rect x="194.57" y="212.40" width="10.18" height="1.65" fill="#fcfafc" />
<rect x="194.57" y="214.00" width="10.18" height="1.65" fill="#eecdcf" />
<rect x="194.57" y="215.60" width="10.18" height="1.65" fill="#f2dbdd" />
<rect x="194.57" y="217.20" width="10.18" height="1.65" fill="#f6e8ea" />
<rect x="194.57" y="218.80" width="10.18" height="1.65" fill="#f2f1f7" />
<rect x="194.57" y="220.40" width="10.18" height="1.65" fill="#faf3f5" />
<rect x="194.57" y="222.00" width="10.18" height="1.65" fill="#f5e2e4" />
<rect x="194.57" y="223.60" width="10.18" height="1.65" fill="#f9f7fb" />
<rect x="194.57" y="225.20" width="10.18" height="1.65" fill="#fcf9fb" />
<rect x="194.57" y="226.80" width="10.18" height="1.65" fill="#f9f0f2" />
<rect x="194.57" y="228.40" width="10.18" height="1.65" fill="#f9f0f2" />
<rect x="194.57" y="230.00" width="10.18" height="1.65" fill="#fbf8fa" />
<rect x="194.57" y="231.60" width="10.18" height="1.65" fill="#e3e3ef" />
<rect x="194.57" y="233.20" width="10.18" height="1.65" fill="#edecf4" />
<rect x="194.57" y="234.80" width="10.18" height="1.65" fill="#fbf7f9" />
<rect x="194.57" y="236.40" width="10.18" height="1.65" fill="#eae9f2" />
<rect x="194.57" y="238.00" width="10.18" height="1.65" fill="#e1e1ee" />
<rect x="194.57" y="239.60" width="10.18" height="1.65" fill="#f7f5f9" />
<rect x="194.57" y="241.20" width="10.18" height="1.65" fill="#edecf4" />
<rect x="194.57" y="242.80" width="10.18" height="1.65" fill="#f0eef5" />
<rect x="194.57" y="244.40" width="10.18" height="1.65" fill="#f9f0f2" />
<rect x="194.57" y="246.00" width="10.18" height="1.65" fill="#e6e5f0" />
<rect x="194.57" y="247.60" width="10.18" height="1.65" fill="#f4dfe1" />
<rect x="194.57" y="249.20" width="10.18" height="1.65" fill="#e8e7f2" />
<rect x="194.57" y="250.80" width="10.18" height="0.85" fill="#e9e8f2" />
<rect x="206.30" y="58.80" width="9.92" height="1.65" fill="#d5d5e7" />
<rect x="206.30" y="60.40" width="9.92" height="1.65" fill="#d9d9ea" />
<rect x="206.30" y="62.00" width="9.92" height="1.65" fill="#e9e8f2" />
<rect x="206.30" y="63.60" width="9.92" height="1.65" fill="#dbdbeb" />
<rect x="206.30" y="65.20" width="9.92" height="1.65" fill="#c4c5df" />
<rect x="206.30" y="66.80" width="9.92" height="1.65" fill="#dadaea" />
<rect x="206.30" y="68.40" width="9.92" height="1.65" fill="#f7f5f9" />
<rect x="206.30" y="70.00" width="9.92" height="1.65" fill="#f6f5f9" />
<rect x="206.30" y="71.60" width="9.92" height="1.65" fill="#f2d9db" />
<rect x="206.30" y="73.20" width="9.92" height="1.65" fill="#f9f7fa" />
<rect x="206.30" y="74.80" width="9.92" height="1.65" fill="#f6e6e8" />
<rect x="206.30" y="76.40" width="9.92" height="1.65" fill="#f8edef" />
<rect x="206.30" y="78.00" width="9.92" height="1.65" fill="#e4e4f0" />
<rect x="206.30" y="79.60" width="9.92" height="1.65" fill="#f6e6e8" />
<rect x="206.30" y="81.20" width="9.92" height="1.65" fill="#f8ecee" />
<rect x="206.30" y="82.80" width="9.92" height="1.65" fill="#f5e4e6" />
<rect x="206.30" y="84.40" width="9.92" height="1.65" fill="#ecebf4" />
<rect x="206.30" y="86.00" width="9.92" height="1.65" fill="#f5f3f8" />
<rect x="206.30" y="87.60" width="9.92" height="1.65" fill="#e7e6f1" />
<rect x="206.30" y="89.20" width="9.92" height="1.65" fill="#f2f1f7" />
<rect x="206.30" y="90.80" width="9.92" height="1.65" fill="#f5e3e5" />
<rect x="206.30" y="92.40" width="9.92" height="1.65" fill="#f5e4e6" />
<rect x="206.30" y="94.00" width="9.92" height="1.65" fill="#f7ebed" />
<rect x="206.30" y="95.60" width="9.92" height="1.65" fill="#f6f4f9" />
<rect x="206.30" y="97.20" width="9.92" height="1.65" fill="#f3dfe1" />
<rect x="206.30" y="98.80" width="9.92" height="1.65" fill="#f0eff6" />
<rect x="206.30" y="100.40" width="9.92" height="1.65" fill="#f4f2f8" />
<rect x="206.30" y="102.00" width="9.92" height="1.65" fill="#f0d3d5" />
<rect x="206.30" y="103.60" width="9.92" height="1.65" fill="#f4e1e3" />
<rect x="206.30" y="105.20" width="9.92" height="1.65" fill="#f9eff1" />
<rect x="206.30" y="106.80" width="9.92" height="1.65" fill="#e8e7f2" />
<rect x="206.30" y="108.40" width="9.92" height="1.65" fill="#f6e6e8" />
<rect x="206.30" y="110.00" width="9.92" height="1.65" fill="#f9f2f4" />
<rect x="206.30" y="111.60" width="9.92" height="1.65" fill="#faf8fb" />
<rect x="206.30" y="113.20" width="9.92" height="1.65" fill="#f6e7e9" />
<rect x="206.30" y="114.80" width="9.92" height="1.65" fill="#f4e0e2" />
<rect x="206.30" y="116.40" width="9.92" height="1.65" fill="#e3e3ef" />
<rect x="206.30" y="118.00" width="9.92" height="1.65" fill="#f7ecee" />
<rect x="206.30" y="119.60" width="9.92" height="1.65" fill="#f7ebed" />
<rect x="206.30" y="121.20" width="9.92" height="1.65" fill="#fcfafc" />
<rect x="206.30" y="122.80" width="9.92" height="1.65" fill="#f8eef0" />
<rect x="206.30" y="124.40" width="9.92" height="1.65" fill="#f5f3f8" />
<rect x="206.30" y="126.00" width="9.92" height="1.65" fill="#f2d9db" />
<rect x="206.30" y="127.60" width="9.92" height="1.65" fill="#fcfafc" />
<rect x="206.30" y="129.20" width="9.92" height="1.65" fill="#eecfd1" />
<rect x="206.30" y="130.80" width="9.92" height="1.65" fill="#f5e5e7" />
<rect x="206.30" y="132.40" width="9.92" height="1.65" fill="#f2f1f7" />
<rect x="206.30" y="134.00" width="9.92" height="1.65" fill="#f5e3e5" />
<rect x="206.30" y="135.60" width="9.92" height="1.65" fill="#fbf7f9" />
<rect x="206.30" y="137.20" width="9.92" height="1.65" fill="#f7f5f9" />
<rect x="206.30" y="138.80" width="9.92" height="1.65" fill="#f7ecee" />
<rect x="206.30" y="140.40" width="9.92" height="1.65" fill="#f8eff1" />
<rect x="206.30" y="142.00" width="9.92" height="1.65" fill="#ebeaf3" />
<rect x="206.30" y="143.60" width="9.92" height="1.65" fill="#f3dcde" />
<rect x="206.30" y="145.20" width="9.92" height="1.65" fill="#f3dddf" />
<rect x="206.30" y="146.80" width="9.92" height="1.65" fill="#f4e0e2" />
<rect x="206.30" y="148.40" width="9.92" height="1.65" fill="#eac2c4" />
<rect x="206.30" y="150.00" width="9.92" height="1.65" fill="#f8edef" />
<rect x="206.30" y="151.60" width="9.92" height="1.65" fill="#f2dbdd" />
<rect x="206.30" y="153.20" width="9.92" height="1.65" fill="#f3f1f7" />
<rect x="206.30" y="154.80" width="9.92" height="1.65" fill="#f3dddf" />
<rect x="206.30" y="156.40" width="9.92" height="1.65" fill="#e9e8f2" />
<rect x="206.30" y="158.00" width="9.92" height="1.65" fill="#f9f2f4" />
<rect x="206.30" y="159.60" width="9.92" height="1.65" fill="#f6f4f9" />
<rect x="206.30" y="161.20" width="9.92" height="1.65" fill="#f5f3f8" />
<rect x="206.30" y="162.80" width="9.92" height="1.65" fill="#f8f6fa" />
<rect x="206.30" y="164.40" width="9.92" height="1.65" fill="#f6e6e8" />
<rect x="206.30" y="166.00" width="9.92" height="1.65" fill="#e1e1ee" />
<rect x="206.30" y="167.60" width="9.92" height="1.65" fill="#cecfe4" />
<rect x="206.30" y="169.20" width="9.92" height="1.65" fill="#edecf4" />
<rect x="206.30" y="170.80" width="9.92" height="1.65" fill="#f4f2f8" />
<rect x="206.30" y="172.40" width="9.92" height="1.65" fill="#e5e4f0" />
<rect x="206.30" y="174.00" width="9.92" height="1.65" fill="#bebfdb" />
<rect x="206.30" y="175.60" width="9.92" height="1.65" fill="#c0c1dc" />
<rect x="206.30" y="177.20" width="9.92" height="1.65" fill="#eae9f3" />
<rect x="206.30" y="178.80" width="9.92" height="1.65" fill="#cfd0e5" />
<rect x="206.30" y="180.40" width="9.92" height="1.65" fill="#c4c5df" />
<rect x="206.30" y="182.00" width="9.92" height="1.65" fill="#f0eff6" />
<rect x="206.30" y="183.60" width="9.92" height="1.65" fill="#ebeaf3" />
<rect x="206.30" y="185.20" width="9.92" height="1.65" fill="#dedeec" />
<rect x="206.30" y="186.80" width="9.92" height="1.65" fill="#e2e1ee" />
<rect x="206.30" y="188.40" width="9.92" height="1.65" fill="#d2d3e6" />
<rect x="206.30" y="190.00" width="9.92" height="1.65" fill="#e2e1ee" />
<rect x="206.30" y="191.60" width="9.92" height="1.65" fill="#e5e5f0" />
<rect x="206.30" y="193.20" width="9.92" height="1.65" fill="#d0d1e5" />
<rect x="206.30" y="194.80" width="9.92" height="1.65" fill="#d7d7e8" />
<rect x="206.30" y="196.40" width="9.92" height="1.65" fill="#c2c3de" />
<rect x="206.30" y="198.00" width="9.92" height="1.65" fill="#e4e3ef" />
<rect x="206.30" y="199.60" width="9.92" height="1.65" fill="#d9d9ea" />
<rect x="206.30" y="201.20" width="9.92" height="1.65" fill="#e3e2ef" />
<rect x="206.30" y="202.80" width="9.92" height="1.65" fill="#b6b7d7" />
<rect x="206.30" y="204.40" width="9.92" height="1.65" fill="#d3d3e7" />
<rect x="206.30" y="206.00" width="9.92" height="1.65" fill="#e7e6f1" />
<rect x="206.30" y="207.60" width="9.92" height="1.65" fill="#c3c4de" />
<rect x="206.30" y="209.20" width="9.92" height="1.65" fill="#d9d8e9" />
<rect x="206.30" y="210.80" width="9.92" height="1.65" fill="#cfcfe4" />
<rect x="206.30" y="212.40" width="9.92" height="1.65" fill="#aeb0d3" />
<rect x="206.30" y="214.00" width="9.92" height="1.65" fill="#dcdceb" />
<rect x="206.30" y="215.60" width="9.92" height="1.65" fill="#ddddec" />
<rect x="206.30" y="217.20" width="9.92" height="1.65" fill="#e2e1ee" />
<rect x="206.30" y="218.80" width="9.92" height="1.65" fill="#c5c5df" />
<rect x="206.30" y="220.40" width="9.92" height="1.65" fill="#dddceb" />
<rect x="206.30" y="222.00" width="9.92" height="1.65" fill="#c7c8e0" />
<rect x="206.30" y="223.60" width="9.92" height="1.65" fill="#d6d6e8" />
<rect x="206.30" y="225.20" width="9.92" height="1.65" fill="#c5c6df" />
<rect x="206.30" y="226.80" width="9.92" height="1.65" fill="#d6d6e8" />
<rect x="206.30" y="228.40" width="9.92" height="1.65" fill="#e0dfed" />
<rect x="206.30" y="230.00" width="9.92" height="1.65" fill="#e0dfed" />
<rect x="206.30" y="231.60" width="9.92" height="1.65" fill="#b8bad9" />
<rect x="206.30" y="233.20" width="9.92" height="1.65" fill="#e6e6f1" />
<rect x="206.30" y="234.80" width="9.92" height="1.65" fill="#ecebf4" />
<rect x="206.30" y="236.40" width="9.92" height="1.65" fill="#cdcde3" />
<rect x="206.30" y="238.00" width="9.92" height="1.65" fill="#c6c7e0" />
<rect x="206.30" y="239.60" width="9.92" height="1.65" fill="#c8c9e1" />
<rect x="206.30" y="241.20" width="9.92" height="1.65" fill="#c6c7e0" />
<rect x="206.30" y="242.80" width="9.92" height="1.65" fill="#d5d5e7" />
<rect x="206.30" y="244.40" width="9.92" height="1.65" fill="#ebe9f3" />
<rect x="206.30" y="246.00" width="9.92" height="1.65" fill="#e9bec0" />
<rect x="206.30" y="247.60" width="9.92" height="1.65" fill="#efd0d2" />
<rect x="206.30" y="249.20" width="9.92" height="1.65" fill="#f2f1f7" />
<rect x="206.30" y="250.80" width="9.92" height="0.85" fill="#e9e8f2" />
<rect x="216.17" y="58.80" width="9.92" height="1.65" fill="#dbdbeb" />
<rect x="216.17" y="60.40" width="9.92" height="1.65" fill="#e9e8f2" />
<rect x="216.17" y="62.00" width="9.92" height="1.65" fill="#cfd0e4" />
<rect x="216.17" y="63.60" width="9.92" height="1.65" fill="#e4e3ef" />
<rect x="216.17" y="65.20" width="9.92" height="1.65" fill="#d8d8e9" />
<rect x="216.17" y="66.80" width="9.92" height="1.65" fill="#cecee4" />
<rect x="216.17" y="68.40" width="9.92" height="1.65" fill="#fbf6f8" />
<rect x="216.17" y="70.00" width="9.92" height="1.65" fill="#faf3f5" />
<rect x="216.17" y="71.60" width="9.92" height="1.65" fill="#f4e1e3" />
<rect x="216.17" y="73.20" width="9.92" height="1.65" fill="#f2d9db" />
<rect x="216.17" y="74.80" width="9.92" height="1.65" fill="#f9f2f4" />
<rect x="216.17" y="76.40" width="9.92" height="1.65" fill="#f6e8ea" />
<rect x="216.17" y="78.00" width="9.92" height="1.65" fill="#faf8fb" />
<rect x="216.17" y="79.60" width="9.92" height="1.65" fill="#faf3f5" />
<rect x="216.17" y="81.20" width="9.92" height="1.65" fill="#f2dbdd" />
<rect x="216.17" y="82.80" width="9.92" height="1.65" fill="#f8f7fa" />
<rect x="216.17" y="84.40" width="9.92" height="1.65" fill="#e3e2ef" />
<rect x="216.17" y="86.00" width="9.92" height="1.65" fill="#f7f5f9" />
<rect x="216.17" y="87.60" width="9.92" height="1.65" fill="#eeecf4" />
<rect x="216.17" y="89.20" width="9.92" height="1.65" fill="#fcf9fb" />
<rect x="216.17" y="90.80" width="9.92" height="1.65" fill="#f4f3f8" />
<rect x="216.17" y="92.40" width="9.92" height="1.65" fill="#f9f1f3" />
<rect x="216.17" y="94.00" width="9.92" height="1.65" fill="#fcfafc" />
<rect x="216.17" y="95.60" width="9.92" height="1.65" fill="#faf5f7" />
<rect x="216.17" y="97.20" width="9.92" height="1.65" fill="#f5f4f9" />
<rect x="216.17" y="98.80" width="9.92" height="1.65" fill="#f6e6e8" />
<rect x="216.17" y="100.40" width="9.92" height="1.65" fill="#faf8fb" />
<rect x="216.17" y="102.00" width="9.92" height="1.65" fill="#f2dbdd" />
<rect x="216.17" y="103.60" width="9.92" height="1.65" fill="#f7ebed" />
<rect x="216.17" y="105.20" width="9.92" height="1.65" fill="#f4e0e2" />
<rect x="216.17" y="106.80" width="9.92" height="1.65" fill="#efedf5" />
<rect x="216.17" y="108.40" width="9.92" height="1.65" fill="#e0dfed" />
<rect x="216.17" y="110.00" width="9.92" height="1.65" fill="#faf4f6" />
<rect x="216.17" y="111.60" width="9.92" height="1.65" fill="#f9f7fb" />
<rect x="216.17" y="113.20" width="9.92" height="1.65" fill="#f8edef" />
<rect x="216.17" y="114.80" width="9.92" height="1.65" fill="#f6e6e8" />
<rect x="216.17" y="116.40" width="9.92" height="1.65" fill="#eae9f3" />
<rect x="216.17" y="118.00" width="9.92" height="1.65" fill="#f3f1f7" />
<rect x="216.17" y="119.60" width="9.92" height="1.65" fill="#faf8fb" />
<rect x="216.17" y="121.20" width="9.92" height="1.65" fill="#f8edef" />
<rect x="216.17" y="122.80" width="9.92" height="1.65" fill="#faf3f5" />
<rect x="216.17" y="124.40" width="9.92" height="1.65" fill="#f8ecee" />
<rect x="216.17" y="126.00" width="9.92" height="1.65" fill="#faf3f5" />
<rect x="216.17" y="127.60" width="9.92" height="1.65" fill="#ecebf4" />
<rect x="216.17" y="129.20" width="9.92" height="1.65" fill="#f4e2e4" />
<rect x="216.17" y="130.80" width="9.92" height="1.65" fill="#f5e5e7" />
<rect x="216.17" y="132.40" width="9.92" height="1.65" fill="#f9f7fa" />
<rect x="216.17" y="134.00" width="9.92" height="1.65" fill="#f7ebed" />
<rect x="216.17" y="135.60" width="9.92" height="1.65" fill="#f1eff6" />
<rect x="216.17" y="137.20" width="9.92" height="1.65" fill="#f2f1f7" />
<rect x="216.17" y="138.80" width="9.92" height="1.65" fill="#f6e7e9" />
<rect x="216.17" y="140.40" width="9.92" height="1.65" fill="#f7e9eb" />
<rect x="216.17" y="142.00" width="9.92" height="1.65" fill="#faf5f7" />
<rect x="216.17" y="143.60" width="9.92" height="1.65" fill="#f1d8da" />
<rect x="216.17" y="145.20" width="9.92" height="1.65" fill="#f1d7d9" />
<rect x="216.17" y="146.80" width="9.92" height="1.65" fill="#f6e6e8" />
<rect x="216.17" y="148.40" width="9.92" height="1.65" fill="#f3dee0" />
<rect x="216.17" y="150.00" width="9.92" height="1.65" fill="#f3dee0" />
<rect x="216.17" y="151.60" width="9.92" height="1.65" fill="#f9f1f3" />
<rect x="216.17" y="153.20" width="9.92" height="1.65" fill="#f9f0f2" />
<rect x="216.17" y="154.80" width="9.92" height="1.65" fill="#fbf9fb" />
<rect x="216.17" y="156.40" width="9.92" height="1.65" fill="#f8eef0" />
<rect x="216.17" y="158.00" width="9.92" height="1.65" fill="#fbf7f9" />
<rect x="216.17" y="159.60" width="9.92" height="1.65" fill="#e1e1ee" />
<rect x="216.17" y="161.20" width="9.92" height="1.65" fill="#f9eff1" />
<rect x="216.17" y="162.80" width="9.92" height="1.65" fill="#faf3f5" />
<rect x="216.17" y="164.40" width="9.92" height="1.65" fill="#f4e1e3" />
<rect x="216.17" y="166.00" width="9.92" height="1.65" fill="#ddddec" />
<rect x="216.17" y="167.60" width="9.92" height="1.65" fill="#e3e3ef" />
<rect x="216.17" y="169.20" width="9.92" height="1.65" fill="#f9eff1" />
<rect x="216.17" y="170.80" width="9.92" height="1.65" fill="#f0eff6" />
<rect x="216.17" y="172.40" width="9.92" height="1.65" fill="#bfc0dc" />
<rect x="216.17" y="174.00" width="9.92" height="1.65" fill="#c1c2dd" />
<rect x="216.17" y="175.60" width="9.92" height="1.65" fill="#b1b3d5" />
<rect x="216.17" y="177.20" width="9.92" height="1.65" fill="#e0dfed" />
<rect x="216.17" y="178.80" width="9.92" height="1.65" fill="#cdcee4" />
<rect x="216.17" y="180.40" width="9.92" height="1.65" fill="#bfc0dc" />
<rect x="216.17" y="182.00" width="9.92" height="1.65" fill="#d7d7e9" />
<rect x="216.17" y="183.60" width="9.92" height="1.65" fill="#ecebf4" />
<rect x="216.17" y="185.20" width="9.92" height="1.65" fill="#c0c0dc" />
<rect x="216.17" y="186.80" width="9.92" height="1.65" fill="#ebeaf3" />
<rect x="216.17" y="188.40" width="9.92" height="1.65" fill="#cfd0e5" />
<rect x="216.17" y="190.00" width="9.92" height="1.65" fill="#d7d7e8" />
<rect x="216.17" y="191.60" width="9.92" height="1.65" fill="#e2e1ee" />
<rect x="216.17" y="193.20" width="9.92" height="1.65" fill="#dedeec" />
<rect x="216.17" y="194.80" width="9.92" height="1.65" fill="#cacbe2" />
<rect x="216.17" y="196.40" width="9.92" height="1.65" fill="#c8c8e0" />
<rect x="216.17" y="198.00" width="9.92" height="1.65" fill="#c9c9e1" />
<rect x="216.17" y="199.60" width="9.92" height="1.65" fill="#d1d1e5" />
<rect x="216.17" y="201.20" width="9.92" height="1.65" fill="#e5e4f0" />
<rect x="216.17" y="202.80" width="9.92" height="1.65" fill="#b4b6d6" />
<rect x="216.17" y="204.40" width="9.92" height="1.65" fill="#b7b9d8" />
<rect x="216.17" y="206.00" width="9.92" height="1.65" fill="#e1e0ee" />
<rect x="216.17" y="207.60" width="9.92" height="1.65" fill="#c7c7e0" />
<rect x="216.17" y="209.20" width="9.92" height="1.65" fill="#cfcfe4" />
<rect x="216.17" y="210.80" width="9.92" height="1.65" fill="#c6c6df" />
<rect x="216.17" y="212.40" width="9.92" height="1.65" fill="#bcbdda" />
<rect x="216.17" y="214.00" width="9.92" height="1.65" fill="#e8e7f2" />
<rect x="216.17" y="215.60" width="9.92" height="1.65" fill="#e1e0ee" />
<rect x="216.17" y="217.20" width="9.92" height="1.65" fill="#e6e5f0" />
<rect x="216.17" y="218.80" width="9.92" height="1.65" fill="#d2d2e6" />
<rect x="216.17" y="220.40" width="9.92" height="1.65" fill="#d3d3e6" />
<rect x="216.17" y="222.00" width="9.92" height="1.65" fill="#d2d3e6" />
<rect x="216.17" y="223.60" width="9.92" height="1.65" fill="#ecebf4" />
<rect x="216.17" y="225.20" width="9.92" height="1.65" fill="#bcbdda" />
<rect x="216.17" y="226.80" width="9.92" height="1.65" fill="#dddcec" />
<rect x="216.17" y="228.40" width="9.92" height="1.65" fill="#b9bad9" />
<rect x="216.17" y="230.00" width="9.92" height="1.65" fill="#dcdbeb" />
<rect x="216.17" y="231.60" width="9.92" height="1.65" fill="#bdbedb" />
<rect x="216.17" y="233.20" width="9.92" height="1.65" fill="#e2e1ee" />
<rect x="216.17" y="234.80" width="9.92" height="1.65" fill="#eae9f2" />
<rect x="216.17" y="236.40" width="9.92" height="1.65" fill="#bbbdda" />
<rect x="216.17" y="238.00" width="9.92" height="1.65" fill="#bebfdc" />
<rect x="216.17" y="239.60" width="9.92" height="1.65" fill="#d3d3e6" />
<rect x="216.17" y="241.20" width="9.92" height="1.65" fill="#dcdceb" />
<rect x="216.17" y="242.80" width="9.92" height="1.65" fill="#cecee4" />
<rect x="216.17" y="244.40" width="9.92" height="1.65" fill="#e7e6f1" />
<rect x="216.17" y="246.00" width="9.92" height="1.65" fill="#f6f4f9" />
<rect x="216.17" y="247.60" width="9.92" height="1.65" fill="#de9d9f" />
<rect x="216.17" y="249.20" width="9.92" height="1.65" fill="#ddddec" />
<rect x="216.17" y="250.80" width="9.92" height="0.85" fill="#e4e3ef" />
<rect x="226.03" y="58.80" width="9.92" height="1.65" fill="#c3c4de" />
<rect x="226.03" y="60.40" width="9.92" height="1.65" fill="#ebeaf3" />
<rect x="226.03" y="62.00" width="9.92" height="1.65" fill="#d3d3e6" />
<rect x="226.03" y="63.60" width="9.92" height="1.65" fill="#e9e8f2" />
<rect x="226.03" y="65.20" width="9.92" height="1.65" fill="#ddddec" />
<rect x="226.03" y="66.80" width="9.92" height="1.65" fill="#e1e0ee" />
<rect x="226.03" y="68.40" width="9.92" height="1.65" fill="#faf4f6" />
<rect x="226.03" y="70.00" width="9.92" height="1.65" fill="#efedf5" />
<rect x="226.03" y="71.60" width="9.92" height="1.65" fill="#f7ecee" />
<rect x="226.03" y="73.20" width="9.92" height="1.65" fill="#fbf6f8" />
<rect x="226.03" y="74.80" width="9.92" height="1.65" fill="#f9f7fb" />
<rect x="226.03" y="76.40" width="9.92" height="1.65" fill="#f8eff1" />
<rect x="226.03" y="78.00" width="9.92" height="1.65" fill="#f0eff6" />
<rect x="226.03" y="79.60" width="9.92" height="1.65" fill="#f0d4d6" />
<rect x="226.03" y="81.20" width="9.92" height="1.65" fill="#e3e2ef" />
<rect x="226.03" y="82.80" width="9.92" height="1.65" fill="#faf4f6" />
<rect x="226.03" y="84.40" width="9.92" height="1.65" fill="#e7e6f1" />
<rect x="226.03" y="86.00" width="9.92" height="1.65" fill="#ecebf3" />
<rect x="226.03" y="87.60" width="9.92" height="1.65" fill="#fbf7f9" />
<rect x="226.03" y="89.20" width="9.92" height="1.65" fill="#f9f2f4" />
<rect x="226.03" y="90.80" width="9.92" height="1.65" fill="#f8edef" />
<rect x="226.03" y="92.40" width="9.92" height="1.65" fill="#fbf8fa" />
<rect x="226.03" y="94.00" width="9.92" height="1.65" fill="#f5e4e6" />
<rect x="226.03" y="95.60" width="9.92" height="1.65" fill="#faf4f6" />
<rect x="226.03" y="97.20" width="9.92" height="1.65" fill="#f2f0f7" />
<rect x="226.03" y="98.80" width="9.92" height="1.65" fill="#f9f0f2" />
<rect x="226.03" y="100.40" width="9.92" height="1.65" fill="#edecf4" />
<rect x="226.03" y="102.00" width="9.92" height="1.65" fill="#f7ebed" />
<rect x="226.03" y="103.60" width="9.92" height="1.65" fill="#f6e8ea" />
<rect x="226.03" y="105.20" width="9.92" height="1.65" fill="#f4e1e3" />
<rect x="226.03" y="106.80" width="9.92" height="1.65" fill="#fbf6f8" />
<rect x="226.03" y="108.40" width="9.92" height="1.65" fill="#f3f1f7" />
<rect x="226.03" y="110.00" width="9.92" height="1.65" fill="#fbf7f9" />
<rect x="226.03" y="111.60" width="9.92" height="1.65" fill="#faf8fb" />
<rect x="226.03" y="113.20" width="9.92" height="1.65" fill="#f5e2e4" />
<rect x="226.03" y="114.80" width="9.92" height="1.65" fill="#f5e3e5" />
<rect x="226.03" y="116.40" width="9.92" height="1.65" fill="#f3dddf" />
<rect x="226.03" y="118.00" width="9.92" height="1.65" fill="#f7eaec" />
<rect x="226.03" y="119.60" width="9.92" height="1.65" fill="#f7f6fa" />
<rect x="226.03" y="121.20" width="9.92" height="1.65" fill="#f5e5e7" />
<rect x="226.03" y="122.80" width="9.92" height="1.65" fill="#f3f2f7" />
<rect x="226.03" y="124.40" width="9.92" height="1.65" fill="#f6e7e9" />
<rect x="226.03" y="126.00" width="9.92" height="1.65" fill="#eeced0" />
<rect x="226.03" y="127.60" width="9.92" height="1.65" fill="#fbf6f8" />
<rect x="226.03" y="129.20" width="9.92" height="1.65" fill="#efedf5" />
<rect x="226.03" y="130.80" width="9.92" height="1.65" fill="#f8edef" />
<rect x="226.03" y="132.40" width="9.92" height="1.65" fill="#e3e3ef" />
<rect x="226.03" y="134.00" width="9.92" height="1.65" fill="#f7eaec" />
<rect x="226.03" y="135.60" width="9.92" height="1.65" fill="#f8eef0" />
<rect x="226.03" y="137.20" width="9.92" height="1.65" fill="#faf3f5" />
<rect x="226.03" y="138.80" width="9.92" height="1.65" fill="#eecfd1" />
<rect x="226.03" y="140.40" width="9.92" height="1.65" fill="#fcf8fa" />
<rect x="226.03" y="142.00" width="9.92" height="1.65" fill="#eeedf5" />
<rect x="226.03" y="143.60" width="9.92" height="1.65" fill="#ecc7c9" />
<rect x="226.03" y="145.20" width="9.92" height="1.65" fill="#f4e0e2" />
<rect x="226.03" y="146.80" width="9.92" height="1.65" fill="#f7ebed" />
<rect x="226.03" y="148.40" width="9.92" height="1.65" fill="#fbf6f8" />
<rect x="226.03" y="150.00" width="9.92" height="1.65" fill="#faf8fb" />
<rect x="226.03" y="151.60" width="9.92" height="1.65" fill="#ecebf4" />
<rect x="226.03" y="153.20" width="9.92" height="1.65" fill="#faf8fb" />
<rect x="226.03" y="154.80" width="9.92" height="1.65" fill="#f6e6e8" />
<rect x="226.03" y="156.40" width="9.92" height="1.65" fill="#f7e9eb" />
<rect x="226.03" y="158.00" width="9.92" height="1.65" fill="#fbf7f9" />
<rect x="226.03" y="159.60" width="9.92" height="1.65" fill="#f0eef5" />
<rect x="226.03" y="161.20" width="9.92" height="1.65" fill="#f2f0f7" />
<rect x="226.03" y="162.80" width="9.92" height="1.65" fill="#f3dee0" />
<rect x="226.03" y="164.40" width="9.92" height="1.65" fill="#fcf8fa" />
<rect x="226.03" y="166.00" width="9.92" height="1.65" fill="#eceaf3" />
<rect x="226.03" y="167.60" width="9.92" height="1.65" fill="#e9e8f2" />
<rect x="226.03" y="169.20" width="9.92" height="1.65" fill="#fbf9fb" />
<rect x="226.03" y="170.80" width="9.92" height="1.65" fill="#f5f4f8" />
<rect x="226.03" y="172.40" width="9.92" height="1.65" fill="#f0eff6" />
<rect x="226.03" y="174.00" width="9.92" height="1.65" fill="#d7d7e9" />
<rect x="226.03" y="175.60" width="9.92" height="1.65" fill="#c0c1dc" />
<rect x="226.03" y="177.20" width="9.92" height="1.65" fill="#dcdceb" />
<rect x="226.03" y="178.80" width="9.92" height="1.65" fill="#d0d1e5" />
<rect x="226.03" y="180.40" width="9.92" height="1.65" fill="#bebfdb" />
<rect x="226.03" y="182.00" width="9.92" height="1.65" fill="#dfdeed" />
<rect x="226.03" y="183.60" width="9.92" height="1.65" fill="#dddceb" />
<rect x="226.03" y="185.20" width="9.92" height="1.65" fill="#d6d6e8" />
<rect x="226.03" y="186.80" width="9.92" height="1.65" fill="#e4e3ef" />
<rect x="226.03" y="188.40" width="9.92" height="1.65" fill="#e6e5f0" />
<rect x="226.03" y="190.00" width="9.92" height="1.65" fill="#dedeec" />
<rect x="226.03" y="191.60" width="9.92" height="1.65" fill="#e0dfed" />
<rect x="226.03" y="193.20" width="9.92" height="1.65" fill="#dbdbeb" />
<rect x="226.03" y="194.80" width="9.92" height="1.65" fill="#e1e0ee" />
<rect x="226.03" y="196.40" width="9.92" height="1.65" fill="#bdbfdb" />
<rect x="226.03" y="198.00" width="9.92" height="1.65" fill="#e3e2ef" />
<rect x="226.03" y="199.60" width="9.92" height="1.65" fill="#d7d7e9" />
<rect x="226.03" y="201.20" width="9.92" height="1.65" fill="#cdcee4" />
<rect x="226.03" y="202.80" width="9.92" height="1.65" fill="#c4c5df" />
<rect x="226.03" y="204.40" width="9.92" height="1.65" fill="#dadaea" />
<rect x="226.03" y="206.00" width="9.92" height="1.65" fill="#e3e2ef" />
<rect x="226.03" y="207.60" width="9.92" height="1.65" fill="#c0c1dd" />
<rect x="226.03" y="209.20" width="9.92" height="1.65" fill="#d3d3e6" />
<rect x="226.03" y="210.80" width="9.92" height="1.65" fill="#d8d8e9" />
<rect x="226.03" y="212.40" width="9.92" height="1.65" fill="#a8aad0" />
<rect x="226.03" y="214.00" width="9.92" height="1.65" fill="#ebeaf3" />
<rect x="226.03" y="215.60" width="9.92" height="1.65" fill="#dadaea" />
<rect x="226.03" y="217.20" width="9.92" height="1.65" fill="#c8c8e1" />
<rect x="226.03" y="218.80" width="9.92" height="1.65" fill="#c8c9e1" />
<rect x="226.03" y="220.40" width="9.92" height="1.65" fill="#e8e7f1" />
<rect x="226.03" y="222.00" width="9.92" height="1.65" fill="#babbd9" />
<rect x="226.03" y="223.60" width="9.92" height="1.65" fill="#f2f1f7" />
<rect x="226.03" y="225.20" width="9.92" height="1.65" fill="#d2d2e6" />
<rect x="226.03" y="226.80" width="9.92" height="1.65" fill="#e9e8f2" />
<rect x="226.03" y="228.40" width="9.92" height="1.65" fill="#d5d5e7" />
<rect x="226.03" y="230.00" width="9.92" height="1.65" fill="#d1d2e6" />
<rect x="226.03" y="231.60" width="9.92" height="1.65" fill="#bfc0dc" />
<rect x="226.03" y="233.20" width="9.92" height="1.65" fill="#dedeec" />
<rect x="226.03" y="234.80" width="9.92" height="1.65" fill="#dfdfed" />
<rect x="226.03" y="236.40" width="9.92" height="1.65" fill="#c1c2dd" />
<rect x="226.03" y="238.00" width="9.92" height="1.65" fill="#cecfe4" />
<rect x="226.03" y="239.60" width="9.92" height="1.65" fill="#c5c6df" />
<rect x="226.03" y="241.20" width="9.92" height="1.65" fill="#cecee4" />
<rect x="226.03" y="242.80" width="9.92" height="1.65" fill="#e0dfed" />
<rect x="226.03" y="244.40" width="9.92" height="1.65" fill="#ecebf3" />
<rect x="226.03" y="246.00" width="9.92" height="1.65" fill="#f8eef0" />
<rect x="226.03" y="247.60" width="9.92" height="1.65" fill="#eac2c4" />
<rect x="226.03" y="249.20" width="9.92" height="1.65" fill="#dbdbeb" />
<rect x="226.03" y="250.80" width="9.92" height="0.85" fill="#d8d8e9" />
</g>
<rect x="43.5" y="31.5" width="193.2" height="27.3" fill="#fff"/>
<rect x="43.5" y="31.5" width="193.2" height="220.1" fill="none" stroke="#000" stroke-width="1.9"/>
<line x1="43.50" y1="58.80" x2="236.70" y2="58.80" stroke="#000" stroke-width="1.9" />
<line x1="76.80" y1="31.50" x2="76.80" y2="251.60" stroke="#000" stroke-width="1.9" />
<line x1="111.20" y1="31.50" x2="111.20" y2="251.60" stroke="#000" stroke-width="1.9" />
<line x1="141.60" y1="31.50" x2="141.60" y2="251.60" stroke="#000" stroke-width="1.9" />
<line x1="173.50" y1="31.50" x2="173.50" y2="251.60" stroke="#000" stroke-width="1.9" />
<line x1="205.50" y1="31.50" x2="205.50" y2="251.60" stroke="#000" stroke-width="1.9" />
<text x="60.1" y="44.0" font-size="7.9" text-anchor="middle" font-style="italic" fill="#1a1a1a" >shNr3c1</text>
<text x="60.1" y="53.2" font-size="7.9" text-anchor="middle" font-style="italic" fill="#1a1a1a" >1</text>
<text x="94.0" y="44.0" font-size="7.9" text-anchor="middle" font-style="italic" fill="#1a1a1a" >shEsrrb</text>
<text x="94.0" y="53.2" font-size="7.9" text-anchor="middle" font-style="italic" fill="#1a1a1a" >1</text>
<text x="126.4" y="47.9" font-size="7.8" text-anchor="middle" >NS</text>
<text x="157.6" y="47.9" font-size="7.8" text-anchor="middle" >NS</text>
<text x="189.5" y="44.0" font-size="7.9" text-anchor="middle" font-style="italic" fill="#1a1a1a" >shEsrrb</text>
<text x="189.5" y="53.2" font-size="7.9" text-anchor="middle" font-style="italic" fill="#1a1a1a" >1</text>
<text x="221.1" y="44.0" font-size="7.9" text-anchor="middle" font-style="italic" fill="#1a1a1a" >shNr3c1</text>
<text x="221.1" y="53.2" font-size="7.9" text-anchor="middle" font-style="italic" fill="#1a1a1a" >1</text>
<defs><linearGradient id="cb" x1="0" y1="0" x2="0" y2="1"><stop offset="0" stop-color="#c8303c"/><stop offset="0.25" stop-color="#dc8a90"/><stop offset="0.5" stop-color="#ffffff"/><stop offset="0.75" stop-color="#9a9ccb"/><stop offset="1" stop-color="#3a4f9a"/></linearGradient></defs>
<rect x="241.80" y="184.20" width="5.00" height="68.30" fill="url(#cb)" />
<text x="252.1" y="188.0" font-size="8.6" >4</text>
<text x="252.1" y="204.4" font-size="8.6" >2</text>
<text x="252.1" y="220.4" font-size="8.6" >0</text>
<text x="252.1" y="237.3" font-size="8.6" >-2</text>
<text x="252.1" y="253.4" font-size="8.6" >-4</text>
<ellipse cx="316.6" cy="74.5" rx="43" ry="40.3" fill="#a30026"/>
<path d="M316.6,74.5 L316.6,34.2 A43,40.3 0 0 0 285.67,102.49 Z" fill="#2e4a7a"/>
<text x="321.3" y="128.2" font-size="9.4" text-anchor="middle" fill="#222" textLength="49.0" lengthAdjust="spacingAndGlyphs" >Total=100%</text>
<ellipse cx="316.7" cy="184.0" rx="43" ry="40.4" fill="#a30026"/>
<path d="M316.7,184.0 L316.7,143.6 A43,40.4 0 0 0 277.48,167.44 Z" fill="#2e4a7a"/>
<text x="319.6" y="238.8" font-size="9.4" text-anchor="middle" fill="#222" textLength="49.6" lengthAdjust="spacingAndGlyphs" >Total=100%</text>
<rect x="373.30" y="67.00" width="9.20" height="4.00" fill="#a30026" />
<text x="387.0" y="72.3" font-size="7.8" fill="#222" textLength="95.5" lengthAdjust="spacingAndGlyphs" >66.00% ESRRB Dependent</text>
<rect x="373.30" y="77.50" width="9.20" height="4.00" fill="#2e4a7a" />
<text x="387.0" y="82.8" font-size="7.8" fill="#222" textLength="101.0" lengthAdjust="spacingAndGlyphs" >34.00% ESRRB Independent</text>
<rect x="373.30" y="176.75" width="9.20" height="4.00" fill="#a30026" />
<text x="387.0" y="182.1" font-size="7.8" fill="#222" textLength="95.0" lengthAdjust="spacingAndGlyphs" >82.00% NR3C1 Dependent</text>
<rect x="373.30" y="187.50" width="9.20" height="4.00" fill="#2e4a7a" />
<text x="387.0" y="192.8" font-size="7.8" fill="#222" textLength="100.5" lengthAdjust="spacingAndGlyphs" >18.00% NR3C1 Independent</text>
<text x="10.8" y="302.5" font-size="16" font-weight="bold" fill="#000" >B</text>
<text x="157.7" y="294.5" font-size="7.8" text-anchor="middle" font-weight="bold" textLength="55.8" lengthAdjust="spacingAndGlyphs" >P value &lt; 0.001</text>
<text x="360.6" y="294.3" font-size="7.8" text-anchor="middle" font-weight="bold" textLength="56.5" lengthAdjust="spacingAndGlyphs" >P value &lt; 0.001</text>
<rect x="36.6" y="301.0" width="204.6" height="179.7" fill="none" stroke="#222" stroke-width="1.1"/>
<rect x="241.2" y="301.0" width="205.4" height="179.4" fill="none" stroke="#222" stroke-width="1.1"/>
<rect x="85.4" y="318.3" width="146.4" height="125.0" fill="#fff" stroke="#c8c8c8" stroke-width="0.7"/>
<line x1="118.10" y1="318.30" x2="118.10" y2="378.40" stroke="#ececec" stroke-width="0.6" />
<line x1="118.10" y1="403.00" x2="118.10" y2="443.30" stroke="#ececec" stroke-width="0.6" />
<line x1="150.80" y1="318.30" x2="150.80" y2="378.40" stroke="#ececec" stroke-width="0.6" />
<line x1="150.80" y1="403.00" x2="150.80" y2="443.30" stroke="#ececec" stroke-width="0.6" />
<line x1="183.50" y1="318.30" x2="183.50" y2="378.40" stroke="#ececec" stroke-width="0.6" />
<line x1="183.50" y1="403.00" x2="183.50" y2="443.30" stroke="#ececec" stroke-width="0.6" />
<line x1="216.20" y1="318.30" x2="216.20" y2="378.40" stroke="#ececec" stroke-width="0.6" />
<line x1="216.20" y1="403.00" x2="216.20" y2="443.30" stroke="#ececec" stroke-width="0.6" />
<line x1="85.40" y1="318.80" x2="231.80" y2="318.80" stroke="#efefef" stroke-width="0.5" />
<line x1="85.40" y1="325.25" x2="231.80" y2="325.25" stroke="#efefef" stroke-width="0.5" />
<line x1="85.40" y1="331.70" x2="231.80" y2="331.70" stroke="#efefef" stroke-width="0.5" />
<line x1="85.40" y1="338.15" x2="231.80" y2="338.15" stroke="#efefef" stroke-width="0.5" />
<line x1="85.40" y1="344.60" x2="231.80" y2="344.60" stroke="#efefef" stroke-width="0.5" />
<line x1="85.40" y1="351.05" x2="231.80" y2="351.05" stroke="#efefef" stroke-width="0.5" />
<line x1="85.40" y1="357.50" x2="231.80" y2="357.50" stroke="#efefef" stroke-width="0.5" />
<line x1="85.40" y1="363.95" x2="231.80" y2="363.95" stroke="#efefef" stroke-width="0.5" />
<line x1="85.40" y1="370.40" x2="231.80" y2="370.40" stroke="#efefef" stroke-width="0.5" />
<line x1="85.40" y1="376.85" x2="231.80" y2="376.85" stroke="#efefef" stroke-width="0.5" />
<line x1="85.40" y1="404.20" x2="231.80" y2="404.20" stroke="#efefef" stroke-width="0.5" />
<line x1="85.40" y1="409.37" x2="231.80" y2="409.37" stroke="#efefef" stroke-width="0.5" />
<line x1="85.40" y1="414.54" x2="231.80" y2="414.54" stroke="#efefef" stroke-width="0.5" />
<line x1="85.40" y1="419.71" x2="231.80" y2="419.71" stroke="#efefef" stroke-width="0.5" />
<line x1="85.40" y1="424.88" x2="231.80" y2="424.88" stroke="#efefef" stroke-width="0.5" />
<line x1="85.40" y1="430.05" x2="231.80" y2="430.05" stroke="#efefef" stroke-width="0.5" />
<line x1="85.40" y1="435.22" x2="231.80" y2="435.22" stroke="#efefef" stroke-width="0.5" />
<line x1="85.40" y1="440.39" x2="231.80" y2="440.39" stroke="#efefef" stroke-width="0.5" />
<line x1="85.40" y1="378.40" x2="231.80" y2="378.40" stroke="#c0c0c0" stroke-width="0.7" />
<line x1="85.40" y1="398.20" x2="231.80" y2="398.20" stroke="#c0c0c0" stroke-width="0.7" />
<text x="79.8" y="320.4" font-size="4.4" text-anchor="end" fill="#222" stroke="#222" stroke-width="0.12">0.0</text>
<text x="79.8" y="326.9" font-size="4.4" text-anchor="end" fill="#222" stroke="#222" stroke-width="0.12">-0.1</text>
<text x="79.8" y="333.3" font-size="4.4" text-anchor="end" fill="#222" stroke="#222" stroke-width="0.12">-0.2</text>
<text x="79.8" y="339.8" font-size="4.4" text-anchor="end" fill="#222" stroke="#222" stroke-width="0.12">-0.3</text>
<text x="79.8" y="346.2" font-size="4.4" text-anchor="end" fill="#222" stroke="#222" stroke-width="0.12">-0.4</text>
<text x="79.8" y="352.7" font-size="4.4" text-anchor="end" fill="#222" stroke="#222" stroke-width="0.12">-0.5</text>
<text x="79.8" y="359.1" font-size="4.4" text-anchor="end" fill="#222" stroke="#222" stroke-width="0.12">-0.6</text>
<text x="79.8" y="365.6" font-size="4.4" text-anchor="end" fill="#222" stroke="#222" stroke-width="0.12">-0.7</text>
<text x="79.8" y="372.0" font-size="4.4" text-anchor="end" fill="#222" stroke="#222" stroke-width="0.12">-0.8</text>
<text x="79.8" y="378.5" font-size="4.4" text-anchor="end" fill="#222" stroke="#222" stroke-width="0.12">-0.9</text>
<path d="M85.6,318.9 L100.0,325.7 L115.0,332.6 L130.0,338.9 L135.0,341.5 L150.0,348.1 L165.0,354.2 L180.0,360.2 L194.2,365.8 L203.0,370.5 L208.5,373.4 L212.5,374.6 L216.0,374.0 L218.5,371.6 L220.5,367.0 L222.0,360.5 L223.2,352.0 L224.1,340.5 L224.9,329.0 L225.6,319.0" fill="none" stroke="#74b746" stroke-width="1.3" stroke-linejoin="round"/>
<rect x="91.30" y="378.80" width="0.70" height="19.20" fill="#555" />
<rect x="143.30" y="378.80" width="0.60" height="19.20" fill="#555" />
<rect x="152.90" y="378.80" width="0.60" height="19.20" fill="#555" />
<rect x="174.10" y="378.80" width="0.60" height="19.20" fill="#555" />
<rect x="184.10" y="378.80" width="0.60" height="19.20" fill="#555" />
<rect x="197.00" y="378.80" width="0.60" height="19.20" fill="#555" />
<rect x="208.60" y="378.80" width="1.40" height="19.20" fill="#b8b8b8" />
<rect x="210.60" y="378.80" width="1.30" height="19.20" fill="#888" />
<rect x="212.40" y="378.80" width="0.80" height="19.20" fill="#555" />
<rect x="213.80" y="378.80" width="1.20" height="19.20" fill="#999" />
<rect x="215.30" y="378.80" width="1.20" height="19.20" fill="#444" />
<rect x="216.90" y="378.80" width="1.20" height="19.20" fill="#888" />
<rect x="218.10" y="378.80" width="6.90" height="19.20" fill="#0a0a0a" />
<rect x="85.40" y="398.20" width="21.60" height="4.80" fill="#d04652" />
<rect x="107.00" y="398.20" width="11.70" height="4.80" fill="#d56d7a" />
<rect x="118.70" y="398.20" width="16.80" height="4.80" fill="#e3a3b5" />
<rect x="135.50" y="398.20" width="21.00" height="4.80" fill="#f0cddb" />
<rect x="156.50" y="398.20" width="21.50" height="4.80" fill="#d9d8ec" />
<rect x="178.00" y="398.20" width="16.40" height="4.80" fill="#bcbbdc" />
<rect x="194.40" y="398.20" width="9.40" height="4.80" fill="#7475b5" />
<rect x="203.80" y="398.20" width="21.20" height="4.80" fill="#474a9c" />
<text x="80.4" y="406.0" font-size="5.0" text-anchor="end" fill="#222" stroke="#222" stroke-width="0.1">5.0</text>
<text x="80.4" y="411.2" font-size="5.0" text-anchor="end" fill="#222" stroke="#222" stroke-width="0.1">2.5</text>
<text x="80.4" y="416.3" font-size="5.0" text-anchor="end" fill="#222" stroke="#222" stroke-width="0.1">0.0</text>
<text x="80.4" y="421.5" font-size="5.0" text-anchor="end" fill="#222" stroke="#222" stroke-width="0.1">-2.5</text>
<text x="80.4" y="426.7" font-size="5.0" text-anchor="end" fill="#222" stroke="#222" stroke-width="0.1">-5.0</text>
<text x="80.4" y="431.9" font-size="5.0" text-anchor="end" fill="#222" stroke="#222" stroke-width="0.1">-7.5</text>
<text x="80.4" y="437.0" font-size="5.0" text-anchor="end" fill="#222" stroke="#222" stroke-width="0.1">-10.0</text>
<text x="80.4" y="442.2" font-size="5.0" text-anchor="end" fill="#222" stroke="#222" stroke-width="0.1">-12.5</text>
<path d="M85.7,412.5 C89.4,414.2 95.4,414.5 105.4,414.5 L222.0,414.5 C224.0,415.0 224.6,417.5 224.8,442.8" fill="none" stroke="#9a9a9a" stroke-width="0.8"/>
<path d="M222.0,414.5 Q224.7,414.5 224.7,417.5 L224.7,441.3 L223.3,441.3 L223.3,416.0 Z" fill="#c4c4c4"/>
<line x1="156.76" y1="403.00" x2="156.76" y2="443.30" stroke="#999" stroke-width="0.5" stroke-dasharray="1,1"/>
<text x="142.0" y="424.0" font-size="3.4" fill="#333" stroke="#333" stroke-width="0.05">Zero cross at 5456</text>
<text x="86.6" y="406.6" font-size="3.4" fill="#c0303a" textLength="49.0" lengthAdjust="spacingAndGlyphs" >'na_pos' (positively correlated)</text>
<text x="158.8" y="440.7" font-size="3.3" fill="#3040a0" textLength="52.0" lengthAdjust="spacingAndGlyphs" >'na_neg' (negatively correlated)</text>
<text x="85.4" y="452.9" font-size="4.9" text-anchor="middle" fill="#222" stroke="#222" stroke-width="0.1">0</text>
<text x="118.1" y="452.9" font-size="4.9" text-anchor="middle" fill="#222" stroke="#222" stroke-width="0.1">2,500</text>
<text x="150.8" y="452.9" font-size="4.9" text-anchor="middle" fill="#222" stroke="#222" stroke-width="0.1">5,000</text>
<text x="183.5" y="452.9" font-size="4.9" text-anchor="middle" fill="#222" stroke="#222" stroke-width="0.1">7,500</text>
<text x="216.2" y="452.9" font-size="4.9" text-anchor="middle" fill="#222" stroke="#222" stroke-width="0.1">10,000</text>
<text x="158.1" y="465.0" font-size="7.6" text-anchor="middle" font-weight="bold" textLength="58.2" lengthAdjust="spacingAndGlyphs" font-stretch="condensed">Rank in ordered dataset</text>
<text x="90.5" y="312.6" font-size="7.9" font-weight="bold" textLength="134.6" lengthAdjust="spacingAndGlyphs" >Enrichment plot:Dex-induced genes</text>
<text transform="translate(65.1,349.4) rotate(-90)" x="0" y="0" font-size="7" text-anchor="middle" fill="#1a1a1a" stroke="#1a1a1a" stroke-width="0.15" textLength="54.5" lengthAdjust="spacingAndGlyphs">Enrichment score (ES)</text>
<text transform="translate(52.6,421.2) rotate(-90)" x="0" y="0" font-size="7" text-anchor="middle" fill="#1a1a1a" stroke="#1a1a1a" stroke-width="0.15" textLength="44" lengthAdjust="spacingAndGlyphs">Ranked list metric</text>
<text transform="translate(62.2,421.2) rotate(-90)" x="0" y="0" font-size="7" text-anchor="middle" fill="#1a1a1a" stroke="#1a1a1a" stroke-width="0.15" textLength="30" lengthAdjust="spacingAndGlyphs">(PreRanked)</text>
<text x="175.4" y="345.5" font-size="7.6" font-weight="bold" font-style="italic" textLength="38.6" lengthAdjust="spacingAndGlyphs" >shNr3c1_1</text>
<line x1="90.10" y1="474.20" x2="95.30" y2="474.20" stroke="#8cc35a" stroke-width="1.2" />
<text x="100.3" y="475.7" font-size="4.3" fill="#333" textLength="36.2" lengthAdjust="spacingAndGlyphs" >Enrichment profile</text>
<line x1="141.00" y1="474.20" x2="146.60" y2="474.20" stroke="#111" stroke-width="1.2" />
<text x="151.3" y="475.7" font-size="4.3" fill="#333" textLength="7.7" lengthAdjust="spacingAndGlyphs" >Hits</text>
<line x1="163.40" y1="474.20" x2="168.40" y2="474.20" stroke="#bbb" stroke-width="0.6" />
<line x1="170.40" y1="474.20" x2="176.40" y2="474.20" stroke="#bbb" stroke-width="0.6" />
<text x="181.9" y="475.7" font-size="4.3" fill="#333" textLength="44.7" lengthAdjust="spacingAndGlyphs" >Ranking metric scores</text>
<text x="194.5" y="355.4" font-size="7.6" text-anchor="middle" font-weight="bold" textLength="21.4" lengthAdjust="spacingAndGlyphs" >+ Dex</text>
<rect x="287.6" y="318.3" width="148.2" height="125.0" fill="#fff" stroke="#c8c8c8" stroke-width="0.7"/>
<line x1="320.10" y1="318.30" x2="320.10" y2="378.40" stroke="#ececec" stroke-width="0.6" />
<line x1="320.10" y1="403.00" x2="320.10" y2="443.30" stroke="#ececec" stroke-width="0.6" />
<line x1="352.60" y1="318.30" x2="352.60" y2="378.40" stroke="#ececec" stroke-width="0.6" />
<line x1="352.60" y1="403.00" x2="352.60" y2="443.30" stroke="#ececec" stroke-width="0.6" />
<line x1="385.10" y1="318.30" x2="385.10" y2="378.40" stroke="#ececec" stroke-width="0.6" />
<line x1="385.10" y1="403.00" x2="385.10" y2="443.30" stroke="#ececec" stroke-width="0.6" />
<line x1="417.60" y1="318.30" x2="417.60" y2="378.40" stroke="#ececec" stroke-width="0.6" />
<line x1="417.60" y1="403.00" x2="417.60" y2="443.30" stroke="#ececec" stroke-width="0.6" />
<line x1="287.60" y1="321.40" x2="435.80" y2="321.40" stroke="#efefef" stroke-width="0.5" />
<line x1="287.60" y1="329.01" x2="435.80" y2="329.01" stroke="#efefef" stroke-width="0.5" />
<line x1="287.60" y1="336.62" x2="435.80" y2="336.62" stroke="#efefef" stroke-width="0.5" />
<line x1="287.60" y1="344.23" x2="435.80" y2="344.23" stroke="#efefef" stroke-width="0.5" />
<line x1="287.60" y1="351.84" x2="435.80" y2="351.84" stroke="#efefef" stroke-width="0.5" />
<line x1="287.60" y1="359.45" x2="435.80" y2="359.45" stroke="#efefef" stroke-width="0.5" />
<line x1="287.60" y1="367.06" x2="435.80" y2="367.06" stroke="#efefef" stroke-width="0.5" />
<line x1="287.60" y1="374.67" x2="435.80" y2="374.67" stroke="#efefef" stroke-width="0.5" />
<line x1="287.60" y1="407.70" x2="435.80" y2="407.70" stroke="#efefef" stroke-width="0.5" />
<line x1="287.60" y1="413.15" x2="435.80" y2="413.15" stroke="#efefef" stroke-width="0.5" />
<line x1="287.60" y1="418.60" x2="435.80" y2="418.60" stroke="#efefef" stroke-width="0.5" />
<line x1="287.60" y1="424.05" x2="435.80" y2="424.05" stroke="#efefef" stroke-width="0.5" />
<line x1="287.60" y1="429.50" x2="435.80" y2="429.50" stroke="#efefef" stroke-width="0.5" />
<line x1="287.60" y1="434.95" x2="435.80" y2="434.95" stroke="#efefef" stroke-width="0.5" />
<line x1="287.60" y1="440.40" x2="435.80" y2="440.40" stroke="#efefef" stroke-width="0.5" />
<line x1="287.60" y1="378.40" x2="435.80" y2="378.40" stroke="#c0c0c0" stroke-width="0.7" />
<line x1="287.60" y1="398.20" x2="435.80" y2="398.20" stroke="#c0c0c0" stroke-width="0.7" />
<text x="282.0" y="323.0" font-size="4.4" text-anchor="end" fill="#222" stroke="#222" stroke-width="0.12">0.0</text>
<text x="282.0" y="330.6" font-size="4.4" text-anchor="end" fill="#222" stroke="#222" stroke-width="0.12">-0.1</text>
<text x="282.0" y="338.2" font-size="4.4" text-anchor="end" fill="#222" stroke="#222" stroke-width="0.12">-0.2</text>
<text x="282.0" y="345.8" font-size="4.4" text-anchor="end" fill="#222" stroke="#222" stroke-width="0.12">-0.3</text>
<text x="282.0" y="353.4" font-size="4.4" text-anchor="end" fill="#222" stroke="#222" stroke-width="0.12">-0.4</text>
<text x="282.0" y="361.1" font-size="4.4" text-anchor="end" fill="#222" stroke="#222" stroke-width="0.12">-0.5</text>
<text x="282.0" y="368.7" font-size="4.4" text-anchor="end" fill="#222" stroke="#222" stroke-width="0.12">-0.6</text>
<text x="282.0" y="376.3" font-size="4.4" text-anchor="end" fill="#222" stroke="#222" stroke-width="0.12">-0.7</text>
<path d="M287.6,321.4 L294.0,325.0 L301.4,329.1 L308.0,331.3 L315.0,335.2 L323.5,340.8 L335.0,346.0 L350.0,351.9 L363.1,358.5 L375.0,362.5 L386.2,366.5 L395.0,370.2 L402.3,373.5 L408.0,374.6 L413.9,375.1 L417.0,373.3 L419.6,370.0 L421.8,367.5 L423.5,363.1 L425.0,357.0 L426.5,349.2 L427.5,338.0 L428.2,329.0 L428.8,321.5" fill="none" stroke="#74b746" stroke-width="1.3" stroke-linejoin="round"/>
<rect x="302.30" y="378.80" width="5.80" height="19.20" fill="#cfcfcf" />
<rect x="302.50" y="378.80" width="0.60" height="19.20" fill="#999" />
<rect x="304.80" y="378.80" width="0.60" height="19.20" fill="#999" />
<rect x="307.20" y="378.80" width="0.60" height="19.20" fill="#999" />
<rect x="313.00" y="378.80" width="0.60" height="19.20" fill="#777" />
<rect x="332.40" y="378.80" width="0.60" height="19.20" fill="#777" />
<rect x="341.10" y="378.80" width="0.60" height="19.20" fill="#888" />
<rect x="344.00" y="378.80" width="0.60" height="19.20" fill="#888" />
<rect x="348.30" y="378.80" width="0.60" height="19.20" fill="#888" />
<rect x="353.30" y="378.80" width="0.60" height="19.20" fill="#888" />
<rect x="356.90" y="378.80" width="0.60" height="19.20" fill="#888" />
<rect x="363.40" y="378.80" width="0.80" height="19.20" fill="#999" />
<rect x="365.80" y="378.80" width="6.10" height="19.20" fill="#c0c0c0" />
<rect x="366.50" y="378.80" width="0.60" height="19.20" fill="#888" />
<rect x="368.60" y="378.80" width="0.60" height="19.20" fill="#888" />
<rect x="370.80" y="378.80" width="0.60" height="19.20" fill="#888" />
<rect x="373.30" y="378.80" width="0.60" height="19.20" fill="#888" />
<rect x="376.30" y="378.80" width="0.60" height="19.20" fill="#888" />
<rect x="380.40" y="378.80" width="3.10" height="19.20" fill="#b0b0b0" />
<rect x="381.00" y="378.80" width="0.60" height="19.20" fill="#777" />
<rect x="382.80" y="378.80" width="0.60" height="19.20" fill="#777" />
<rect x="392.60" y="378.80" width="0.60" height="19.20" fill="#888" />
<rect x="395.70" y="378.80" width="0.60" height="19.20" fill="#888" />
<rect x="398.80" y="378.80" width="2.40" height="19.20" fill="#a0a0a0" />
<rect x="402.70" y="378.80" width="11.50" height="19.20" fill="#b4b4b4" />
<rect x="404.50" y="378.80" width="0.70" height="19.20" fill="#777" />
<rect x="406.80" y="378.80" width="0.70" height="19.20" fill="#777" />
<rect x="409.30" y="378.80" width="0.70" height="19.20" fill="#777" />
<rect x="411.50" y="378.80" width="0.80" height="19.20" fill="#666" />
<rect x="414.20" y="378.80" width="3.90" height="19.20" fill="#1a1a1a" />
<rect x="418.10" y="378.80" width="4.60" height="19.20" fill="#6a6a6a" />
<rect x="423.50" y="378.80" width="5.00" height="19.20" fill="#0a0a0a" />
<rect x="287.40" y="398.20" width="22.10" height="4.80" fill="#d04a55" />
<rect x="309.50" y="398.20" width="10.90" height="4.80" fill="#d86a78" />
<rect x="320.40" y="398.20" width="15.80" height="4.80" fill="#dc7a84" />
<rect x="336.20" y="398.20" width="19.50" height="4.80" fill="#e8b8d0" />
<rect x="355.70" y="398.20" width="18.70" height="4.80" fill="#d8d8ec" />
<rect x="374.40" y="398.20" width="19.10" height="4.80" fill="#c4c4e2" />
<rect x="393.50" y="398.20" width="9.20" height="4.80" fill="#6a6cb0" />
<rect x="402.70" y="398.20" width="25.80" height="4.80" fill="#474a9c" />
<text x="282.6" y="409.5" font-size="5.0" text-anchor="end" fill="#222" stroke="#222" stroke-width="0.1">7.5</text>
<text x="282.6" y="414.9" font-size="5.0" text-anchor="end" fill="#222" stroke="#222" stroke-width="0.1">5.0</text>
<text x="282.6" y="420.4" font-size="5.0" text-anchor="end" fill="#222" stroke="#222" stroke-width="0.1">2.5</text>
<text x="282.6" y="425.9" font-size="5.0" text-anchor="end" fill="#222" stroke="#222" stroke-width="0.1">0.0</text>
<text x="282.6" y="431.3" font-size="5.0" text-anchor="end" fill="#222" stroke="#222" stroke-width="0.1">-2.5</text>
<text x="282.6" y="436.8" font-size="5.0" text-anchor="end" fill="#222" stroke="#222" stroke-width="0.1">-5.0</text>
<text x="282.6" y="442.2" font-size="5.0" text-anchor="end" fill="#222" stroke="#222" stroke-width="0.1">-7.5</text>
<path d="M287.9,422.0 C291.6,423.7 297.6,424.0 307.6,424.0 L425.5,424.0 C427.5,424.5 428.1,427.0 428.3,442.8" fill="none" stroke="#9a9a9a" stroke-width="0.8"/>
<path d="M425.5,424.0 Q428.2,424.0 428.2,427.0 L428.2,441.3 L426.8,441.3 L426.8,425.5 Z" fill="#c4c4c4"/>
<line x1="356.02" y1="403.00" x2="356.02" y2="443.30" stroke="#999" stroke-width="0.5" stroke-dasharray="1,1"/>
<text x="341.5" y="423.4" font-size="3.4" fill="#333" stroke="#333" stroke-width="0.05">Zero cross at 5263</text>
<text x="288.8" y="406.6" font-size="3.4" fill="#c0303a" textLength="49.0" lengthAdjust="spacingAndGlyphs" >'na_pos' (positively correlated)</text>
<text x="361.2" y="440.7" font-size="3.3" fill="#3040a0" textLength="52.0" lengthAdjust="spacingAndGlyphs" >'na_neg' (negatively correlated)</text>
<text x="287.6" y="452.9" font-size="4.9" text-anchor="middle" fill="#222" stroke="#222" stroke-width="0.1">0</text>
<text x="320.1" y="452.9" font-size="4.9" text-anchor="middle" fill="#222" stroke="#222" stroke-width="0.1">2,500</text>
<text x="352.6" y="452.9" font-size="4.9" text-anchor="middle" fill="#222" stroke="#222" stroke-width="0.1">5,000</text>
<text x="385.1" y="452.9" font-size="4.9" text-anchor="middle" fill="#222" stroke="#222" stroke-width="0.1">7,500</text>
<text x="417.6" y="452.9" font-size="4.9" text-anchor="middle" fill="#222" stroke="#222" stroke-width="0.1">10,000</text>
<text x="361.2" y="465.0" font-size="7.6" text-anchor="middle" font-weight="bold" textLength="58.2" lengthAdjust="spacingAndGlyphs" font-stretch="condensed">Rank in ordered dataset</text>
<text x="294.3" y="312.6" font-size="7.9" font-weight="bold" textLength="134.0" lengthAdjust="spacingAndGlyphs" >Enrichment plot:Dex-induced genes</text>
<text transform="translate(267.1,349.4) rotate(-90)" x="0" y="0" font-size="7" text-anchor="middle" fill="#1a1a1a" stroke="#1a1a1a" stroke-width="0.15" textLength="54.5" lengthAdjust="spacingAndGlyphs">Enrichment score (ES)</text>
<text transform="translate(258.6,421.2) rotate(-90)" x="0" y="0" font-size="7" text-anchor="middle" fill="#1a1a1a" stroke="#1a1a1a" stroke-width="0.15" textLength="44" lengthAdjust="spacingAndGlyphs">Ranked list metric</text>
<text transform="translate(268.0,421.2) rotate(-90)" x="0" y="0" font-size="7" text-anchor="middle" fill="#1a1a1a" stroke="#1a1a1a" stroke-width="0.15" textLength="30" lengthAdjust="spacingAndGlyphs">(PreRanked)</text>
<text x="373.5" y="345.5" font-size="7.6" font-weight="bold" font-style="italic" textLength="36.9" lengthAdjust="spacingAndGlyphs" >shEsrrb_1</text>
<line x1="292.30" y1="474.20" x2="297.50" y2="474.20" stroke="#8cc35a" stroke-width="1.2" />
<text x="302.5" y="475.7" font-size="4.3" fill="#333" textLength="36.2" lengthAdjust="spacingAndGlyphs" >Enrichment profile</text>
<line x1="343.20" y1="474.20" x2="348.80" y2="474.20" stroke="#111" stroke-width="1.2" />
<text x="353.5" y="475.7" font-size="4.3" fill="#333" textLength="7.7" lengthAdjust="spacingAndGlyphs" >Hits</text>
<line x1="365.60" y1="474.20" x2="370.60" y2="474.20" stroke="#bbb" stroke-width="0.6" />
<line x1="372.60" y1="474.20" x2="378.60" y2="474.20" stroke="#bbb" stroke-width="0.6" />
<text x="384.1" y="475.7" font-size="4.3" fill="#333" textLength="44.7" lengthAdjust="spacingAndGlyphs" >Ranking metric scores</text>
<text x="392.1" y="355.7" font-size="7.6" text-anchor="middle" font-weight="bold" textLength="21.3" lengthAdjust="spacingAndGlyphs" >+ Dex</text>
<text x="163.5" y="502.9" font-size="9.1" text-anchor="middle" fill="#222" textLength="65.4" lengthAdjust="spacingAndGlyphs" >LFC Distribution</text>
<rect x="81.40" y="579.41" width="3.25" height="0.99" fill="#2a4486" />
<rect x="130.70" y="579.57" width="3.25" height="0.82" fill="#2a4486" />
<rect x="133.60" y="577.43" width="3.25" height="2.97" fill="#2a4486" />
<rect x="133.60" y="579.74" width="3.25" height="0.66" fill="#6aa842" />
<rect x="136.50" y="566.04" width="3.25" height="14.35" fill="#2a4486" />
<rect x="136.50" y="579.08" width="3.25" height="1.32" fill="#6aa842" />
<rect x="139.40" y="545.75" width="3.25" height="34.65" fill="#2a4486" />
<rect x="139.40" y="564.73" width="3.25" height="15.67" fill="#6aa842" />
<rect x="142.30" y="511.10" width="3.25" height="69.30" fill="#2a4486" />
<rect x="142.30" y="539.15" width="3.25" height="41.25" fill="#6aa842" />
<rect x="145.20" y="509.45" width="3.25" height="70.95" fill="#2a4486" />
<rect x="145.20" y="521.66" width="3.25" height="58.74" fill="#6aa842" />
<rect x="148.10" y="521.33" width="3.25" height="59.07" fill="#a60025" />
<rect x="148.10" y="530.90" width="3.25" height="49.50" fill="#c8dea8" />
<rect x="148.10" y="550.70" width="3.25" height="29.70" fill="#6aa842" />
<rect x="151.00" y="519.68" width="3.25" height="60.72" fill="#a60025" />
<rect x="151.00" y="536.35" width="3.25" height="44.05" fill="#c8dea8" />
<rect x="151.00" y="555.98" width="3.25" height="24.42" fill="#6aa842" />
<rect x="153.90" y="529.58" width="3.25" height="50.82" fill="#a60025" />
<rect x="153.90" y="557.96" width="3.25" height="22.44" fill="#c8dea8" />
<rect x="153.90" y="574.46" width="3.25" height="5.94" fill="#6aa842" />
<rect x="156.80" y="554.50" width="3.25" height="25.90" fill="#a60025" />
<rect x="156.80" y="569.84" width="3.25" height="10.56" fill="#c8dea8" />
<rect x="156.80" y="574.46" width="3.25" height="5.94" fill="#6aa842" />
<rect x="159.70" y="557.96" width="3.25" height="22.44" fill="#a60025" />
<rect x="159.70" y="577.10" width="3.25" height="3.30" fill="#c8dea8" />
<rect x="159.70" y="578.75" width="3.25" height="1.65" fill="#6aa842" />
<rect x="162.60" y="565.88" width="3.25" height="14.52" fill="#a60025" />
<rect x="162.60" y="570.50" width="3.25" height="9.90" fill="#c8dea8" />
<rect x="162.60" y="578.75" width="3.25" height="1.65" fill="#6aa842" />
<rect x="165.50" y="567.53" width="3.25" height="12.87" fill="#a60025" />
<rect x="165.50" y="574.46" width="3.25" height="5.94" fill="#c8dea8" />
<rect x="165.50" y="578.75" width="3.25" height="1.65" fill="#6aa842" />
<rect x="168.40" y="578.42" width="3.25" height="1.98" fill="#c8dea8" />
<rect x="168.40" y="577.10" width="3.25" height="3.30" fill="#6aa842" />
<rect x="171.30" y="570.83" width="3.25" height="9.57" fill="#a60025" />
<rect x="171.30" y="576.44" width="3.25" height="3.96" fill="#6aa842" />
<rect x="174.20" y="579.08" width="3.25" height="1.32" fill="#6aa842" />
<rect x="177.10" y="575.62" width="3.25" height="4.78" fill="#2a4486" />
<rect x="177.10" y="579.41" width="3.25" height="0.99" fill="#6aa842" />
<rect x="180.00" y="579.74" width="3.25" height="0.66" fill="#6aa842" />
<rect x="182.90" y="578.91" width="3.25" height="1.48" fill="#a60025" />
<rect x="182.90" y="577.92" width="3.25" height="2.47" fill="#2a4486" />
<rect x="185.80" y="577.92" width="3.25" height="2.47" fill="#a60025" />
<rect x="185.80" y="579.08" width="3.25" height="1.32" fill="#2a4486" />
<rect x="185.80" y="579.57" width="3.25" height="0.82" fill="#6aa842" />
<rect x="188.70" y="577.92" width="3.25" height="2.47" fill="#a60025" />
<rect x="188.70" y="579.25" width="3.25" height="1.15" fill="#6aa842" />
<rect x="191.60" y="578.91" width="3.25" height="1.48" fill="#a60025" />
<rect x="191.60" y="578.25" width="3.25" height="2.15" fill="#2a4486" />
<rect x="191.60" y="579.25" width="3.25" height="1.15" fill="#c8dea8" />
<rect x="194.50" y="579.41" width="3.25" height="0.99" fill="#c8dea8" />
<rect x="197.40" y="579.74" width="3.25" height="0.66" fill="#6aa842" />
<rect x="200.30" y="579.57" width="3.25" height="0.82" fill="#6aa842" />
<rect x="203.20" y="578.91" width="3.25" height="1.48" fill="#a60025" />
<rect x="206.10" y="578.91" width="3.25" height="1.48" fill="#a60025" />
<rect x="209.00" y="579.08" width="3.25" height="1.32" fill="#a60025" />
<rect x="214.80" y="579.08" width="3.25" height="1.32" fill="#a60025" />
<rect x="220.60" y="579.08" width="3.25" height="1.32" fill="#a60025" />
<rect x="223.50" y="579.08" width="3.25" height="1.32" fill="#a60025" />
<line x1="75.20" y1="509.20" x2="75.20" y2="581.10" stroke="#111" stroke-width="1.4" />
<line x1="74.50" y1="580.40" x2="240.70" y2="580.40" stroke="#111" stroke-width="1.4" />
<line x1="70.50" y1="580.40" x2="75.20" y2="580.40" stroke="#111" stroke-width="1.2" />
<text x="65.8" y="583.6" font-size="9.2" text-anchor="end" fill="#222" >0</text>
<line x1="70.50" y1="563.90" x2="75.20" y2="563.90" stroke="#111" stroke-width="1.2" />
<text x="65.8" y="567.1" font-size="9.2" text-anchor="end" fill="#222" >10</text>
<line x1="70.50" y1="547.40" x2="75.20" y2="547.40" stroke="#111" stroke-width="1.2" />
<text x="65.8" y="550.6" font-size="9.2" text-anchor="end" fill="#222" >20</text>
<line x1="70.50" y1="530.90" x2="75.20" y2="530.90" stroke="#111" stroke-width="1.2" />
<text x="65.8" y="534.1" font-size="9.2" text-anchor="end" fill="#222" >30</text>
<line x1="70.50" y1="514.40" x2="75.20" y2="514.40" stroke="#111" stroke-width="1.2" />
<text x="65.8" y="517.6" font-size="9.2" text-anchor="end" fill="#222" >40</text>
<line x1="90.90" y1="580.40" x2="90.90" y2="584.50" stroke="#111" stroke-width="1.1" />
<text x="90.9" y="598.4" font-size="8.9" text-anchor="middle" fill="#222" >-5</text>
<line x1="139.40" y1="580.40" x2="139.40" y2="584.50" stroke="#111" stroke-width="1.1" />
<text x="139.4" y="598.4" font-size="8.9" text-anchor="middle" fill="#222" >0</text>
<line x1="187.90" y1="580.40" x2="187.90" y2="584.50" stroke="#111" stroke-width="1.1" />
<text x="187.9" y="598.4" font-size="8.9" text-anchor="middle" fill="#222" >5</text>
<line x1="236.40" y1="580.40" x2="236.40" y2="584.50" stroke="#111" stroke-width="1.1" />
<text x="236.4" y="598.4" font-size="8.9" text-anchor="middle" fill="#222" >10</text>
<text x="157.8" y="614.6" font-size="12" text-anchor="middle" textLength="61.7" lengthAdjust="spacingAndGlyphs" stroke="#111" stroke-width="0.2">Log fold change</text>
<text transform="translate(47.8,544.8) rotate(-90)" x="0" y="0" font-size="12" text-anchor="middle" fill="#111" stroke="#111" stroke-width="0.2" textLength="65.5" lengthAdjust="spacingAndGlyphs">Number of genes</text>
<rect x="254.30" y="534.50" width="5.20" height="4.30" fill="#a60025" />
<text x="263.8" y="539.4" font-size="7.7" fill="#222" textLength="69.8" lengthAdjust="spacingAndGlyphs" >NS +dex vs NS -dex</text>
<rect x="254.30" y="541.40" width="5.20" height="4.30" fill="#2a4486" />
<text x="263.8" y="546.3" font-size="7.7" fill="#222" textLength="115.4" lengthAdjust="spacingAndGlyphs" >Nr3c1 KD +dex vs Nr3c1 KD -dex</text>
<rect x="254.30" y="551.80" width="5.20" height="4.30" fill="#6aa842" />
<text x="263.8" y="556.7" font-size="7.7" fill="#222" textLength="108.8" lengthAdjust="spacingAndGlyphs" >Esrrb KD +dex vs Esrrb KD -dex</text>
<text x="10.0" y="656.0" font-size="17" font-weight="bold" fill="#000" >C</text>
<rect x="73.10" y="726.72" width="8.00" height="20.18" fill="#2c4a85" />
<line x1="77.10" y1="727.22" x2="77.10" y2="725.89" stroke="#222" stroke-width="1.2" />
<line x1="75.10" y1="725.89" x2="79.10" y2="725.89" stroke="#222" stroke-width="1.2" />
<rect x="85.60" y="688.24" width="8.00" height="58.66" fill="#a50027" />
<line x1="89.60" y1="688.74" x2="89.60" y2="682.42" stroke="#222" stroke-width="1.2" />
<line x1="87.60" y1="682.42" x2="91.60" y2="682.42" stroke="#222" stroke-width="1.2" />
<rect x="105.40" y="730.26" width="8.00" height="16.64" fill="#2c4a85" />
<line x1="109.40" y1="730.76" x2="109.40" y2="727.56" stroke="#222" stroke-width="1.2" />
<line x1="107.40" y1="727.56" x2="111.40" y2="727.56" stroke="#222" stroke-width="1.2" />
<rect x="117.90" y="718.40" width="8.00" height="28.50" fill="#a50027" />
<line x1="121.90" y1="718.90" x2="121.90" y2="715.28" stroke="#222" stroke-width="1.2" />
<line x1="119.90" y1="715.28" x2="123.90" y2="715.28" stroke="#222" stroke-width="1.2" />
<rect x="137.60" y="725.48" width="8.00" height="21.42" fill="#2c4a85" />
<line x1="141.60" y1="725.98" x2="141.60" y2="723.40" stroke="#222" stroke-width="1.2" />
<line x1="139.60" y1="723.40" x2="143.60" y2="723.40" stroke="#222" stroke-width="1.2" />
<rect x="150.10" y="707.80" width="8.00" height="39.10" fill="#a50027" />
<line x1="154.10" y1="708.30" x2="154.10" y2="705.09" stroke="#222" stroke-width="1.2" />
<line x1="152.10" y1="705.09" x2="156.10" y2="705.09" stroke="#222" stroke-width="1.2" />
<line x1="69.30" y1="659.50" x2="69.30" y2="747.60" stroke="#111" stroke-width="1.4" />
<line x1="68.60" y1="746.90" x2="162.60" y2="746.90" stroke="#111" stroke-width="1.4" />
<line x1="65.30" y1="746.90" x2="69.30" y2="746.90" stroke="#111" stroke-width="1.2" />
<text x="60.1" y="749.9" font-size="8.6" text-anchor="end" fill="#222" >0</text>
<line x1="65.30" y1="726.10" x2="69.30" y2="726.10" stroke="#111" stroke-width="1.2" />
<text x="60.1" y="729.1" font-size="8.6" text-anchor="end" fill="#222" >1</text>
<line x1="65.30" y1="705.30" x2="69.30" y2="705.30" stroke="#111" stroke-width="1.2" />
<text x="60.1" y="708.3" font-size="8.6" text-anchor="end" fill="#222" >2</text>
<line x1="65.30" y1="684.50" x2="69.30" y2="684.50" stroke="#111" stroke-width="1.2" />
<text x="60.1" y="687.5" font-size="8.6" text-anchor="end" fill="#222" >3</text>
<line x1="65.30" y1="663.70" x2="69.30" y2="663.70" stroke="#111" stroke-width="1.2" />
<text x="60.1" y="666.7" font-size="8.6" text-anchor="end" fill="#222" >4</text>
<line x1="83.30" y1="746.90" x2="83.30" y2="750.90" stroke="#111" stroke-width="1.2" />
<line x1="115.60" y1="746.90" x2="115.60" y2="750.90" stroke="#111" stroke-width="1.2" />
<line x1="147.80" y1="746.90" x2="147.80" y2="750.90" stroke="#111" stroke-width="1.2" />
<path d="M89.6,676.9 V670.1 H154.3 V676.9 M122.0,670.1 V676.9" fill="none" stroke="#222" stroke-width="1.2"/>
<text x="122.2" y="668.9" font-size="7.6" text-anchor="middle" stroke="#111" stroke-width="0.25">***</text>
<text x="153.3" y="668.9" font-size="7.6" text-anchor="middle" stroke="#111" stroke-width="0.25">***</text>
<text x="115.8" y="651.5" font-size="12" text-anchor="middle" font-style="italic" textLength="33.1" lengthAdjust="spacingAndGlyphs" >Nr3c1</text>
<text transform="translate(46.3,704.0) rotate(-90)" x="0" y="0" font-size="11" text-anchor="middle" fill="#111" stroke="#111" stroke-width="0.25" textLength="93" lengthAdjust="spacingAndGlyphs">Relative expression (AU)</text>
<text transform="translate(88.0,760.6) rotate(-45)" x="0" y="0" font-size="9" text-anchor="end" fill="#111" textLength="11" lengthAdjust="spacingAndGlyphs">NS</text>
<text transform="translate(120.3,760.6) rotate(-45)" x="0" y="0" font-size="9" text-anchor="end" fill="#111" textLength="41.5" lengthAdjust="spacingAndGlyphs">shEsrrb_1</text>
<text transform="translate(152.5,760.6) rotate(-45)" x="0" y="0" font-size="9" text-anchor="end" fill="#111" textLength="41.5" lengthAdjust="spacingAndGlyphs">shEsrrb_2</text>
<rect x="221.80" y="733.56" width="8.00" height="13.34" fill="#2c4a85" />
<line x1="225.80" y1="734.06" x2="225.80" y2="729.52" stroke="#222" stroke-width="1.2" />
<line x1="223.80" y1="729.52" x2="227.80" y2="729.52" stroke="#222" stroke-width="1.2" />
<rect x="234.30" y="683.79" width="8.00" height="63.11" fill="#a50027" />
<line x1="238.30" y1="684.29" x2="238.30" y2="676.84" stroke="#222" stroke-width="1.2" />
<line x1="236.30" y1="676.84" x2="240.30" y2="676.84" stroke="#222" stroke-width="1.2" />
<rect x="254.30" y="728.83" width="8.00" height="18.07" fill="#2c4a85" />
<line x1="258.30" y1="729.33" x2="258.30" y2="724.10" stroke="#222" stroke-width="1.2" />
<line x1="256.30" y1="724.10" x2="260.30" y2="724.10" stroke="#222" stroke-width="1.2" />
<rect x="266.80" y="720.07" width="8.00" height="26.83" fill="#a50027" />
<line x1="270.80" y1="720.57" x2="270.80" y2="716.18" stroke="#222" stroke-width="1.2" />
<line x1="268.80" y1="716.18" x2="272.80" y2="716.18" stroke="#222" stroke-width="1.2" />
<rect x="286.60" y="734.25" width="8.00" height="12.65" fill="#2c4a85" />
<line x1="290.60" y1="734.75" x2="290.60" y2="732.30" stroke="#222" stroke-width="1.2" />
<line x1="288.60" y1="732.30" x2="292.60" y2="732.30" stroke="#222" stroke-width="1.2" />
<rect x="299.10" y="710.34" width="8.00" height="36.56" fill="#a50027" />
<line x1="303.10" y1="710.84" x2="303.10" y2="705.76" stroke="#222" stroke-width="1.2" />
<line x1="301.10" y1="705.76" x2="305.10" y2="705.76" stroke="#222" stroke-width="1.2" />
<line x1="217.40" y1="660.30" x2="217.40" y2="747.60" stroke="#111" stroke-width="1.4" />
<line x1="216.70" y1="746.90" x2="310.30" y2="746.90" stroke="#111" stroke-width="1.4" />
<line x1="213.40" y1="746.90" x2="217.40" y2="746.90" stroke="#111" stroke-width="1.2" />
<text x="208.2" y="749.9" font-size="8.6" text-anchor="end" fill="#222" >0</text>
<line x1="213.40" y1="719.10" x2="217.40" y2="719.10" stroke="#111" stroke-width="1.2" />
<text x="208.2" y="722.1" font-size="8.6" text-anchor="end" fill="#222" >2</text>
<line x1="213.40" y1="691.30" x2="217.40" y2="691.30" stroke="#111" stroke-width="1.2" />
<text x="208.2" y="694.3" font-size="8.6" text-anchor="end" fill="#222" >4</text>
<line x1="213.40" y1="663.50" x2="217.40" y2="663.50" stroke="#111" stroke-width="1.2" />
<text x="208.2" y="666.5" font-size="8.6" text-anchor="end" fill="#222" >6</text>
<line x1="232.00" y1="746.90" x2="232.00" y2="750.90" stroke="#111" stroke-width="1.2" />
<line x1="264.50" y1="746.90" x2="264.50" y2="750.90" stroke="#111" stroke-width="1.2" />
<line x1="296.80" y1="746.90" x2="296.80" y2="750.90" stroke="#111" stroke-width="1.2" />
<path d="M238.3,673.5 V668.4 H302.8 V675.8 M270.5,668.4 V675.8" fill="none" stroke="#222" stroke-width="1.2"/>
<text x="270.6" y="667.2" font-size="7.6" text-anchor="middle" stroke="#111" stroke-width="0.25">***</text>
<text x="302.4" y="667.2" font-size="7.6" text-anchor="middle" stroke="#111" stroke-width="0.25">***</text>
<text x="264.4" y="651.8" font-size="12" text-anchor="middle" font-style="italic" textLength="42.3" lengthAdjust="spacingAndGlyphs" >Bcl2l11</text>
<text transform="translate(194.2,703.2) rotate(-90)" x="0" y="0" font-size="11" text-anchor="middle" fill="#111" stroke="#111" stroke-width="0.25" textLength="93" lengthAdjust="spacingAndGlyphs">Relative expression (AU)</text>
<text transform="translate(236.7,760.6) rotate(-45)" x="0" y="0" font-size="9" text-anchor="end" fill="#111" textLength="11" lengthAdjust="spacingAndGlyphs">NS</text>
<text transform="translate(269.2,760.6) rotate(-45)" x="0" y="0" font-size="9" text-anchor="end" fill="#111" textLength="41.5" lengthAdjust="spacingAndGlyphs">shEsrrb_1</text>
<text transform="translate(301.5,760.6) rotate(-45)" x="0" y="0" font-size="9" text-anchor="end" fill="#111" textLength="41.5" lengthAdjust="spacingAndGlyphs">shEsrrb_2</text>
<rect x="370.30" y="727.31" width="8.00" height="19.59" fill="#2c4a85" />
<line x1="374.30" y1="727.81" x2="374.30" y2="726.50" stroke="#222" stroke-width="1.2" />
<line x1="372.30" y1="726.50" x2="376.30" y2="726.50" stroke="#222" stroke-width="1.2" />
<rect x="382.80" y="687.51" width="8.00" height="59.39" fill="#a50027" />
<line x1="386.80" y1="688.01" x2="386.80" y2="681.86" stroke="#222" stroke-width="1.2" />
<line x1="384.80" y1="681.86" x2="388.80" y2="681.86" stroke="#222" stroke-width="1.2" />
<rect x="401.80" y="720.24" width="8.00" height="26.66" fill="#2c4a85" />
<line x1="405.80" y1="720.74" x2="405.80" y2="714.18" stroke="#222" stroke-width="1.2" />
<line x1="403.80" y1="714.18" x2="407.80" y2="714.18" stroke="#222" stroke-width="1.2" />
<rect x="414.30" y="715.19" width="8.00" height="31.71" fill="#a50027" />
<line x1="418.30" y1="715.69" x2="418.30" y2="705.49" stroke="#222" stroke-width="1.2" />
<line x1="416.30" y1="705.49" x2="420.30" y2="705.49" stroke="#222" stroke-width="1.2" />
<rect x="433.30" y="726.09" width="8.00" height="20.81" fill="#2c4a85" />
<line x1="437.30" y1="726.59" x2="437.30" y2="724.48" stroke="#222" stroke-width="1.2" />
<line x1="435.30" y1="724.48" x2="439.30" y2="724.48" stroke="#222" stroke-width="1.2" />
<rect x="445.80" y="708.32" width="8.00" height="38.58" fill="#a50027" />
<line x1="449.80" y1="708.82" x2="449.80" y2="706.10" stroke="#222" stroke-width="1.2" />
<line x1="447.80" y1="706.10" x2="451.80" y2="706.10" stroke="#222" stroke-width="1.2" />
<line x1="366.40" y1="661.90" x2="366.40" y2="747.60" stroke="#111" stroke-width="1.4" />
<line x1="365.70" y1="746.90" x2="456.90" y2="746.90" stroke="#111" stroke-width="1.4" />
<line x1="362.40" y1="746.90" x2="366.40" y2="746.90" stroke="#111" stroke-width="1.2" />
<text x="357.2" y="749.9" font-size="8.6" text-anchor="end" fill="#222" >0</text>
<line x1="362.40" y1="726.70" x2="366.40" y2="726.70" stroke="#111" stroke-width="1.2" />
<text x="357.2" y="729.7" font-size="8.6" text-anchor="end" fill="#222" >1</text>
<line x1="362.40" y1="706.50" x2="366.40" y2="706.50" stroke="#111" stroke-width="1.2" />
<text x="357.2" y="709.5" font-size="8.6" text-anchor="end" fill="#222" >2</text>
<line x1="362.40" y1="686.30" x2="366.40" y2="686.30" stroke="#111" stroke-width="1.2" />
<text x="357.2" y="689.3" font-size="8.6" text-anchor="end" fill="#222" >3</text>
<line x1="362.40" y1="666.10" x2="366.40" y2="666.10" stroke="#111" stroke-width="1.2" />
<text x="357.2" y="669.1" font-size="8.6" text-anchor="end" fill="#222" >4</text>
<line x1="380.50" y1="746.90" x2="380.50" y2="750.90" stroke="#111" stroke-width="1.2" />
<line x1="412.00" y1="746.90" x2="412.00" y2="750.90" stroke="#111" stroke-width="1.2" />
<line x1="443.50" y1="746.90" x2="443.50" y2="750.90" stroke="#111" stroke-width="1.2" />
<path d="M386.5,678.8 V672.3 H449.6 V678.8 M417.7,672.3 V678.8" fill="none" stroke="#222" stroke-width="1.2"/>
<text x="418.0" y="671.0" font-size="7.6" text-anchor="middle" stroke="#111" stroke-width="0.25">***</text>
<text x="448.5" y="671.0" font-size="7.6" text-anchor="middle" stroke="#111" stroke-width="0.25">**</text>
<text x="412.6" y="653.5" font-size="12" text-anchor="middle" font-style="italic" textLength="46.2" lengthAdjust="spacingAndGlyphs" >Tsc22d3</text>
<text transform="translate(342.4,704.2) rotate(-90)" x="0" y="0" font-size="11" text-anchor="middle" fill="#111" stroke="#111" stroke-width="0.25" textLength="93" lengthAdjust="spacingAndGlyphs">Relative expression (AU)</text>
<text transform="translate(385.2,760.6) rotate(-45)" x="0" y="0" font-size="9" text-anchor="end" fill="#111" textLength="11" lengthAdjust="spacingAndGlyphs">NS</text>
<text transform="translate(416.7,760.6) rotate(-45)" x="0" y="0" font-size="9" text-anchor="end" fill="#111" textLength="41.5" lengthAdjust="spacingAndGlyphs">shEsrrb_1</text>
<text transform="translate(448.2,760.6) rotate(-45)" x="0" y="0" font-size="9" text-anchor="end" fill="#111" textLength="41.5" lengthAdjust="spacingAndGlyphs">shEsrrb_2</text>
<rect x="471.00" y="696.20" width="10.10" height="4.80" fill="#2c4a85" />
<text x="486.0" y="701.0" font-size="7.9" fill="#222" textLength="23.0" lengthAdjust="spacingAndGlyphs" >DMSO</text>
<rect x="471.00" y="707.20" width="10.10" height="5.00" fill="#a50027" />
<text x="486.0" y="712.3" font-size="7.9" fill="#222" textLength="12.0" lengthAdjust="spacingAndGlyphs" >Dex</text>
<text x="10.6" y="828.8" font-size="16.6" font-weight="bold" fill="#000" >D</text>
<text x="36.5" y="822.2" font-size="9" fill="#222" textLength="31.2" lengthAdjust="spacingAndGlyphs" >shRNA:</text>
<text x="50.4" y="839.4" font-size="9" fill="#222" textLength="17.3" lengthAdjust="spacingAndGlyphs" >Dex:</text>
<text x="86.5" y="822.3" font-size="9.2" text-anchor="middle" textLength="13.6" lengthAdjust="spacingAndGlyphs" >NS</text>
<text x="117.0" y="822.3" font-size="9.2" text-anchor="middle" font-style="italic" textLength="34.6" lengthAdjust="spacingAndGlyphs" >Nr3c1_1</text>
<text x="153.3" y="822.3" font-size="9.2" text-anchor="middle" font-style="italic" textLength="30.5" lengthAdjust="spacingAndGlyphs" >Esrrb_1</text>
<line x1="74.30" y1="826.50" x2="98.10" y2="826.50" stroke="#111" stroke-width="1.3" />
<line x1="103.80" y1="826.50" x2="128.10" y2="826.50" stroke="#111" stroke-width="1.3" />
<line x1="136.80" y1="826.50" x2="160.90" y2="826.50" stroke="#111" stroke-width="1.3" />
<text x="78.5" y="839.4" font-size="9" text-anchor="middle" >-</text>
<text x="91.2" y="839.4" font-size="9" text-anchor="middle" >+</text>
<text x="108.5" y="839.4" font-size="9" text-anchor="middle" >-</text>
<text x="122.8" y="839.4" font-size="9" text-anchor="middle" >+</text>
<text x="138.9" y="839.4" font-size="9" text-anchor="middle" >-</text>
<text x="155.8" y="839.4" font-size="9" text-anchor="middle" >+</text>
<defs><filter id="bl" x="-20%" y="-100%" width="140%" height="300%"><feGaussianBlur stdDeviation="1.3 1.0"/></filter><filter id="bl2" x="-20%" y="-100%" width="140%" height="300%"><feGaussianBlur stdDeviation="1.3 0.75"/></filter></defs>
<rect x="67.5" y="843.6" width="102.2" height="75.6" fill="#fff" stroke="#666" stroke-width="1"/>
<rect x="67.7" y="922.5" width="101.8" height="15.8" fill="#fff" stroke="#666" stroke-width="1"/>
<rect x="67.7" y="940.4" width="102.0" height="20.9" fill="#fff" stroke="#666" stroke-width="1"/>
<g>
<rect x="72.6" y="854.2" width="12.0" height="2.5" rx="1.2" fill="#000" fill-opacity="0.08" filter="url(#bl)"/>
<rect x="86.8" y="853.2" width="12.0" height="2.5" rx="1.2" fill="#000" fill-opacity="0.08" filter="url(#bl)"/>
<rect x="102.4" y="854.2" width="12.0" height="2.5" rx="1.2" fill="#000" fill-opacity="0.08" filter="url(#bl)"/>
<rect x="119.1" y="854.8" width="12.0" height="2.5" rx="1.2" fill="#000" fill-opacity="0.08" filter="url(#bl)"/>
<rect x="134.3" y="853.2" width="12.0" height="2.5" rx="1.2" fill="#000" fill-opacity="0.08" filter="url(#bl)"/>
<rect x="151.4" y="850.2" width="12.0" height="2.5" rx="1.2" fill="#000" fill-opacity="0.08" filter="url(#bl)"/>
<rect x="72.1" y="858.9" width="13.0" height="4.6" rx="2.3" fill="#000" fill-opacity="0.45" filter="url(#bl)"/>
<rect x="86.3" y="857.2" width="13.0" height="7.0" rx="3.5" fill="#000" fill-opacity="0.9" filter="url(#bl)"/>
<rect x="101.9" y="858.6" width="13.0" height="4.8" rx="2.4" fill="#000" fill-opacity="0.52" filter="url(#bl)" transform="rotate(3 108.4 861.0)"/>
<rect x="118.6" y="859.1" width="13.0" height="5.2" rx="2.6" fill="#000" fill-opacity="0.5" filter="url(#bl)"/>
<rect x="133.8" y="858.0" width="13.0" height="4.4" rx="2.2" fill="#000" fill-opacity="0.36" filter="url(#bl)" transform="rotate(-4 140.3 860.2)"/>
<rect x="150.9" y="854.8" width="13.0" height="5.4" rx="2.7" fill="#000" fill-opacity="0.8" filter="url(#bl)" transform="rotate(-5 157.4 857.5)"/>
<rect x="87.8" y="874.1" width="10.0" height="2.2" rx="1.1" fill="#000" fill-opacity="0.12" filter="url(#bl)"/>
<rect x="153.4" y="869.8" width="8.0" height="1.5" rx="0.8" fill="#000" fill-opacity="0.06" filter="url(#bl)"/>
<rect x="72.3" y="890.1" width="12.5" height="2.2" rx="1.1" fill="#000" fill-opacity="0.14" filter="url(#bl)"/>
<rect x="86.5" y="888.6" width="12.5" height="4.4" rx="2.2" fill="#000" fill-opacity="0.55" filter="url(#bl)"/>
<rect x="102.2" y="889.7" width="12.5" height="2.6" rx="1.3" fill="#000" fill-opacity="0.2" filter="url(#bl)"/>
<rect x="118.8" y="890.3" width="12.5" height="2.4" rx="1.2" fill="#000" fill-opacity="0.17" filter="url(#bl)"/>
<rect x="134.1" y="889.8" width="12.5" height="2.4" rx="1.2" fill="#000" fill-opacity="0.17" filter="url(#bl)" transform="rotate(-3 140.3 891.0)"/>
<rect x="151.2" y="887.0" width="12.5" height="3.4" rx="1.7" fill="#000" fill-opacity="0.38" filter="url(#bl)" transform="rotate(-6 157.4 888.7)"/>
<rect x="73.1" y="903.7" width="11.0" height="2.2" rx="1.1" fill="#000" fill-opacity="0.06" filter="url(#bl)"/>
<rect x="87.3" y="903.6" width="11.0" height="2.2" rx="1.1" fill="#000" fill-opacity="0.3" filter="url(#bl)"/>
<rect x="102.9" y="903.8" width="11.0" height="2.2" rx="1.1" fill="#000" fill-opacity="0.05" filter="url(#bl)"/>
<rect x="119.6" y="903.9" width="11.0" height="2.2" rx="1.1" fill="#000" fill-opacity="0.05" filter="url(#bl)"/>
<rect x="134.8" y="903.9" width="11.0" height="2.2" rx="1.1" fill="#000" fill-opacity="0.03" filter="url(#bl)"/>
<rect x="151.9" y="903.9" width="11.0" height="2.2" rx="1.1" fill="#000" fill-opacity="0.03" filter="url(#bl)"/>
<rect x="71.2" y="930.1" width="12.5" height="2.4" rx="1.2" fill="#000" fill-opacity="0.28" filter="url(#bl)"/>
<rect x="88.0" y="928.7" width="12.5" height="4.6" rx="2.3" fill="#000" fill-opacity="1.0" filter="url(#bl)"/>
<rect x="105.2" y="929.7" width="12.5" height="2.4" rx="1.2" fill="#000" fill-opacity="0.33" filter="url(#bl)"/>
<rect x="121.8" y="930.2" width="12.5" height="2.2" rx="1.1" fill="#000" fill-opacity="0.3" filter="url(#bl)"/>
<rect x="136.4" y="931.0" width="12.5" height="2.0" rx="1.0" fill="#000" fill-opacity="0.22" filter="url(#bl)"/>
<rect x="149.8" y="929.4" width="12.5" height="2.0" rx="1.0" fill="#000" fill-opacity="0.22" filter="url(#bl)"/>
<rect x="71.1" y="950.9" width="12.0" height="2.3" rx="1.1" fill="#000" fill-opacity="0.8" filter="url(#bl2)" transform="rotate(-2 77.1 952.0)"/>
<rect x="85.2" y="950.1" width="12.0" height="2.3" rx="1.1" fill="#000" fill-opacity="0.8" filter="url(#bl2)" transform="rotate(-2 91.2 951.2)"/>
<rect x="100.4" y="949.4" width="12.0" height="2.3" rx="1.1" fill="#000" fill-opacity="0.8" filter="url(#bl2)" transform="rotate(-2 106.4 950.5)"/>
<rect x="116.3" y="948.6" width="12.0" height="2.3" rx="1.1" fill="#000" fill-opacity="0.8" filter="url(#bl2)" transform="rotate(-2 122.3 949.8)"/>
<rect x="131.2" y="947.9" width="12.0" height="2.3" rx="1.1" fill="#000" fill-opacity="0.8" filter="url(#bl2)" transform="rotate(-2 137.2 949.0)"/>
<rect x="147.4" y="946.8" width="12.0" height="2.3" rx="1.1" fill="#000" fill-opacity="0.8" filter="url(#bl2)" transform="rotate(-2 153.4 947.9)"/>
</g>
<text x="173.1" y="857.5" font-size="9" textLength="16.1" lengthAdjust="spacingAndGlyphs" >BIM</text>
<text x="189.6" y="859.7" font-size="5.0" >EL</text>
<text x="173.1" y="886.3" font-size="9" textLength="16.1" lengthAdjust="spacingAndGlyphs" >BIM</text>
<text x="189.6" y="888.5" font-size="5.0" >L</text>
<text x="173.1" y="909.5" font-size="9" textLength="16.1" lengthAdjust="spacingAndGlyphs" >BIM</text>
<text x="189.6" y="911.7" font-size="5.0" >S</text>
<text x="172.2" y="933.5" font-size="9" textLength="16.1" lengthAdjust="spacingAndGlyphs" >BIM</text>
<text x="189.0" y="937.8" font-size="5.4" fill="#333" textLength="17.8" lengthAdjust="spacingAndGlyphs" >S-Long</text>
<text x="193.8" y="943.4" font-size="5.4" fill="#333" textLength="23.0" lengthAdjust="spacingAndGlyphs" >Exposure</text>
<text x="172.5" y="953.5" font-size="8.7" textLength="26.6" lengthAdjust="spacingAndGlyphs" >ACTIN</text>
<rect x="270.60" y="899.32" width="8.00" height="14.38" fill="#2c4a85" />
<line x1="274.60" y1="899.82" x2="274.60" y2="899.01" stroke="#222" stroke-width="1.2" />
<line x1="272.60" y1="899.01" x2="276.60" y2="899.01" stroke="#222" stroke-width="1.2" />
<rect x="283.10" y="854.49" width="8.00" height="59.21" fill="#a50027" />
<line x1="287.10" y1="854.99" x2="287.10" y2="848.52" stroke="#222" stroke-width="1.2" />
<line x1="285.10" y1="848.52" x2="289.10" y2="848.52" stroke="#222" stroke-width="1.2" />
<rect x="302.20" y="890.75" width="8.00" height="22.95" fill="#2c4a85" />
<line x1="306.20" y1="891.25" x2="306.20" y2="886.16" stroke="#222" stroke-width="1.2" />
<line x1="304.20" y1="886.16" x2="308.20" y2="886.16" stroke="#222" stroke-width="1.2" />
<rect x="314.70" y="890.44" width="8.00" height="23.26" fill="#a50027" />
<line x1="318.70" y1="890.94" x2="318.70" y2="886.16" stroke="#222" stroke-width="1.2" />
<line x1="316.70" y1="886.16" x2="320.70" y2="886.16" stroke="#222" stroke-width="1.2" />
<rect x="333.20" y="896.26" width="8.00" height="17.44" fill="#2c4a85" />
<line x1="337.20" y1="896.76" x2="337.20" y2="892.13" stroke="#222" stroke-width="1.2" />
<line x1="335.20" y1="892.13" x2="339.20" y2="892.13" stroke="#222" stroke-width="1.2" />
<rect x="345.70" y="875.14" width="8.00" height="38.56" fill="#a50027" />
<line x1="349.70" y1="875.64" x2="349.70" y2="866.73" stroke="#222" stroke-width="1.2" />
<line x1="347.70" y1="866.73" x2="351.70" y2="866.73" stroke="#222" stroke-width="1.2" />
<line x1="267.00" y1="832.80" x2="267.00" y2="914.40" stroke="#111" stroke-width="1.4" />
<line x1="266.30" y1="913.70" x2="357.10" y2="913.70" stroke="#111" stroke-width="1.4" />
<line x1="263.00" y1="913.70" x2="267.00" y2="913.70" stroke="#111" stroke-width="1.2" />
<text x="257.8" y="916.7" font-size="8.6" text-anchor="end" fill="#222" >0</text>
<line x1="263.00" y1="898.40" x2="267.00" y2="898.40" stroke="#111" stroke-width="1.2" />
<text x="257.8" y="901.4" font-size="8.6" text-anchor="end" fill="#222" >1</text>
<line x1="263.00" y1="883.10" x2="267.00" y2="883.10" stroke="#111" stroke-width="1.2" />
<text x="257.8" y="886.1" font-size="8.6" text-anchor="end" fill="#222" >2</text>
<line x1="263.00" y1="867.80" x2="267.00" y2="867.80" stroke="#111" stroke-width="1.2" />
<text x="257.8" y="870.8" font-size="8.6" text-anchor="end" fill="#222" >3</text>
<line x1="263.00" y1="852.50" x2="267.00" y2="852.50" stroke="#111" stroke-width="1.2" />
<text x="257.8" y="855.5" font-size="8.6" text-anchor="end" fill="#222" >4</text>
<line x1="263.00" y1="837.20" x2="267.00" y2="837.20" stroke="#111" stroke-width="1.2" />
<text x="257.8" y="840.2" font-size="8.6" text-anchor="end" fill="#222" >5</text>
<line x1="280.80" y1="913.70" x2="280.80" y2="917.70" stroke="#111" stroke-width="1.2" />
<line x1="312.40" y1="913.70" x2="312.40" y2="917.70" stroke="#111" stroke-width="1.2" />
<line x1="343.40" y1="913.70" x2="343.40" y2="917.70" stroke="#111" stroke-width="1.2" />
<path d="M287.0,844.9 V838.9 H348.2 V844.9 M315.2,838.9 V846.0" fill="none" stroke="#222" stroke-width="1.2"/>
<text x="315.2" y="837.6" font-size="7.6" text-anchor="middle" stroke="#111" stroke-width="0.25">***</text>
<text x="348.4" y="837.6" font-size="7.6" text-anchor="middle" stroke="#111" stroke-width="0.25">***</text>
<text x="312.3" y="824.8" font-size="12.5" text-anchor="middle" textLength="22.7" lengthAdjust="spacingAndGlyphs" >BIM</text>
<text transform="translate(245.0,872.5) rotate(-90)" x="0" y="0" font-size="11" text-anchor="middle" fill="#111" stroke="#111" stroke-width="0.25" textLength="93" lengthAdjust="spacingAndGlyphs">Relative expression (AU)</text>
<text transform="translate(285.5,927.4) rotate(-45)" x="0" y="0" font-size="9" text-anchor="end" fill="#111" textLength="13" lengthAdjust="spacingAndGlyphs">NS</text>
<text transform="translate(317.1,927.4) rotate(-45)" x="0" y="0" font-size="9" text-anchor="end" fill="#111" font-style="italic" textLength="45.5" lengthAdjust="spacingAndGlyphs">shNr3c1_1</text>
<text transform="translate(348.1,927.4) rotate(-45)" x="0" y="0" font-size="9" text-anchor="end" fill="#111" font-style="italic" textLength="43" lengthAdjust="spacingAndGlyphs">shEsrrb_1</text>
<rect x="421.80" y="906.92" width="8.00" height="6.98" fill="#2c4a85" />
<line x1="425.80" y1="907.42" x2="425.80" y2="906.54" stroke="#222" stroke-width="1.2" />
<line x1="423.80" y1="906.54" x2="427.80" y2="906.54" stroke="#222" stroke-width="1.2" />
<rect x="434.30" y="862.51" width="8.00" height="51.39" fill="#a50027" />
<line x1="438.30" y1="863.01" x2="438.30" y2="849.47" stroke="#222" stroke-width="1.2" />
<line x1="436.30" y1="849.47" x2="440.30" y2="849.47" stroke="#222" stroke-width="1.2" />
<rect x="453.30" y="906.46" width="8.00" height="7.44" fill="#2c4a85" />
<line x1="457.30" y1="906.96" x2="457.30" y2="903.55" stroke="#222" stroke-width="1.2" />
<line x1="455.30" y1="903.55" x2="459.30" y2="903.55" stroke="#222" stroke-width="1.2" />
<rect x="465.80" y="905.85" width="8.00" height="8.05" fill="#a50027" />
<line x1="469.80" y1="906.35" x2="469.80" y2="902.39" stroke="#222" stroke-width="1.2" />
<line x1="467.80" y1="902.39" x2="471.80" y2="902.39" stroke="#222" stroke-width="1.2" />
<rect x="484.80" y="909.68" width="8.00" height="4.22" fill="#2c4a85" />
<line x1="488.80" y1="910.18" x2="488.80" y2="908.53" stroke="#222" stroke-width="1.2" />
<line x1="486.80" y1="908.53" x2="490.80" y2="908.53" stroke="#222" stroke-width="1.2" />
<rect x="497.30" y="898.87" width="8.00" height="15.03" fill="#a50027" />
<line x1="501.30" y1="899.37" x2="501.30" y2="886.29" stroke="#222" stroke-width="1.2" />
<line x1="499.30" y1="886.29" x2="503.30" y2="886.29" stroke="#222" stroke-width="1.2" />
<line x1="418.50" y1="833.10" x2="418.50" y2="914.60" stroke="#111" stroke-width="1.4" />
<line x1="417.80" y1="913.90" x2="508.80" y2="913.90" stroke="#111" stroke-width="1.4" />
<line x1="414.50" y1="913.90" x2="418.50" y2="913.90" stroke="#111" stroke-width="1.2" />
<text x="409.3" y="916.9" font-size="8.6" text-anchor="end" fill="#222" >0</text>
<line x1="414.50" y1="898.56" x2="418.50" y2="898.56" stroke="#111" stroke-width="1.2" />
<text x="409.3" y="901.6" font-size="8.6" text-anchor="end" fill="#222" >2</text>
<line x1="414.50" y1="883.22" x2="418.50" y2="883.22" stroke="#111" stroke-width="1.2" />
<text x="409.3" y="886.2" font-size="8.6" text-anchor="end" fill="#222" >4</text>
<line x1="414.50" y1="867.88" x2="418.50" y2="867.88" stroke="#111" stroke-width="1.2" />
<text x="409.3" y="870.9" font-size="8.6" text-anchor="end" fill="#222" >6</text>
<line x1="414.50" y1="852.54" x2="418.50" y2="852.54" stroke="#111" stroke-width="1.2" />
<text x="409.3" y="855.5" font-size="8.6" text-anchor="end" fill="#222" >8</text>
<line x1="414.50" y1="837.20" x2="418.50" y2="837.20" stroke="#111" stroke-width="1.2" />
<text x="409.3" y="840.2" font-size="8.6" text-anchor="end" fill="#222" >10</text>
<line x1="432.00" y1="913.90" x2="432.00" y2="917.90" stroke="#111" stroke-width="1.2" />
<line x1="463.50" y1="913.90" x2="463.50" y2="917.90" stroke="#111" stroke-width="1.2" />
<line x1="495.00" y1="913.90" x2="495.00" y2="917.90" stroke="#111" stroke-width="1.2" />
<path d="M438.6,846.9 V841.6 H499.2 V847.4 M467.4,841.6 V847.4" fill="none" stroke="#222" stroke-width="1.2"/>
<text x="467.2" y="840.4" font-size="7.6" text-anchor="middle" stroke="#111" stroke-width="0.25">**</text>
<text x="499.2" y="840.4" font-size="7.6" text-anchor="middle" stroke="#111" stroke-width="0.25">**</text>
<text x="460.6" y="825.5" font-size="12.5" text-anchor="middle" textLength="19.6" lengthAdjust="spacingAndGlyphs" >BIM</text>
<text transform="translate(390.5,872.5) rotate(-90)" x="0" y="0" font-size="11" text-anchor="middle" fill="#111" stroke="#111" stroke-width="0.25" textLength="93" lengthAdjust="spacingAndGlyphs">Relative expression (AU)</text>
<text transform="translate(436.7,927.6) rotate(-45)" x="0" y="0" font-size="9" text-anchor="end" fill="#111" textLength="13" lengthAdjust="spacingAndGlyphs">NS</text>
<text transform="translate(468.2,927.6) rotate(-45)" x="0" y="0" font-size="9" text-anchor="end" fill="#111" font-style="italic" textLength="45.5" lengthAdjust="spacingAndGlyphs">shNr3c1_1</text>
<text transform="translate(499.7,927.6) rotate(-45)" x="0" y="0" font-size="9" text-anchor="end" fill="#111" font-style="italic" textLength="43" lengthAdjust="spacingAndGlyphs">shEsrrb_1</text>
<text x="471.2" y="827.3" font-size="6.0" >S</text>
<rect x="272.50" y="968.20" width="9.50" height="4.20" fill="#2c4a85" />
<text x="287.1" y="972.9" font-size="7.9" fill="#222" textLength="23.4" lengthAdjust="spacingAndGlyphs" >DMSO</text>
<rect x="324.20" y="968.20" width="9.50" height="4.20" fill="#a50027" />
<text x="339.0" y="972.9" font-size="7.9" fill="#222" textLength="12.8" lengthAdjust="spacingAndGlyphs" >Dex</text>
<rect x="424.40" y="968.20" width="9.50" height="4.20" fill="#2c4a85" />
<text x="438.6" y="972.9" font-size="7.9" fill="#222" textLength="23.4" lengthAdjust="spacingAndGlyphs" >DMSO</text>
<rect x="476.20" y="968.20" width="9.50" height="4.20" fill="#a50027" />
<text x="490.4" y="972.9" font-size="7.9" fill="#222" textLength="12.8" lengthAdjust="spacingAndGlyphs" >Dex</text><rect x="0.9" y="0.9" width="518.2" height="983.2" fill="none" stroke="#000" stroke-width="1.8"/></svg></body></html>
